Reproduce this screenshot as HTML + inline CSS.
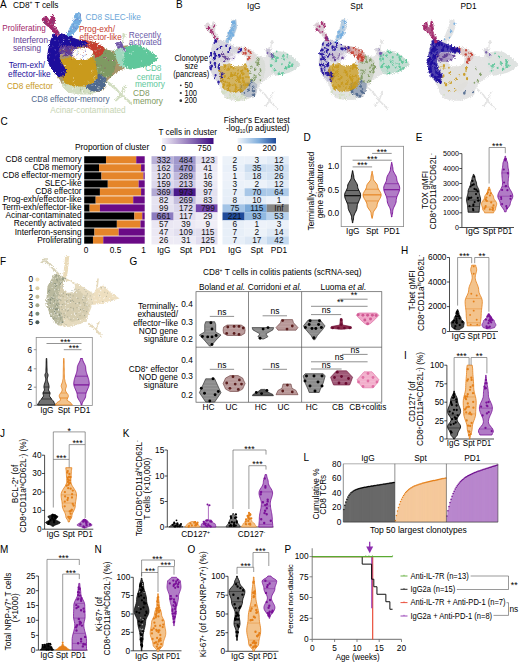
<!DOCTYPE html>
<html><head><meta charset="utf-8"><style>
html,body{margin:0;padding:0;background:#fff;width:520px;height:662px;overflow:hidden}
svg{display:block}
text{font-family:"Liberation Sans", sans-serif}
</style></head><body>
<svg width="520" height="662" viewBox="0 0 520 662">
<text x="0.60" y="124.80" font-size="10" transform="matrix(1,0,0,1.1,0,-12.48)" >C</text>
<text x="81.60" y="162.35" font-size="8.3" text-anchor="end" transform="matrix(1,0,0,1.1,0,-16.24)" >CD8 central memory</text>
<rect x="84.20" y="156.25" width="21.78" height="7.20" fill="#000" />
<rect x="105.98" y="156.25" width="30.25" height="7.20" fill="#e5852a" />
<rect x="136.23" y="156.25" width="8.47" height="7.20" fill="#6a0a86" />
<text x="81.60" y="170.37" font-size="8.3" text-anchor="end" transform="matrix(1,0,0,1.1,0,-17.04)" >CD8 memory</text>
<rect x="84.20" y="164.27" width="14.82" height="7.20" fill="#000" />
<rect x="99.02" y="164.27" width="42.05" height="7.20" fill="#e5852a" />
<rect x="141.07" y="164.27" width="3.63" height="7.20" fill="#6a0a86" />
<text x="81.60" y="178.39" font-size="8.3" text-anchor="end" transform="matrix(1,0,0,1.1,0,-17.84)" >CD8 effector-memory</text>
<rect x="84.20" y="172.29" width="17.30" height="7.20" fill="#000" />
<rect x="101.50" y="172.29" width="41.99" height="7.20" fill="#e5852a" />
<rect x="143.49" y="172.29" width="1.21" height="7.20" fill="#6a0a86" />
<text x="81.60" y="186.41" font-size="8.3" text-anchor="end" transform="matrix(1,0,0,1.1,0,-18.64)" >SLEC-like</text>
<rect x="84.20" y="180.31" width="23.60" height="7.20" fill="#000" />
<rect x="107.80" y="180.31" width="30.86" height="7.20" fill="#e5852a" />
<rect x="138.65" y="180.31" width="6.05" height="7.20" fill="#6a0a86" />
<text x="81.60" y="194.43" font-size="8.3" text-anchor="end" transform="matrix(1,0,0,1.1,0,-19.44)" >CD8 effector</text>
<rect x="84.20" y="188.33" width="15.73" height="7.20" fill="#000" />
<rect x="99.93" y="188.33" width="41.14" height="7.20" fill="#e5852a" />
<rect x="141.07" y="188.33" width="3.63" height="7.20" fill="#6a0a86" />
<text x="81.60" y="202.45" font-size="8.3" text-anchor="end" transform="matrix(1,0,0,1.1,0,-20.25)" >Prog-exh/effector-like</text>
<rect x="84.20" y="196.35" width="11.50" height="7.20" fill="#000" />
<rect x="95.70" y="196.35" width="37.51" height="7.20" fill="#e5852a" />
<rect x="133.21" y="196.35" width="11.49" height="7.20" fill="#6a0a86" />
<text x="81.60" y="210.47" font-size="8.3" text-anchor="end" transform="matrix(1,0,0,1.1,0,-21.05)" >Term-exh/effector-like</text>
<rect x="84.20" y="204.37" width="5.44" height="7.20" fill="#000" />
<rect x="89.64" y="204.37" width="10.29" height="7.20" fill="#e5852a" />
<rect x="99.93" y="204.37" width="44.77" height="7.20" fill="#6a0a86" />
<text x="81.60" y="218.49" font-size="8.3" text-anchor="end" transform="matrix(1,0,0,1.1,0,-21.85)" >Acinar-contaminated</text>
<rect x="84.20" y="212.39" width="50.21" height="7.20" fill="#000" />
<rect x="134.41" y="212.39" width="7.87" height="7.20" fill="#e5852a" />
<rect x="142.28" y="212.39" width="2.42" height="7.20" fill="#6a0a86" />
<text x="81.60" y="226.51" font-size="8.3" text-anchor="end" transform="matrix(1,0,0,1.1,0,-22.65)" >Recently activated</text>
<rect x="84.20" y="220.41" width="32.67" height="7.20" fill="#000" />
<rect x="116.87" y="220.41" width="23.60" height="7.20" fill="#e5852a" />
<rect x="140.47" y="220.41" width="4.23" height="7.20" fill="#6a0a86" />
<text x="81.60" y="234.53" font-size="8.3" text-anchor="end" transform="matrix(1,0,0,1.1,0,-23.45)" >Interferon-sensing</text>
<rect x="84.20" y="228.43" width="10.29" height="7.20" fill="#000" />
<rect x="94.48" y="228.43" width="24.20" height="7.20" fill="#e5852a" />
<rect x="118.69" y="228.43" width="26.02" height="7.20" fill="#6a0a86" />
<text x="81.60" y="242.55" font-size="8.3" text-anchor="end" transform="matrix(1,0,0,1.1,0,-24.26)" >Proliferating</text>
<rect x="84.20" y="236.45" width="8.77" height="7.20" fill="#000" />
<rect x="92.97" y="236.45" width="10.29" height="7.20" fill="#e5852a" />
<rect x="103.26" y="236.45" width="41.44" height="7.20" fill="#6a0a86" />
<text x="75.00" y="150.50" font-size="8.3" transform="matrix(1,0,0,1.1,0,-15.05)" >Proportion of cluster</text>
<text x="86.00" y="252.60" font-size="8.3" text-anchor="middle" transform="matrix(1,0,0,1.1,0,-25.26)" >0</text>
<text x="115.50" y="252.60" font-size="8.3" text-anchor="middle" transform="matrix(1,0,0,1.1,0,-25.26)" >0.5</text>
<text x="143.50" y="252.60" font-size="8.3" text-anchor="middle" transform="matrix(1,0,0,1.1,0,-25.26)" >1</text>
<rect x="151.50" y="156.20" width="22.10" height="8.07" fill="#b8b0d8" />
<text x="163.75" y="163.21" font-size="8.3" text-anchor="middle" fill="#111" transform="matrix(1,0,0,1.1,0,-16.32)" >332</text>
<rect x="222.50" y="156.20" width="22.10" height="8.07" fill="#ecf2f9" />
<text x="234.75" y="163.21" font-size="8.3" text-anchor="middle" fill="#111" transform="matrix(1,0,0,1.1,0,-16.32)" >2</text>
<rect x="173.60" y="156.20" width="22.20" height="8.07" fill="#a098cc" />
<text x="185.90" y="163.21" font-size="8.3" text-anchor="middle" fill="#111" transform="matrix(1,0,0,1.1,0,-16.32)" >484</text>
<rect x="244.60" y="156.20" width="22.10" height="8.07" fill="#ebf1f9" />
<text x="256.85" y="163.21" font-size="8.3" text-anchor="middle" fill="#111" transform="matrix(1,0,0,1.1,0,-16.32)" >3</text>
<rect x="195.80" y="156.20" width="21.70" height="8.07" fill="#e1deef" />
<text x="207.85" y="163.21" font-size="8.3" text-anchor="middle" fill="#111" transform="matrix(1,0,0,1.1,0,-16.32)" >123</text>
<rect x="266.70" y="156.20" width="22.10" height="8.07" fill="#e2ecf7" />
<text x="278.95" y="163.21" font-size="8.3" text-anchor="middle" fill="#111" transform="matrix(1,0,0,1.1,0,-16.32)" >12</text>
<rect x="151.50" y="164.22" width="22.10" height="8.07" fill="#dcd8ec" />
<text x="163.75" y="171.23" font-size="8.3" text-anchor="middle" fill="#111" transform="matrix(1,0,0,1.1,0,-17.12)" >162</text>
<rect x="222.50" y="164.22" width="22.10" height="8.07" fill="#e9f0f9" />
<text x="234.75" y="171.23" font-size="8.3" text-anchor="middle" fill="#111" transform="matrix(1,0,0,1.1,0,-17.12)" >5</text>
<rect x="173.60" y="164.22" width="22.20" height="8.07" fill="#a29acd" />
<text x="185.90" y="171.23" font-size="8.3" text-anchor="middle" fill="#111" transform="matrix(1,0,0,1.1,0,-17.12)" >470</text>
<rect x="244.60" y="164.22" width="22.10" height="8.07" fill="#cbddf0" />
<text x="256.85" y="171.23" font-size="8.3" text-anchor="middle" fill="#111" transform="matrix(1,0,0,1.1,0,-17.12)" >35</text>
<rect x="195.80" y="164.22" width="21.70" height="8.07" fill="#ece9f4" />
<text x="207.85" y="171.23" font-size="8.3" text-anchor="middle" fill="#111" transform="matrix(1,0,0,1.1,0,-17.12)" >41</text>
<rect x="266.70" y="164.22" width="22.10" height="8.07" fill="#d0e0f2" />
<text x="278.95" y="171.23" font-size="8.3" text-anchor="middle" fill="#111" transform="matrix(1,0,0,1.1,0,-17.12)" >30</text>
<rect x="151.50" y="172.24" width="22.10" height="8.07" fill="#e1deef" />
<text x="163.75" y="179.25" font-size="8.3" text-anchor="middle" fill="#111" transform="matrix(1,0,0,1.1,0,-17.93)" >120</text>
<rect x="222.50" y="172.24" width="22.10" height="8.07" fill="#edf2fa" />
<text x="234.75" y="179.25" font-size="8.3" text-anchor="middle" fill="#111" transform="matrix(1,0,0,1.1,0,-17.93)" >1</text>
<rect x="173.60" y="172.24" width="22.20" height="8.07" fill="#c1badd" />
<text x="185.90" y="179.25" font-size="8.3" text-anchor="middle" fill="#111" transform="matrix(1,0,0,1.1,0,-17.93)" >289</text>
<rect x="244.60" y="172.24" width="22.10" height="8.07" fill="#dce8f5" />
<text x="256.85" y="179.25" font-size="8.3" text-anchor="middle" fill="#111" transform="matrix(1,0,0,1.1,0,-17.93)" >18</text>
<rect x="195.80" y="172.24" width="21.70" height="8.07" fill="#efedf6" />
<text x="207.85" y="179.25" font-size="8.3" text-anchor="middle" fill="#111" transform="matrix(1,0,0,1.1,0,-17.93)" >16</text>
<rect x="266.70" y="172.24" width="22.10" height="8.07" fill="#d4e3f3" />
<text x="278.95" y="179.25" font-size="8.3" text-anchor="middle" fill="#111" transform="matrix(1,0,0,1.1,0,-17.93)" >26</text>
<rect x="151.50" y="180.26" width="22.10" height="8.07" fill="#dcd8ec" />
<text x="163.75" y="187.27" font-size="8.3" text-anchor="middle" fill="#111" transform="matrix(1,0,0,1.1,0,-18.73)" >159</text>
<rect x="222.50" y="180.26" width="22.10" height="8.07" fill="#ebf1f9" />
<text x="234.75" y="187.27" font-size="8.3" text-anchor="middle" fill="#111" transform="matrix(1,0,0,1.1,0,-18.73)" >3</text>
<rect x="173.60" y="180.26" width="22.20" height="8.07" fill="#d1cce6" />
<text x="185.90" y="187.27" font-size="8.3" text-anchor="middle" fill="#111" transform="matrix(1,0,0,1.1,0,-18.73)" >213</text>
<rect x="244.60" y="180.26" width="22.10" height="8.07" fill="#ecf2f9" />
<text x="256.85" y="187.27" font-size="8.3" text-anchor="middle" fill="#111" transform="matrix(1,0,0,1.1,0,-18.73)" >2</text>
<rect x="195.80" y="180.26" width="21.70" height="8.07" fill="#eceaf5" />
<text x="207.85" y="187.27" font-size="8.3" text-anchor="middle" fill="#111" transform="matrix(1,0,0,1.1,0,-18.73)" >36</text>
<rect x="266.70" y="180.26" width="22.10" height="8.07" fill="#e2ecf7" />
<text x="278.95" y="187.27" font-size="8.3" text-anchor="middle" fill="#111" transform="matrix(1,0,0,1.1,0,-18.73)" >12</text>
<rect x="151.50" y="188.28" width="22.10" height="8.07" fill="#b2aad5" />
<text x="163.75" y="195.29" font-size="8.3" text-anchor="middle" fill="#111" transform="matrix(1,0,0,1.1,0,-19.53)" >369</text>
<rect x="222.50" y="188.28" width="22.10" height="8.07" fill="#e7eff8" />
<text x="234.75" y="195.29" font-size="8.3" text-anchor="middle" fill="#111" transform="matrix(1,0,0,1.1,0,-19.53)" >7</text>
<rect x="173.60" y="188.28" width="22.20" height="8.07" fill="#4a1a8c" />
<text x="185.90" y="195.29" font-size="8.3" text-anchor="middle" fill="#111" transform="matrix(1,0,0,1.1,0,-19.53)" >973</text>
<rect x="244.60" y="188.28" width="22.10" height="8.07" fill="#a8c7e7" />
<text x="256.85" y="195.29" font-size="8.3" text-anchor="middle" fill="#111" transform="matrix(1,0,0,1.1,0,-19.53)" >70</text>
<rect x="195.80" y="188.28" width="21.70" height="8.07" fill="#e4e1f0" />
<text x="207.85" y="195.29" font-size="8.3" text-anchor="middle" fill="#111" transform="matrix(1,0,0,1.1,0,-19.53)" >97</text>
<rect x="266.70" y="188.28" width="22.10" height="8.07" fill="#aecbe9" />
<text x="278.95" y="195.29" font-size="8.3" text-anchor="middle" fill="#111" transform="matrix(1,0,0,1.1,0,-19.53)" >64</text>
<rect x="151.50" y="196.30" width="22.10" height="8.07" fill="#e6e3f1" />
<text x="163.75" y="203.31" font-size="8.3" text-anchor="middle" fill="#111" transform="matrix(1,0,0,1.1,0,-20.33)" >82</text>
<rect x="222.50" y="196.30" width="22.10" height="8.07" fill="#e6eef8" />
<text x="234.75" y="203.31" font-size="8.3" text-anchor="middle" fill="#111" transform="matrix(1,0,0,1.1,0,-20.33)" >8</text>
<rect x="173.60" y="196.30" width="22.20" height="8.07" fill="#c5bfdf" />
<text x="185.90" y="203.31" font-size="8.3" text-anchor="middle" fill="#111" transform="matrix(1,0,0,1.1,0,-20.33)" >269</text>
<rect x="244.60" y="196.30" width="22.10" height="8.07" fill="#e4edf7" />
<text x="256.85" y="203.31" font-size="8.3" text-anchor="middle" fill="#111" transform="matrix(1,0,0,1.1,0,-20.33)" >10</text>
<rect x="195.80" y="196.30" width="21.70" height="8.07" fill="#e6e3f1" />
<text x="207.85" y="203.31" font-size="8.3" text-anchor="middle" fill="#111" transform="matrix(1,0,0,1.1,0,-20.33)" >83</text>
<rect x="266.70" y="196.30" width="22.10" height="8.07" fill="#edf2fa" />
<text x="278.95" y="203.31" font-size="8.3" text-anchor="middle" fill="#111" transform="matrix(1,0,0,1.1,0,-20.33)" >1</text>
<rect x="151.50" y="204.32" width="22.10" height="8.07" fill="#e4e1f0" />
<text x="163.75" y="211.33" font-size="8.3" text-anchor="middle" fill="#111" transform="matrix(1,0,0,1.1,0,-21.13)" >99</text>
<rect x="222.50" y="204.32" width="22.10" height="8.07" fill="#a3c4e6" />
<text x="234.75" y="211.33" font-size="8.3" text-anchor="middle" fill="#111" transform="matrix(1,0,0,1.1,0,-21.13)" >75</text>
<rect x="173.60" y="204.32" width="22.20" height="8.07" fill="#dad6eb" />
<text x="185.90" y="211.33" font-size="8.3" text-anchor="middle" fill="#111" transform="matrix(1,0,0,1.1,0,-21.13)" >172</text>
<rect x="244.60" y="204.32" width="22.10" height="8.07" fill="#7caad9" />
<text x="256.85" y="211.33" font-size="8.3" text-anchor="middle" fill="#111" transform="matrix(1,0,0,1.1,0,-21.13)" >115</text>
<rect x="195.80" y="204.32" width="21.70" height="8.07" fill="#7447ae" />
<text x="207.85" y="211.33" font-size="8.3" text-anchor="middle" fill="#111" transform="matrix(1,0,0,1.1,0,-21.13)" >799</text>
<rect x="266.70" y="204.32" width="22.10" height="8.07" fill="#858585" />
<text x="278.95" y="211.33" font-size="8.3" text-anchor="middle" fill="#111" transform="matrix(1,0,0,1.1,0,-21.13)" >Inf</text>
<rect x="151.50" y="212.34" width="22.10" height="8.07" fill="#8c7cc0" />
<text x="163.75" y="219.35" font-size="8.3" text-anchor="middle" fill="#111" transform="matrix(1,0,0,1.1,0,-21.94)" >661</text>
<rect x="222.50" y="212.34" width="22.10" height="8.07" fill="#1f4b9a" />
<text x="234.75" y="219.35" font-size="8.3" text-anchor="middle" fill="#111" transform="matrix(1,0,0,1.1,0,-21.94)" >221</text>
<rect x="173.60" y="212.34" width="22.20" height="8.07" fill="#e2deef" />
<text x="185.90" y="219.35" font-size="8.3" text-anchor="middle" fill="#111" transform="matrix(1,0,0,1.1,0,-21.94)" >117</text>
<rect x="244.60" y="212.34" width="22.10" height="8.07" fill="#91b9e1" />
<text x="256.85" y="219.35" font-size="8.3" text-anchor="middle" fill="#111" transform="matrix(1,0,0,1.1,0,-21.94)" >93</text>
<rect x="195.80" y="212.34" width="21.70" height="8.07" fill="#edebf5" />
<text x="207.85" y="219.35" font-size="8.3" text-anchor="middle" fill="#111" transform="matrix(1,0,0,1.1,0,-21.94)" >29</text>
<rect x="266.70" y="212.34" width="22.10" height="8.07" fill="#b9d2ec" />
<text x="278.95" y="219.35" font-size="8.3" text-anchor="middle" fill="#111" transform="matrix(1,0,0,1.1,0,-21.94)" >53</text>
<rect x="151.50" y="220.36" width="22.10" height="8.07" fill="#eae7f3" />
<text x="163.75" y="227.37" font-size="8.3" text-anchor="middle" fill="#111" transform="matrix(1,0,0,1.1,0,-22.74)" >57</text>
<rect x="222.50" y="220.36" width="22.10" height="8.07" fill="#e8eff8" />
<text x="234.75" y="227.37" font-size="8.3" text-anchor="middle" fill="#111" transform="matrix(1,0,0,1.1,0,-22.74)" >6</text>
<rect x="173.60" y="220.36" width="22.20" height="8.07" fill="#ece9f4" />
<text x="185.90" y="227.37" font-size="8.3" text-anchor="middle" fill="#111" transform="matrix(1,0,0,1.1,0,-22.74)" >39</text>
<rect x="244.60" y="220.36" width="22.10" height="8.07" fill="#edf2fa" />
<text x="256.85" y="227.37" font-size="8.3" text-anchor="middle" fill="#111" transform="matrix(1,0,0,1.1,0,-22.74)" >1</text>
<rect x="195.80" y="220.36" width="21.70" height="8.07" fill="#f0eef6" />
<text x="207.85" y="227.37" font-size="8.3" text-anchor="middle" fill="#111" transform="matrix(1,0,0,1.1,0,-22.74)" >9</text>
<rect x="266.70" y="220.36" width="22.10" height="8.07" fill="#ebf1f9" />
<text x="278.95" y="227.37" font-size="8.3" text-anchor="middle" fill="#111" transform="matrix(1,0,0,1.1,0,-22.74)" >3</text>
<rect x="151.50" y="228.38" width="22.10" height="8.07" fill="#ebe8f4" />
<text x="163.75" y="235.39" font-size="8.3" text-anchor="middle" fill="#111" transform="matrix(1,0,0,1.1,0,-23.54)" >47</text>
<rect x="222.50" y="228.38" width="22.10" height="8.07" fill="#e7eff8" />
<text x="234.75" y="235.39" font-size="8.3" text-anchor="middle" fill="#111" transform="matrix(1,0,0,1.1,0,-23.54)" >7</text>
<rect x="173.60" y="228.38" width="22.20" height="8.07" fill="#e3e0f0" />
<text x="185.90" y="235.39" font-size="8.3" text-anchor="middle" fill="#111" transform="matrix(1,0,0,1.1,0,-23.54)" >109</text>
<rect x="244.60" y="228.38" width="22.10" height="8.07" fill="#ecf2f9" />
<text x="256.85" y="235.39" font-size="8.3" text-anchor="middle" fill="#111" transform="matrix(1,0,0,1.1,0,-23.54)" >2</text>
<rect x="195.80" y="228.38" width="21.70" height="8.07" fill="#e2dfef" />
<text x="207.85" y="235.39" font-size="8.3" text-anchor="middle" fill="#111" transform="matrix(1,0,0,1.1,0,-23.54)" >115</text>
<rect x="266.70" y="228.38" width="22.10" height="8.07" fill="#e0eaf6" />
<text x="278.95" y="235.39" font-size="8.3" text-anchor="middle" fill="#111" transform="matrix(1,0,0,1.1,0,-23.54)" >14</text>
<rect x="151.50" y="236.40" width="22.10" height="8.07" fill="#eeebf5" />
<text x="163.75" y="243.41" font-size="8.3" text-anchor="middle" fill="#111" transform="matrix(1,0,0,1.1,0,-24.34)" >26</text>
<rect x="222.50" y="236.40" width="22.10" height="8.07" fill="#e7eff8" />
<text x="234.75" y="243.41" font-size="8.3" text-anchor="middle" fill="#111" transform="matrix(1,0,0,1.1,0,-24.34)" >7</text>
<rect x="173.60" y="236.40" width="22.20" height="8.07" fill="#edebf5" />
<text x="185.90" y="243.41" font-size="8.3" text-anchor="middle" fill="#111" transform="matrix(1,0,0,1.1,0,-24.34)" >31</text>
<rect x="244.60" y="236.40" width="22.10" height="8.07" fill="#dde8f5" />
<text x="256.85" y="243.41" font-size="8.3" text-anchor="middle" fill="#111" transform="matrix(1,0,0,1.1,0,-24.34)" >17</text>
<rect x="195.80" y="236.40" width="21.70" height="8.07" fill="#e1ddef" />
<text x="207.85" y="243.41" font-size="8.3" text-anchor="middle" fill="#111" transform="matrix(1,0,0,1.1,0,-24.34)" >125</text>
<rect x="266.70" y="236.40" width="22.10" height="8.07" fill="#c4d9ef" />
<text x="278.95" y="243.41" font-size="8.3" text-anchor="middle" fill="#111" transform="matrix(1,0,0,1.1,0,-24.34)" >42</text>
<text x="163.75" y="252.60" font-size="8.3" text-anchor="middle" transform="matrix(1,0,0,1.1,0,-25.26)" >IgG</text>
<text x="234.75" y="252.60" font-size="8.3" text-anchor="middle" transform="matrix(1,0,0,1.1,0,-25.26)" >IgG</text>
<text x="185.90" y="252.60" font-size="8.3" text-anchor="middle" transform="matrix(1,0,0,1.1,0,-25.26)" >Spt</text>
<text x="256.85" y="252.60" font-size="8.3" text-anchor="middle" transform="matrix(1,0,0,1.1,0,-25.26)" >Spt</text>
<text x="207.85" y="252.60" font-size="8.3" text-anchor="middle" transform="matrix(1,0,0,1.1,0,-25.26)" >PD1</text>
<text x="278.95" y="252.60" font-size="8.3" text-anchor="middle" transform="matrix(1,0,0,1.1,0,-25.26)" >PD1</text>
<text x="158.50" y="135.50" font-size="8.3" textLength="58.50" lengthAdjust="spacingAndGlyphs" transform="matrix(1,0,0,1.1,0,-13.55)" >T cells in cluster</text>
<defs><linearGradient id="gp" x1="0" x2="1"><stop offset="0" stop-color="#f4f2f9"/><stop offset="1" stop-color="#3c0a82"/></linearGradient><linearGradient id="gb" x1="0" x2="1"><stop offset="0" stop-color="#f2f6fb"/><stop offset="0.55" stop-color="#80aedc"/><stop offset="1" stop-color="#1f4b9a"/></linearGradient></defs>
<rect x="162.00" y="138.00" width="51.50" height="6.00" fill="url(#gp)" />
<text x="163.50" y="151.50" font-size="8.3" text-anchor="middle" transform="matrix(1,0,0,1.1,0,-15.15)" >0</text>
<text x="204.50" y="151.50" font-size="8.3" text-anchor="middle" transform="matrix(1,0,0,1.1,0,-15.15)" >750</text>
<text x="223.80" y="123.50" font-size="8.3" textLength="66.00" lengthAdjust="spacingAndGlyphs" transform="matrix(1,0,0,1.1,0,-12.35)" >Fisher's Exact test</text>
<text x="226.00" y="131.50" font-size="8.3" transform="matrix(1,0,0,1.1,0,-13.15)" >-log<tspan font-size="5" dy="1.5">10</tspan><tspan dy="-1.5">(p adjusted)</tspan></text>
<rect x="237.50" y="138.00" width="38.50" height="5.50" fill="url(#gb)" />
<text x="239.50" y="151.20" font-size="8.3" text-anchor="middle" transform="matrix(1,0,0,1.1,0,-15.12)" >0</text>
<text x="269.50" y="151.20" font-size="8.3" text-anchor="middle" transform="matrix(1,0,0,1.1,0,-15.12)" >200</text>
<text x="303.50" y="141.50" font-size="10" transform="matrix(1,0,0,1.1,0,-14.15)" >D</text>
<rect x="341.2" y="146.3" width="62.4" height="80.3" fill="none" stroke="#8a8a8a" stroke-width="0.8"/>
<text x="339.20" y="169.40" font-size="8.3" text-anchor="end" transform="matrix(1,0,0,1.1,0,-16.94)" >1.0</text>
<text x="339.20" y="193.00" font-size="8.3" text-anchor="end" transform="matrix(1,0,0,1.1,0,-19.30)" >0.5</text>
<text x="339.20" y="216.40" font-size="8.3" text-anchor="end" transform="matrix(1,0,0,1.1,0,-21.64)" >0.0</text>
<text x="314.30" y="191.00" font-size="8.3" text-anchor="middle" textLength="79.00" lengthAdjust="spacingAndGlyphs" transform="rotate(-90 314.30 191.00)" >Terminally-exhausted</text>
<text x="322.80" y="191.20" font-size="8.3" text-anchor="middle" textLength="54.00" lengthAdjust="spacingAndGlyphs" transform="rotate(-90 322.80 191.20)" >gene signature</text>
<text x="352.80" y="234.00" font-size="8.3" text-anchor="middle" transform="matrix(1,0,0,1.1,0,-23.40)" >IgG</text>
<text x="372.20" y="234.00" font-size="8.3" text-anchor="middle" transform="matrix(1,0,0,1.1,0,-23.40)" >Spt</text>
<text x="391.80" y="234.00" font-size="8.3" text-anchor="middle" transform="matrix(1,0,0,1.1,0,-23.40)" >PD1</text>
<polygon points="352.40,170.70 352.30,172.00 352.03,173.30 351.71,174.61 351.47,175.91 351.39,177.21 351.15,178.51 350.59,179.82 349.83,181.12 349.01,182.42 348.28,183.72 347.78,185.03 347.60,186.33 347.44,187.63 347.00,188.94 346.38,190.24 345.69,191.54 345.09,192.84 344.70,194.15 344.60,195.45 344.74,196.75 345.07,198.05 345.54,199.36 346.11,200.66 346.71,201.96 347.26,203.26 347.71,204.56 348.00,205.87 348.10,207.17 348.23,208.47 348.61,209.78 349.18,211.08 349.85,212.38 350.52,213.68 351.09,214.99 351.47,216.29 351.60,217.59 351.72,218.89 352.00,220.19 352.28,221.50 352.40,222.80 352.80,222.80 352.92,221.50 353.20,220.19 353.48,218.89 353.60,217.59 353.73,216.29 354.11,214.99 354.68,213.68 355.35,212.38 356.02,211.08 356.59,209.78 356.97,208.47 357.10,207.17 357.20,205.87 357.49,204.56 357.94,203.26 358.49,201.96 359.09,200.66 359.66,199.36 360.13,198.05 360.46,196.75 360.60,195.45 360.50,194.15 360.11,192.84 359.51,191.54 358.82,190.24 358.20,188.94 357.76,187.63 357.60,186.33 357.42,185.03 356.92,183.72 356.19,182.42 355.37,181.12 354.61,179.82 354.05,178.51 353.81,177.21 353.73,175.91 353.49,174.61 353.17,173.30 352.90,172.00 352.80,170.70" fill="#6e6e6e" stroke="#000" stroke-width="0.9" stroke-linejoin="round"/>
<line x1="346.24" y1="190.50" x2="358.96" y2="190.50" stroke="#000" stroke-width="0.6" />
<line x1="344.63" y1="195.71" x2="360.57" y2="195.71" stroke="#000" stroke-width="1.1" />
<line x1="347.15" y1="203.00" x2="358.05" y2="203.00" stroke="#000" stroke-width="0.6" />
<polygon points="371.90,171.40 371.83,172.57 371.65,173.75 371.40,174.92 371.15,176.09 370.97,177.26 370.90,178.44 370.67,179.61 370.05,180.78 369.15,181.95 368.16,183.12 367.30,184.30 366.75,185.47 366.59,186.64 366.37,187.81 365.85,188.99 365.15,190.16 364.40,191.33 363.73,192.50 363.26,193.68 363.10,194.85 363.23,196.02 363.59,197.20 364.14,198.37 364.82,199.54 365.53,200.71 366.18,201.89 366.70,203.06 367.02,204.23 367.11,205.40 367.37,206.58 367.95,207.75 368.75,208.92 369.62,210.09 370.39,211.27 370.91,212.44 371.10,213.61 371.22,214.78 371.50,215.96 371.78,217.13 371.90,218.30 372.30,218.30 372.42,217.13 372.70,215.96 372.98,214.78 373.10,213.61 373.29,212.44 373.81,211.27 374.58,210.09 375.45,208.92 376.25,207.75 376.83,206.58 377.09,205.40 377.18,204.23 377.50,203.06 378.02,201.89 378.67,200.71 379.38,199.54 380.06,198.37 380.61,197.20 380.97,196.02 381.10,194.85 380.94,193.68 380.47,192.50 379.80,191.33 379.05,190.16 378.35,188.99 377.83,187.81 377.61,186.64 377.45,185.47 376.90,184.30 376.04,183.12 375.05,181.95 374.15,180.78 373.53,179.61 373.30,178.44 373.23,177.26 373.05,176.09 372.80,174.92 372.55,173.75 372.37,172.57 372.30,171.40" fill="#f3c38c" stroke="#e5801a" stroke-width="0.9" stroke-linejoin="round"/>
<line x1="365.71" y1="189.22" x2="378.49" y2="189.22" stroke="#e5801a" stroke-width="0.6" />
<line x1="363.10" y1="194.85" x2="381.10" y2="194.85" stroke="#e5801a" stroke-width="1.1" />
<line x1="365.66" y1="200.95" x2="378.54" y2="200.95" stroke="#e5801a" stroke-width="0.6" />
<polygon points="391.50,162.40 391.40,163.77 391.13,165.13 390.81,166.50 390.57,167.86 390.49,169.22 390.25,170.59 389.69,171.96 388.93,173.32 388.11,174.69 387.38,176.05 386.88,177.41 386.70,178.78 386.54,180.15 386.10,181.51 385.48,182.88 384.79,184.24 384.19,185.61 383.80,186.97 383.70,188.34 383.84,189.70 384.17,191.06 384.64,192.43 385.21,193.80 385.81,195.16 386.36,196.53 386.81,197.89 387.10,199.25 387.20,200.62 387.33,201.99 387.71,203.35 388.28,204.72 388.95,206.08 389.62,207.44 390.19,208.81 390.57,210.18 390.70,211.54 390.82,212.91 391.10,214.27 391.38,215.63 391.50,217.00 391.90,217.00 392.02,215.63 392.30,214.27 392.58,212.91 392.70,211.54 392.83,210.18 393.21,208.81 393.78,207.44 394.45,206.08 395.12,204.72 395.69,203.35 396.07,201.99 396.20,200.62 396.30,199.25 396.59,197.89 397.04,196.53 397.59,195.16 398.19,193.80 398.76,192.43 399.23,191.06 399.56,189.70 399.70,188.34 399.60,186.97 399.21,185.61 398.61,184.24 397.92,182.88 397.30,181.51 396.86,180.15 396.70,178.78 396.52,177.41 396.02,176.05 395.29,174.69 394.47,173.32 393.71,171.96 393.15,170.59 392.91,169.22 392.83,167.86 392.59,166.50 392.27,165.13 392.00,163.77 391.90,162.40" fill="#b17cc6" stroke="#7a1198" stroke-width="0.9" stroke-linejoin="round"/>
<line x1="385.06" y1="183.69" x2="398.34" y2="183.69" stroke="#7a1198" stroke-width="0.6" />
<line x1="383.84" y1="189.70" x2="399.56" y2="189.70" stroke="#7a1198" stroke-width="1.1" />
<line x1="386.45" y1="196.80" x2="396.95" y2="196.80" stroke="#7a1198" stroke-width="0.6" />
<line x1="352.60" y1="166.90" x2="372.10" y2="166.90" stroke="#777" stroke-width="0.8" />
<text x="362.30" y="168.40" font-size="8.8" text-anchor="middle" >***</text>
<line x1="352.60" y1="160.20" x2="391.70" y2="160.20" stroke="#777" stroke-width="0.8" />
<text x="372.20" y="161.70" font-size="8.8" text-anchor="middle" >***</text>
<line x1="372.10" y1="153.40" x2="391.70" y2="153.40" stroke="#777" stroke-width="0.8" />
<text x="381.90" y="154.90" font-size="8.8" text-anchor="middle" >***</text>
<text x="415.70" y="141.50" font-size="10" transform="matrix(1,0,0,1.1,0,-14.15)" >E</text>
<line x1="461.90" y1="153.60" x2="461.90" y2="227.50" stroke="#000" stroke-width="0.7" />
<line x1="459.30" y1="153.60" x2="461.90" y2="153.60" stroke="#000" stroke-width="0.7" />
<text x="458.90" y="156.20" font-size="7.1" text-anchor="end" transform="matrix(1,0,0,1.1,0,-15.62)" >5000</text>
<line x1="459.30" y1="168.50" x2="461.90" y2="168.50" stroke="#000" stroke-width="0.7" />
<text x="458.90" y="171.10" font-size="7.1" text-anchor="end" transform="matrix(1,0,0,1.1,0,-17.11)" >4000</text>
<line x1="459.30" y1="183.50" x2="461.90" y2="183.50" stroke="#000" stroke-width="0.7" />
<text x="458.90" y="186.10" font-size="7.1" text-anchor="end" transform="matrix(1,0,0,1.1,0,-18.61)" >3000</text>
<line x1="459.30" y1="198.00" x2="461.90" y2="198.00" stroke="#000" stroke-width="0.7" />
<text x="458.90" y="200.60" font-size="7.1" text-anchor="end" transform="matrix(1,0,0,1.1,0,-20.06)" >2000</text>
<line x1="459.30" y1="212.80" x2="461.90" y2="212.80" stroke="#000" stroke-width="0.7" />
<text x="458.90" y="215.40" font-size="7.1" text-anchor="end" transform="matrix(1,0,0,1.1,0,-21.54)" >1000</text>
<line x1="459.30" y1="227.50" x2="461.90" y2="227.50" stroke="#000" stroke-width="0.7" />
<text x="458.90" y="230.10" font-size="7.1" text-anchor="end" transform="matrix(1,0,0,1.1,0,-23.01)" >0</text>
<line x1="461.90" y1="227.50" x2="514.00" y2="227.50" stroke="#000" stroke-width="0.7" />
<text x="472.55" y="234.30" font-size="8.3" text-anchor="middle" textLength="14.10" lengthAdjust="spacingAndGlyphs" transform="matrix(1,0,0,1.1,0,-23.43)" >IgG</text>
<text x="489.25" y="234.30" font-size="8.3" text-anchor="middle" textLength="12.80" lengthAdjust="spacingAndGlyphs" transform="matrix(1,0,0,1.1,0,-23.43)" >Spt</text>
<text x="504.90" y="234.30" font-size="8.3" text-anchor="middle" textLength="14.20" lengthAdjust="spacingAndGlyphs" transform="matrix(1,0,0,1.1,0,-23.43)" >PD1</text>
<text x="427.60" y="190.00" font-size="8.3" text-anchor="middle" transform="rotate(-90 427.60 190.00)" >TOX gMFI</text>
<text x="435.80" y="191.50" font-size="8.3" text-anchor="middle" transform="rotate(-90 435.80 191.50)" >CD8<tspan font-size="5" dy="-2.5">+</tspan><tspan dy="2.5">CD11a</tspan><tspan font-size="5" dy="-2.5">hi</tspan><tspan dy="2.5">CD62L</tspan><tspan font-size="5" dy="-2.5">-</tspan></text>
<polygon points="473.30,174.40 473.12,175.34 472.70,176.29 472.28,177.24 472.10,178.18 472.00,179.12 471.73,180.07 471.35,181.02 470.98,181.96 470.70,182.91 470.60,183.85 470.50,184.80 470.23,185.74 469.83,186.69 469.35,187.63 468.87,188.57 468.47,189.52 468.20,190.47 468.10,191.41 468.06,192.35 467.93,193.30 467.74,194.25 467.50,195.19 467.25,196.13 467.00,197.08 466.80,198.03 466.66,198.97 466.60,199.91 466.63,200.86 466.76,201.81 466.96,202.75 467.19,203.69 467.40,204.64 467.55,205.58 467.60,206.53 467.63,207.47 467.73,208.42 467.85,209.37 467.98,210.31 468.07,211.25 468.10,212.20 479.10,212.20 479.13,211.25 479.23,210.31 479.35,209.37 479.48,208.42 479.57,207.47 479.60,206.53 479.65,205.58 479.80,204.64 480.01,203.69 480.24,202.75 480.44,201.81 480.57,200.86 480.60,199.91 480.54,198.97 480.40,198.03 480.20,197.08 479.95,196.13 479.70,195.19 479.46,194.25 479.27,193.30 479.14,192.35 479.10,191.41 479.00,190.47 478.73,189.52 478.33,188.57 477.85,187.63 477.37,186.69 476.97,185.74 476.70,184.80 476.60,183.85 476.50,182.91 476.23,181.96 475.85,181.02 475.48,180.07 475.20,179.12 475.10,178.18 474.92,177.24 474.50,176.29 474.08,175.34 473.90,174.40" fill="#6a6a6a" stroke="#000" stroke-width="0.8" stroke-linejoin="round"/>
<line x1="468.10" y1="191.41" x2="479.10" y2="191.41" stroke="#000" stroke-width="0.4" />
<line x1="466.61" y1="200.10" x2="480.59" y2="200.10" stroke="#000" stroke-width="0.4" />
<line x1="467.60" y1="206.53" x2="479.60" y2="206.53" stroke="#000" stroke-width="0.4" />
<path d="M473.8 184.4h0M474.5 188.9h0M468.7 197.6h0M474.2 176.7h0M472.2 185.1h0M473.3 210.2h0M473.4 204.7h0M469.6 198.0h0M477.8 197.9h0M476.0 194.1h0M468.5 199.1h0M474.6 202.1h0M470.6 186.5h0M473.3 205.7h0M478.1 200.7h0M478.6 200.6h0M476.3 189.7h0M477.7 191.4h0M469.5 206.2h0M472.5 180.9h0M473.0 209.1h0M471.3 197.6h0" stroke="#000" stroke-width="2.16" stroke-linecap="round"/>
<polygon points="488.80,187.00 488.72,187.65 488.50,188.29 488.20,188.94 487.90,189.58 487.68,190.22 487.60,190.87 487.53,191.52 487.31,192.16 486.98,192.81 486.56,193.45 486.10,194.09 485.64,194.74 485.22,195.38 484.89,196.03 484.67,196.68 484.60,197.32 484.52,197.97 484.30,198.61 483.96,199.25 483.53,199.90 483.05,200.55 482.57,201.19 482.14,201.84 481.80,202.48 481.58,203.12 481.50,203.77 481.54,204.42 481.66,205.06 481.84,205.71 482.05,206.35 482.26,207.00 482.44,207.64 482.56,208.28 482.60,208.93 482.73,209.58 483.10,210.22 483.60,210.87 484.10,211.51 484.47,212.16 484.60,212.80 493.60,212.80 493.73,212.16 494.10,211.51 494.60,210.87 495.10,210.22 495.47,209.58 495.60,208.93 495.64,208.28 495.76,207.64 495.94,207.00 496.15,206.35 496.36,205.71 496.54,205.06 496.66,204.42 496.70,203.77 496.62,203.12 496.40,202.48 496.06,201.84 495.63,201.19 495.15,200.55 494.67,199.90 494.24,199.25 493.90,198.61 493.68,197.97 493.60,197.32 493.53,196.68 493.31,196.03 492.98,195.38 492.56,194.74 492.10,194.09 491.64,193.45 491.22,192.81 490.89,192.16 490.67,191.52 490.60,190.87 490.52,190.22 490.30,189.58 490.00,188.94 489.70,188.29 489.48,187.65 489.40,187.00" fill="#f3c38c" stroke="#e5801a" stroke-width="0.8" stroke-linejoin="round"/>
<line x1="482.57" y1="201.19" x2="495.63" y2="201.19" stroke="#e5801a" stroke-width="0.4" />
<line x1="482.30" y1="207.12" x2="495.90" y2="207.12" stroke="#e5801a" stroke-width="0.4" />
<path d="M487.2 193.8h0M486.4 197.5h0M488.9 189.8h0M492.3 209.6h0M485.7 206.1h0M486.7 200.8h0M487.9 192.3h0M490.9 193.3h0M492.6 207.5h0M485.5 206.9h0M489.9 195.5h0M493.5 205.3h0M484.5 208.7h0M491.2 202.4h0M486.0 200.0h0M485.5 199.3h0M492.9 210.0h0M486.9 201.0h0M489.9 209.4h0M493.0 208.8h0" stroke="#e5801a" stroke-width="2.16" stroke-linecap="round"/>
<polygon points="505.00,156.20 504.85,157.59 504.45,158.98 503.90,160.37 503.35,161.76 502.95,163.15 502.80,164.54 502.73,165.93 502.55,167.32 502.30,168.71 502.05,170.10 501.87,171.49 501.80,172.88 501.83,174.27 501.90,175.66 502.02,177.05 502.15,178.44 502.28,179.83 502.40,181.22 502.47,182.61 502.50,184.00 502.35,185.39 501.93,186.78 501.28,188.17 500.48,189.56 499.65,190.95 498.88,192.34 498.27,193.73 497.90,195.12 497.81,196.51 498.11,197.90 498.75,199.29 499.49,200.68 500.08,202.07 500.30,203.46 500.58,204.85 501.35,206.24 502.40,207.63 503.45,209.02 504.22,210.41 504.50,211.80 506.10,211.80 506.38,210.41 507.15,209.02 508.20,207.63 509.25,206.24 510.02,204.85 510.30,203.46 510.52,202.07 511.11,200.68 511.85,199.29 512.49,197.90 512.79,196.51 512.70,195.12 512.33,193.73 511.72,192.34 510.95,190.95 510.12,189.56 509.32,188.17 508.67,186.78 508.25,185.39 508.10,184.00 508.13,182.61 508.20,181.22 508.32,179.83 508.45,178.44 508.58,177.05 508.70,175.66 508.77,174.27 508.80,172.88 508.73,171.49 508.55,170.10 508.30,168.71 508.05,167.32 507.87,165.93 507.80,164.54 507.65,163.15 507.25,161.76 506.70,160.37 506.15,158.98 505.75,157.59 505.60,156.20" fill="#b17cc6" stroke="#7a1198" stroke-width="0.8" stroke-linejoin="round"/>
<line x1="501.80" y1="172.88" x2="508.80" y2="172.88" stroke="#7a1198" stroke-width="0.4" />
<line x1="497.83" y1="196.23" x2="512.77" y2="196.23" stroke="#7a1198" stroke-width="0.4" />
<line x1="501.93" y1="186.78" x2="508.67" y2="186.78" stroke="#7a1198" stroke-width="0.4" />
<path d="M507.4 190.2h0M510.4 198.8h0M510.7 196.0h0M505.2 160.4h0M506.3 206.2h0M502.1 204.1h0M504.1 182.5h0M505.7 186.2h0M504.8 159.6h0M507.8 173.0h0M501.1 197.3h0M501.2 198.9h0M502.1 189.9h0M505.9 159.1h0M503.8 169.5h0M506.9 208.1h0M508.0 173.5h0M506.2 186.0h0" stroke="#7a1198" stroke-width="2.16" stroke-linecap="round"/>
<polyline points="489.10,183.50 489.10,147.50 505.30,147.50 505.30,153.20" fill="none" stroke="#555" stroke-width="0.6" />
<text x="497.20" y="149.00" font-size="8.8" text-anchor="middle" >***</text>
<text x="129.40" y="264.80" font-size="10" transform="matrix(1,0,0,1.1,0,-26.48)" >G</text>
<text x="203.00" y="275.50" font-size="8.3" transform="matrix(1,0,0,1.1,0,-27.55)" >CD8<tspan font-size="5" dy="-3">+</tspan><tspan dy="3"> T cells in colitis patients (scRNA-seq)</tspan></text>
<text x="199.00" y="290.00" font-size="8.3" transform="matrix(1,0,0,1.1,0,-29.00)" >Boland <tspan font-style="italic">et al.</tspan></text>
<text x="247.70" y="290.00" font-size="8.3" transform="matrix(1,0,0,1.1,0,-29.00)" >Corridoni <tspan font-style="italic">et al.</tspan></text>
<text x="320.60" y="290.00" font-size="8.3" transform="matrix(1,0,0,1.1,0,-29.00)" >Luoma <tspan font-style="italic">et al.</tspan></text>
<rect x="196" y="291.7" width="185.8" height="110.5" fill="none" stroke="#555" stroke-width="0.7"/>
<line x1="248.50" y1="291.70" x2="248.50" y2="402.20" stroke="#555" stroke-width="0.7" />
<line x1="301.60" y1="291.70" x2="301.60" y2="402.20" stroke="#555" stroke-width="0.7" />
<line x1="196.00" y1="347.20" x2="381.80" y2="347.20" stroke="#555" stroke-width="0.7" />
<text x="192.80" y="307.20" font-size="8.3" text-anchor="end" transform="matrix(1,0,0,1.1,0,-30.72)" >0.4</text>
<text x="192.80" y="325.30" font-size="8.3" text-anchor="end" transform="matrix(1,0,0,1.1,0,-32.53)" >0.3</text>
<text x="192.80" y="341.80" font-size="8.3" text-anchor="end" transform="matrix(1,0,0,1.1,0,-34.18)" >0.2</text>
<text x="192.80" y="363.00" font-size="8.3" text-anchor="end" transform="matrix(1,0,0,1.1,0,-36.30)" >0.4</text>
<text x="192.80" y="379.20" font-size="8.3" text-anchor="end" transform="matrix(1,0,0,1.1,0,-37.92)" >0.3</text>
<text x="192.80" y="398.00" font-size="8.3" text-anchor="end" transform="matrix(1,0,0,1.1,0,-39.80)" >0.2</text>
<text x="178.00" y="309.20" font-size="8.3" text-anchor="end" transform="matrix(1,0,0,1.1,0,-30.92)" >Terminally-</text>
<text x="178.00" y="317.45" font-size="8.3" text-anchor="end" transform="matrix(1,0,0,1.1,0,-31.75)" >exhausted/</text>
<text x="178.00" y="325.70" font-size="8.3" text-anchor="end" transform="matrix(1,0,0,1.1,0,-32.57)" >effector−like</text>
<text x="178.00" y="333.95" font-size="8.3" text-anchor="end" transform="matrix(1,0,0,1.1,0,-33.40)" >NOD gene</text>
<text x="178.00" y="342.20" font-size="8.3" text-anchor="end" transform="matrix(1,0,0,1.1,0,-34.22)" >signature</text>
<text x="178.00" y="372.00" font-size="8.3" text-anchor="end" transform="matrix(1,0,0,1.1,0,-37.20)" >CD8<tspan font-size="5" dy="-3">+</tspan><tspan dy="3"> effector</tspan></text>
<text x="178.00" y="380.20" font-size="8.3" text-anchor="end" transform="matrix(1,0,0,1.1,0,-38.02)" >NOD gene</text>
<text x="178.00" y="388.40" font-size="8.3" text-anchor="end" transform="matrix(1,0,0,1.1,0,-38.84)" >signature</text>
<text x="208.60" y="410.50" font-size="8.3" text-anchor="middle" transform="matrix(1,0,0,1.1,0,-41.05)" >HC</text>
<text x="231.50" y="410.50" font-size="8.3" text-anchor="middle" transform="matrix(1,0,0,1.1,0,-41.05)" >UC</text>
<text x="260.80" y="410.50" font-size="8.3" text-anchor="middle" transform="matrix(1,0,0,1.1,0,-41.05)" >HC</text>
<text x="283.60" y="410.50" font-size="8.3" text-anchor="middle" transform="matrix(1,0,0,1.1,0,-41.05)" >UC</text>
<text x="311.80" y="410.50" font-size="8.3" text-anchor="middle" transform="matrix(1,0,0,1.1,0,-41.05)" >HC</text>
<text x="337.80" y="410.50" font-size="8.3" text-anchor="middle" transform="matrix(1,0,0,1.1,0,-41.05)" >CB</text>
<text x="367.80" y="410.50" font-size="8.3" text-anchor="middle" transform="matrix(1,0,0,1.1,0,-41.05)" >CB+colitis</text>
<polygon points="205.70,321.70 204.70,324.62 204.70,331.91 199.40,335.06 204.20,339.93 209.40,346.00 211.00,346.00 216.20,339.93 221.00,335.06 215.70,331.91 215.70,324.62 214.70,321.70" fill="#8c8c8c" stroke="#222" stroke-width="0.6" stroke-linejoin="round"/>
<line x1="205.20" y1="324.94" x2="215.20" y2="324.94" stroke="#ffffff" stroke-width="0.25" opacity="0.45"/>
<line x1="205.20" y1="328.18" x2="215.20" y2="328.18" stroke="#ffffff" stroke-width="0.25" opacity="0.45"/>
<line x1="205.20" y1="331.42" x2="215.20" y2="331.42" stroke="#ffffff" stroke-width="0.25" opacity="0.45"/>
<line x1="200.58" y1="334.66" x2="219.82" y2="334.66" stroke="#ffffff" stroke-width="0.25" opacity="0.45"/>
<line x1="202.70" y1="337.90" x2="217.70" y2="337.90" stroke="#ffffff" stroke-width="0.25" opacity="0.45"/>
<line x1="205.74" y1="341.14" x2="214.66" y2="341.14" stroke="#ffffff" stroke-width="0.25" opacity="0.45"/>
<line x1="208.51" y1="344.38" x2="211.89" y2="344.38" stroke="#ffffff" stroke-width="0.25" opacity="0.45"/>
<circle cx="210.90" cy="322.80" r="1.44" fill="#000" />
<circle cx="212.00" cy="329.00" r="1.44" fill="#000" />
<circle cx="202.40" cy="336.50" r="1.44" fill="#000" />
<circle cx="207.70" cy="336.90" r="1.44" fill="#000" />
<circle cx="212.00" cy="336.90" r="1.44" fill="#000" />
<circle cx="216.10" cy="335.50" r="1.44" fill="#000" />
<circle cx="212.00" cy="344.50" r="1.44" fill="#000" />
<polygon points="227.10,325.00 223.60,327.10 223.10,330.25 223.60,333.40 227.10,335.50 241.10,335.50 244.60,333.40 245.10,330.25 244.60,327.10 241.10,325.00" fill="#b89898" stroke="#6a3a3a" stroke-width="0.6" stroke-linejoin="round"/>
<line x1="223.88" y1="328.50" x2="244.32" y2="328.50" stroke="#ffffff" stroke-width="0.25" opacity="0.45"/>
<line x1="223.88" y1="332.00" x2="244.32" y2="332.00" stroke="#ffffff" stroke-width="0.25" opacity="0.45"/>
<circle cx="227.80" cy="327.00" r="1.38" fill="#5a1c1c" />
<circle cx="234.10" cy="326.40" r="1.38" fill="#5a1c1c" />
<circle cx="239.00" cy="326.40" r="1.38" fill="#5a1c1c" />
<circle cx="243.20" cy="328.10" r="1.38" fill="#5a1c1c" />
<circle cx="226.70" cy="333.40" r="1.38" fill="#5a1c1c" />
<circle cx="234.10" cy="333.40" r="1.38" fill="#5a1c1c" />
<circle cx="239.00" cy="334.40" r="1.38" fill="#5a1c1c" />
<line x1="209.80" y1="316.40" x2="234.10" y2="316.40" stroke="#444" stroke-width="0.6" />
<text x="222.00" y="315.00" font-size="8.5" text-anchor="middle" transform="matrix(1,0,0,1.1,0,-31.50)" >ns</text>
<polygon points="252.10,327.60 252.90,329.88 259.90,333.87 257.90,336.72 262.10,339.00 263.70,339.00 267.90,336.72 265.90,333.87 272.90,329.88 273.70,327.60" fill="#8c8c8c" stroke="#222" stroke-width="0.6" stroke-linejoin="round"/>
<line x1="255.11" y1="330.86" x2="270.69" y2="330.86" stroke="#ffffff" stroke-width="0.25" opacity="0.45"/>
<line x1="260.23" y1="334.11" x2="265.57" y2="334.11" stroke="#ffffff" stroke-width="0.25" opacity="0.45"/>
<line x1="259.60" y1="337.37" x2="266.20" y2="337.37" stroke="#ffffff" stroke-width="0.25" opacity="0.45"/>
<circle cx="263.10" cy="329.10" r="1.44" fill="#000" />
<circle cx="268.00" cy="327.60" r="1.44" fill="#000" />
<circle cx="260.10" cy="338.20" r="1.44" fill="#000" />
<polygon points="281.50,319.60 280.50,322.78 276.00,327.55 278.00,330.20 296.00,330.20 298.00,327.55 293.50,322.78 292.50,319.60" fill="#b89898" stroke="#6a3a3a" stroke-width="0.6" stroke-linejoin="round"/>
<line x1="280.67" y1="323.13" x2="293.33" y2="323.13" stroke="#ffffff" stroke-width="0.25" opacity="0.45"/>
<line x1="277.33" y1="326.67" x2="296.67" y2="326.67" stroke="#ffffff" stroke-width="0.25" opacity="0.45"/>
<circle cx="282.70" cy="320.60" r="1.38" fill="#5a1c1c" />
<circle cx="287.00" cy="329.10" r="1.38" fill="#5a1c1c" />
<circle cx="292.30" cy="326.00" r="1.38" fill="#5a1c1c" />
<line x1="262.60" y1="315.80" x2="287.00" y2="315.80" stroke="#444" stroke-width="0.6" />
<text x="275.00" y="314.40" font-size="8.5" text-anchor="middle" transform="matrix(1,0,0,1.1,0,-31.44)" >ns</text>
<polygon points="205.70,378.80 199.40,392.72 205.70,402.00 214.70,402.00 221.00,392.72 214.70,378.80" fill="#8c8c8c" stroke="#222" stroke-width="0.6" stroke-linejoin="round"/>
<line x1="204.70" y1="382.11" x2="215.70" y2="382.11" stroke="#ffffff" stroke-width="0.25" opacity="0.45"/>
<line x1="203.20" y1="385.43" x2="217.20" y2="385.43" stroke="#ffffff" stroke-width="0.25" opacity="0.45"/>
<line x1="201.70" y1="388.74" x2="218.70" y2="388.74" stroke="#ffffff" stroke-width="0.25" opacity="0.45"/>
<line x1="200.20" y1="392.06" x2="220.20" y2="392.06" stroke="#ffffff" stroke-width="0.25" opacity="0.45"/>
<line x1="201.70" y1="395.37" x2="218.70" y2="395.37" stroke="#ffffff" stroke-width="0.25" opacity="0.45"/>
<line x1="203.95" y1="398.69" x2="216.45" y2="398.69" stroke="#ffffff" stroke-width="0.25" opacity="0.45"/>
<circle cx="213.00" cy="378.80" r="1.44" fill="#000" />
<circle cx="201.30" cy="388.30" r="1.44" fill="#000" />
<circle cx="218.30" cy="391.50" r="1.44" fill="#000" />
<circle cx="215.10" cy="394.70" r="1.44" fill="#000" />
<circle cx="204.50" cy="393.20" r="1.44" fill="#000" />
<circle cx="209.80" cy="401.00" r="1.44" fill="#000" />
<polygon points="230.10,375.60 225.60,377.99 223.10,383.55 225.60,389.12 230.10,391.50 238.10,391.50 242.60,389.12 245.10,383.55 242.60,377.99 238.10,375.60" fill="#b89898" stroke="#6a3a3a" stroke-width="0.6" stroke-linejoin="round"/>
<line x1="225.58" y1="379.13" x2="242.62" y2="379.13" stroke="#ffffff" stroke-width="0.25" opacity="0.45"/>
<line x1="224.00" y1="382.67" x2="244.20" y2="382.67" stroke="#ffffff" stroke-width="0.25" opacity="0.45"/>
<line x1="224.79" y1="386.20" x2="243.41" y2="386.20" stroke="#ffffff" stroke-width="0.25" opacity="0.45"/>
<line x1="227.27" y1="389.73" x2="240.93" y2="389.73" stroke="#ffffff" stroke-width="0.25" opacity="0.45"/>
<circle cx="233.00" cy="376.70" r="1.38" fill="#5a1c1c" />
<circle cx="226.70" cy="383.00" r="1.38" fill="#5a1c1c" />
<circle cx="239.40" cy="379.90" r="1.38" fill="#5a1c1c" />
<circle cx="235.20" cy="384.10" r="1.38" fill="#5a1c1c" />
<circle cx="241.50" cy="384.10" r="1.38" fill="#5a1c1c" />
<circle cx="229.90" cy="388.30" r="1.38" fill="#5a1c1c" />
<circle cx="238.30" cy="389.40" r="1.38" fill="#5a1c1c" />
<line x1="209.80" y1="369.30" x2="234.10" y2="369.30" stroke="#444" stroke-width="0.6" />
<text x="222.00" y="367.90" font-size="8.5" text-anchor="middle" transform="matrix(1,0,0,1.1,0,-36.79)" >ns</text>
<polygon points="260.90,389.40 256.90,392.55 252.90,394.44 252.40,395.70 273.40,395.70 272.90,394.44 268.90,392.55 264.90,389.40" fill="#555" stroke="#111" stroke-width="0.6" stroke-linejoin="round"/>
<line x1="255.18" y1="393.60" x2="270.62" y2="393.60" stroke="#ffffff" stroke-width="0.25" opacity="0.45"/>
<circle cx="256.30" cy="392.50" r="1.44" fill="#000" />
<circle cx="261.60" cy="393.60" r="1.44" fill="#000" />
<circle cx="266.90" cy="390.40" r="1.44" fill="#000" />
<polygon points="283.00,384.00 282.00,388.28 278.00,390.42 276.00,394.70 298.00,394.70 296.00,390.42 292.00,388.28 291.00,384.00" fill="#b89898" stroke="#6a3a3a" stroke-width="0.6" stroke-linejoin="round"/>
<line x1="282.67" y1="387.57" x2="291.33" y2="387.57" stroke="#ffffff" stroke-width="0.25" opacity="0.45"/>
<line x1="278.17" y1="391.13" x2="295.83" y2="391.13" stroke="#ffffff" stroke-width="0.25" opacity="0.45"/>
<circle cx="287.40" cy="385.10" r="1.38" fill="#5a1c1c" />
<circle cx="282.70" cy="391.00" r="1.38" fill="#5a1c1c" />
<circle cx="292.30" cy="391.90" r="1.38" fill="#5a1c1c" />
<line x1="262.60" y1="369.30" x2="287.00" y2="369.30" stroke="#444" stroke-width="0.6" />
<text x="275.00" y="367.90" font-size="8.5" text-anchor="middle" transform="matrix(1,0,0,1.1,0,-36.79)" >ns</text>
<polygon points="308.20,320.00 303.40,325.91 305.20,328.87 311.20,335.76 313.40,339.70 315.00,339.70 317.20,335.76 323.20,328.87 325.00,325.91 320.20,320.00" fill="#8c8c8c" stroke="#222" stroke-width="0.6" stroke-linejoin="round"/>
<line x1="306.03" y1="323.28" x2="322.37" y2="323.28" stroke="#ffffff" stroke-width="0.25" opacity="0.45"/>
<line x1="304.30" y1="326.57" x2="324.10" y2="326.57" stroke="#ffffff" stroke-width="0.25" opacity="0.45"/>
<line x1="306.56" y1="329.85" x2="321.84" y2="329.85" stroke="#ffffff" stroke-width="0.25" opacity="0.45"/>
<line x1="309.41" y1="333.13" x2="318.99" y2="333.13" stroke="#ffffff" stroke-width="0.25" opacity="0.45"/>
<line x1="312.07" y1="336.42" x2="316.33" y2="336.42" stroke="#ffffff" stroke-width="0.25" opacity="0.45"/>
<circle cx="310.10" cy="320.80" r="1.49" fill="#000" />
<circle cx="319.50" cy="320.80" r="1.49" fill="#000" />
<circle cx="305.40" cy="327.50" r="1.49" fill="#000" />
<circle cx="312.00" cy="328.40" r="1.49" fill="#000" />
<circle cx="315.80" cy="328.40" r="1.49" fill="#000" />
<circle cx="321.40" cy="327.50" r="1.49" fill="#000" />
<circle cx="313.90" cy="337.80" r="1.49" fill="#000" />
<circle cx="309.20" cy="324.60" r="1.49" fill="#000" />
<circle cx="318.60" cy="324.60" r="1.49" fill="#000" />
<polygon points="340.40,318.60 339.70,325.02 331.20,326.62 330.70,328.23 340.20,329.30 342.20,329.30 351.70,328.23 351.20,326.62 342.70,325.02 342.00,318.60" fill="#8a2a4a" stroke="#6a0a30" stroke-width="0.6" stroke-linejoin="round"/>
<circle cx="341.20" cy="319.90" r="1.32" fill="#6a0a30" />
<circle cx="341.20" cy="324.60" r="1.32" fill="#6a0a30" />
<circle cx="332.70" cy="328.00" r="1.32" fill="#6a0a30" />
<circle cx="338.40" cy="328.00" r="1.32" fill="#6a0a30" />
<circle cx="344.40" cy="328.00" r="1.32" fill="#6a0a30" />
<circle cx="349.70" cy="328.00" r="1.32" fill="#6a0a30" />
<polygon points="358.60,313.00 356.40,315.32 359.60,318.80 364.60,323.44 366.60,324.60 368.60,324.60 370.60,323.44 375.60,318.80 378.80,315.32 376.60,313.00" fill="#f0a6c8" stroke="#d8609a" stroke-width="0.6" stroke-linejoin="round"/>
<line x1="357.81" y1="316.31" x2="377.39" y2="316.31" stroke="#ffffff" stroke-width="0.25" opacity="0.45"/>
<line x1="360.99" y1="319.63" x2="374.21" y2="319.63" stroke="#ffffff" stroke-width="0.25" opacity="0.45"/>
<line x1="364.56" y1="322.94" x2="370.64" y2="322.94" stroke="#ffffff" stroke-width="0.25" opacity="0.45"/>
<circle cx="358.20" cy="314.80" r="1.49" fill="#d05a94" />
<circle cx="362.90" cy="315.20" r="1.49" fill="#d05a94" />
<circle cx="367.60" cy="315.20" r="1.49" fill="#d05a94" />
<circle cx="372.40" cy="315.20" r="1.49" fill="#d05a94" />
<circle cx="376.10" cy="315.60" r="1.49" fill="#d05a94" />
<circle cx="364.80" cy="319.90" r="1.49" fill="#d05a94" />
<circle cx="370.50" cy="319.00" r="1.49" fill="#d05a94" />
<circle cx="367.60" cy="323.70" r="1.49" fill="#d05a94" />
<line x1="311.00" y1="314.60" x2="341.20" y2="314.60" stroke="#444" stroke-width="0.6" />
<text x="326.20" y="313.20" font-size="8.5" text-anchor="middle" transform="matrix(1,0,0,1.1,0,-31.32)" >ns</text>
<line x1="311.00" y1="306.30" x2="367.60" y2="306.30" stroke="#444" stroke-width="0.6" />
<text x="340.30" y="305.50" font-size="8.5" text-anchor="middle" transform="matrix(1,0,0,1.1,0,-30.55)" >**</text>
<line x1="339.30" y1="299.20" x2="367.60" y2="299.20" stroke="#444" stroke-width="0.6" />
<text x="354.00" y="298.40" font-size="8.5" text-anchor="middle" transform="matrix(1,0,0,1.1,0,-29.84)" >**</text>
<polygon points="305.20,373.70 303.20,375.96 305.20,383.10 308.20,389.68 309.20,392.50 319.20,392.50 320.20,389.68 323.20,383.10 325.20,375.96 323.20,373.70" fill="#8c8c8c" stroke="#222" stroke-width="0.6" stroke-linejoin="round"/>
<line x1="304.03" y1="377.12" x2="324.37" y2="377.12" stroke="#ffffff" stroke-width="0.25" opacity="0.45"/>
<line x1="304.98" y1="380.54" x2="323.42" y2="380.54" stroke="#ffffff" stroke-width="0.25" opacity="0.45"/>
<line x1="306.09" y1="383.95" x2="322.31" y2="383.95" stroke="#ffffff" stroke-width="0.25" opacity="0.45"/>
<line x1="307.65" y1="387.37" x2="320.75" y2="387.37" stroke="#ffffff" stroke-width="0.25" opacity="0.45"/>
<line x1="309.09" y1="390.79" x2="319.31" y2="390.79" stroke="#ffffff" stroke-width="0.25" opacity="0.45"/>
<circle cx="306.50" cy="376.00" r="1.49" fill="#000" />
<circle cx="314.00" cy="376.00" r="1.49" fill="#000" />
<circle cx="322.00" cy="376.00" r="1.49" fill="#000" />
<circle cx="305.00" cy="381.00" r="1.49" fill="#000" />
<circle cx="318.00" cy="382.00" r="1.49" fill="#000" />
<circle cx="310.00" cy="386.00" r="1.49" fill="#000" />
<circle cx="322.00" cy="386.00" r="1.49" fill="#000" />
<circle cx="315.00" cy="391.00" r="1.49" fill="#000" />
<polygon points="336.60,370.80 330.60,377.19 332.60,382.87 333.60,385.00 349.60,385.00 350.60,382.87 352.60,377.19 346.60,370.80" fill="#a05a78" stroke="#6a0a30" stroke-width="0.6" stroke-linejoin="round"/>
<line x1="333.77" y1="374.35" x2="349.43" y2="374.35" stroke="#ffffff" stroke-width="0.25" opacity="0.45"/>
<line x1="331.35" y1="377.90" x2="351.85" y2="377.90" stroke="#ffffff" stroke-width="0.25" opacity="0.45"/>
<line x1="332.60" y1="381.45" x2="350.60" y2="381.45" stroke="#ffffff" stroke-width="0.25" opacity="0.45"/>
<circle cx="337.30" cy="372.20" r="1.38" fill="#6a0a30" />
<circle cx="334.50" cy="377.50" r="1.38" fill="#6a0a30" />
<circle cx="341.50" cy="376.50" r="1.38" fill="#6a0a30" />
<circle cx="348.50" cy="378.50" r="1.38" fill="#6a0a30" />
<circle cx="339.00" cy="383.00" r="1.38" fill="#6a0a30" />
<circle cx="346.00" cy="383.50" r="1.38" fill="#6a0a30" />
<polygon points="364.00,371.80 357.00,379.80 360.00,384.60 363.00,387.80 373.00,387.80 376.00,384.60 379.00,379.80 372.00,371.80" fill="#f2b0cc" stroke="#e070a4" stroke-width="0.6" stroke-linejoin="round"/>
<line x1="361.70" y1="375.00" x2="374.30" y2="375.00" stroke="#ffffff" stroke-width="0.25" opacity="0.45"/>
<line x1="358.90" y1="378.20" x2="377.10" y2="378.20" stroke="#ffffff" stroke-width="0.25" opacity="0.45"/>
<line x1="358.50" y1="381.40" x2="377.50" y2="381.40" stroke="#ffffff" stroke-width="0.25" opacity="0.45"/>
<line x1="360.50" y1="384.60" x2="375.50" y2="384.60" stroke="#ffffff" stroke-width="0.25" opacity="0.45"/>
<circle cx="368.00" cy="373.50" r="1.38" fill="#e070a4" />
<circle cx="363.00" cy="377.50" r="1.38" fill="#e070a4" />
<circle cx="373.00" cy="377.50" r="1.38" fill="#e070a4" />
<circle cx="358.50" cy="382.00" r="1.38" fill="#e070a4" />
<circle cx="368.00" cy="381.00" r="1.38" fill="#e070a4" />
<circle cx="377.00" cy="382.00" r="1.38" fill="#e070a4" />
<circle cx="363.00" cy="386.50" r="1.38" fill="#e070a4" />
<circle cx="373.00" cy="386.50" r="1.38" fill="#e070a4" />
<line x1="311.00" y1="369.00" x2="341.60" y2="369.00" stroke="#444" stroke-width="0.6" />
<text x="326.20" y="367.60" font-size="8.5" text-anchor="middle" transform="matrix(1,0,0,1.1,0,-36.76)" >ns</text>
<line x1="311.00" y1="361.80" x2="367.60" y2="361.80" stroke="#444" stroke-width="0.6" />
<text x="339.30" y="360.40" font-size="8.5" text-anchor="middle" transform="matrix(1,0,0,1.1,0,-36.04)" >ns</text>
<line x1="342.00" y1="354.40" x2="367.60" y2="354.40" stroke="#444" stroke-width="0.6" />
<text x="355.00" y="353.00" font-size="8.5" text-anchor="middle" transform="matrix(1,0,0,1.1,0,-35.30)" >ns</text>
<text x="401.00" y="254.10" font-size="10" transform="matrix(1,0,0,1.1,0,-25.41)" >H</text>
<line x1="449.50" y1="257.50" x2="449.50" y2="331.50" stroke="#000" stroke-width="0.7" />
<line x1="446.90" y1="257.50" x2="449.50" y2="257.50" stroke="#000" stroke-width="0.7" />
<text x="446.50" y="260.40" font-size="8.3" text-anchor="end" transform="matrix(1,0,0,1.1,0,-26.04)" >6000</text>
<line x1="446.90" y1="282.00" x2="449.50" y2="282.00" stroke="#000" stroke-width="0.7" />
<text x="446.50" y="284.90" font-size="8.3" text-anchor="end" transform="matrix(1,0,0,1.1,0,-28.49)" >4000</text>
<line x1="446.90" y1="306.60" x2="449.50" y2="306.60" stroke="#000" stroke-width="0.7" />
<text x="446.50" y="309.50" font-size="8.3" text-anchor="end" transform="matrix(1,0,0,1.1,0,-30.95)" >2000</text>
<line x1="446.90" y1="331.50" x2="449.50" y2="331.50" stroke="#000" stroke-width="0.7" />
<text x="446.50" y="334.40" font-size="8.3" text-anchor="end" transform="matrix(1,0,0,1.1,0,-33.44)" >0</text>
<line x1="449.50" y1="331.50" x2="498.00" y2="331.50" stroke="#000" stroke-width="0.7" />
<text x="458.60" y="339.20" font-size="8.3" text-anchor="middle" textLength="14.00" lengthAdjust="spacingAndGlyphs" transform="matrix(1,0,0,1.1,0,-33.92)" >IgG</text>
<text x="473.75" y="339.20" font-size="8.3" text-anchor="middle" textLength="12.30" lengthAdjust="spacingAndGlyphs" transform="matrix(1,0,0,1.1,0,-33.92)" >Spt</text>
<text x="488.90" y="339.20" font-size="8.3" text-anchor="middle" textLength="14.20" lengthAdjust="spacingAndGlyphs" transform="matrix(1,0,0,1.1,0,-33.92)" >PD1</text>
<text x="415.40" y="290.50" font-size="8.3" text-anchor="middle" transform="rotate(-90 415.40 290.50)" >T-bet gMFI</text>
<text x="423.60" y="293.00" font-size="8.3" text-anchor="middle" transform="rotate(-90 423.60 293.00)" >CD8<tspan font-size="5" dy="-2.6">+</tspan><tspan dy="2.6">CD11a</tspan><tspan font-size="5" dy="-2.6">hi</tspan><tspan dy="2.6">CD62L</tspan><tspan font-size="5" dy="-2.6">-</tspan><tspan dy="2.6"></tspan></text>
<polygon points="457.30,309.60 457.25,310.11 457.12,310.61 456.93,311.12 456.70,311.62 456.47,312.12 456.28,312.63 456.15,313.14 456.10,313.64 456.05,314.15 455.91,314.65 455.69,315.16 455.41,315.66 455.10,316.17 454.79,316.67 454.51,317.18 454.29,317.68 454.15,318.19 454.10,318.69 453.98,319.19 453.65,319.70 453.14,320.21 452.55,320.71 451.96,321.22 451.45,321.72 451.12,322.23 451.00,322.73 451.02,323.24 451.09,323.74 451.19,324.25 451.30,324.75 451.41,325.25 451.51,325.76 451.58,326.26 451.60,326.77 451.87,327.28 452.60,327.78 453.60,328.29 454.60,328.79 455.33,329.30 455.60,329.80 459.60,329.80 459.87,329.30 460.60,328.79 461.60,328.29 462.60,327.78 463.33,327.28 463.60,326.77 463.62,326.26 463.69,325.76 463.79,325.25 463.90,324.75 464.01,324.25 464.11,323.74 464.18,323.24 464.20,322.73 464.08,322.23 463.75,321.72 463.24,321.22 462.65,320.71 462.06,320.21 461.55,319.70 461.22,319.19 461.10,318.69 461.05,318.19 460.91,317.68 460.69,317.18 460.41,316.67 460.10,316.17 459.79,315.66 459.51,315.16 459.29,314.65 459.15,314.15 459.10,313.64 459.05,313.14 458.92,312.63 458.73,312.12 458.50,311.62 458.27,311.12 458.08,310.61 457.95,310.11 457.90,309.60" fill="#444" stroke="#000" stroke-width="0.7" stroke-linejoin="round"/>
<path d="M456.0 316.5h0M452.9 322.4h0M456.5 320.4h0M457.6 311.7h0M457.5 311.3h0M456.9 311.9h0M459.5 318.3h0M456.9 312.9h0M462.4 322.0h0M456.6 321.1h0M454.6 328.4h0M455.4 326.2h0M456.6 313.2h0M459.0 316.2h0M457.8 313.9h0M456.2 322.2h0M454.0 320.6h0M457.1 311.7h0M456.8 323.0h0M458.0 316.3h0M456.4 318.8h0M459.7 325.1h0" stroke="#000" stroke-width="2.28" stroke-linecap="round"/>
<polygon points="471.70,265.20 471.42,266.71 470.89,268.23 470.71,269.75 470.89,271.26 471.27,272.77 471.72,274.29 472.07,275.81 472.20,277.32 472.08,278.83 471.73,280.35 471.21,281.87 470.58,283.38 469.93,284.89 469.36,286.41 468.93,287.93 468.72,289.44 468.64,290.95 468.32,292.47 467.76,293.99 467.05,295.50 466.32,297.01 465.68,298.53 465.25,300.05 465.10,301.56 465.13,303.07 465.23,304.59 465.39,306.11 465.57,307.62 465.77,309.13 465.95,310.65 466.09,312.17 466.18,313.68 466.20,315.19 466.27,316.71 466.41,318.23 466.61,319.74 466.83,321.25 467.02,322.77 467.15,324.29 467.20,325.80 480.20,325.80 480.25,324.29 480.38,322.77 480.57,321.25 480.79,319.74 480.99,318.23 481.13,316.71 481.20,315.19 481.22,313.68 481.31,312.17 481.45,310.65 481.63,309.13 481.83,307.62 482.01,306.11 482.17,304.59 482.27,303.07 482.30,301.56 482.15,300.05 481.72,298.53 481.08,297.01 480.35,295.50 479.64,293.99 479.08,292.47 478.76,290.95 478.68,289.44 478.47,287.93 478.04,286.41 477.47,284.89 476.82,283.38 476.19,281.87 475.67,280.35 475.32,278.83 475.20,277.32 475.33,275.81 475.68,274.29 476.13,272.77 476.51,271.26 476.69,269.75 476.51,268.23 475.98,266.71 475.70,265.20" fill="#f3c38c" stroke="#e5801a" stroke-width="0.8" stroke-linejoin="round"/>
<line x1="465.68" y1="298.53" x2="481.72" y2="298.53" stroke="#e5801a" stroke-width="0.4" />
<line x1="465.73" y1="308.83" x2="481.67" y2="308.83" stroke="#e5801a" stroke-width="0.4" />
<line x1="467.02" y1="322.77" x2="480.38" y2="322.77" stroke="#e5801a" stroke-width="0.4" />
<circle cx="473.70" cy="266.41" r="0.95" fill="#e5801a" />
<circle cx="473.70" cy="273.68" r="0.95" fill="#e5801a" />
<circle cx="471.30" cy="293.68" r="0.95" fill="#e5801a" />
<circle cx="476.70" cy="295.50" r="0.95" fill="#e5801a" />
<circle cx="473.70" cy="301.56" r="0.95" fill="#e5801a" />
<circle cx="473.70" cy="310.65" r="0.95" fill="#e5801a" />
<circle cx="470.10" cy="314.89" r="0.95" fill="#e5801a" />
<circle cx="476.70" cy="319.74" r="0.95" fill="#e5801a" />
<circle cx="477.30" cy="324.59" r="0.95" fill="#e5801a" />
<circle cx="470.70" cy="324.59" r="0.95" fill="#e5801a" />
<polygon points="488.60,313.70 488.54,314.08 488.35,314.45 488.08,314.83 487.75,315.21 487.42,315.59 487.15,315.96 486.96,316.34 486.90,316.72 486.84,317.10 486.67,317.48 486.39,317.85 486.02,318.23 485.60,318.61 485.15,318.99 484.70,319.36 484.27,319.74 483.91,320.12 483.63,320.50 483.46,320.87 483.40,321.25 483.36,321.63 483.26,322.00 483.09,322.38 482.88,322.76 482.65,323.14 482.42,323.51 482.21,323.89 482.04,324.27 481.94,324.65 481.90,325.02 481.97,325.40 482.15,325.78 482.40,326.16 482.65,326.54 482.83,326.91 482.90,327.29 483.49,327.67 484.90,328.05 486.31,328.42 486.90,328.80 490.90,328.80 491.49,328.42 492.90,328.05 494.31,327.67 494.90,327.29 494.97,326.91 495.15,326.54 495.40,326.16 495.65,325.78 495.83,325.40 495.90,325.02 495.86,324.65 495.76,324.27 495.59,323.89 495.38,323.51 495.15,323.14 494.92,322.76 494.71,322.38 494.54,322.00 494.44,321.63 494.40,321.25 494.34,320.87 494.17,320.50 493.89,320.12 493.52,319.74 493.10,319.36 492.65,318.99 492.20,318.61 491.77,318.23 491.41,317.85 491.13,317.48 490.96,317.10 490.90,316.72 490.84,316.34 490.65,315.96 490.38,315.59 490.05,315.21 489.72,314.83 489.45,314.45 489.26,314.08 489.20,313.70" fill="#b17cc6" stroke="#7a1198" stroke-width="0.7" stroke-linejoin="round"/>
<path d="M490.7 317.5h0M489.5 316.2h0M488.3 315.6h0M486.9 328.0h0M488.5 323.2h0M488.9 320.6h0M490.1 317.1h0M488.2 315.7h0M488.6 314.7h0M492.2 320.0h0M486.0 319.6h0M491.1 318.0h0M489.2 315.3h0M490.1 319.6h0M490.1 319.1h0M490.3 321.2h0M489.8 326.7h0M487.5 316.4h0M488.8 327.3h0M490.5 317.1h0M491.2 322.3h0M486.6 326.4h0" stroke="#7a1198" stroke-width="2.28" stroke-linecap="round"/>
<polyline points="457.60,305.60 457.60,257.50 471.70,257.50 471.70,263.20" fill="none" stroke="#555" stroke-width="0.6" />
<text x="464.40" y="259.40" font-size="8.8" text-anchor="middle" transform="matrix(1,0,0,1.1,0,-25.94)" >***</text>
<polyline points="474.70,263.20 474.70,257.50 488.90,257.50 488.90,311.70" fill="none" stroke="#555" stroke-width="0.6" />
<text x="482.00" y="259.40" font-size="8.8" text-anchor="middle" transform="matrix(1,0,0,1.1,0,-25.94)" >**</text>
<text x="404.00" y="359.00" font-size="10" transform="matrix(1,0,0,1.1,0,-35.90)" >I</text>
<line x1="446.90" y1="365.20" x2="446.90" y2="439.00" stroke="#000" stroke-width="0.7" />
<line x1="444.30" y1="365.20" x2="446.90" y2="365.20" stroke="#000" stroke-width="0.7" />
<text x="443.90" y="368.10" font-size="8.3" text-anchor="end" transform="matrix(1,0,0,1.1,0,-36.81)" >100</text>
<line x1="444.30" y1="383.80" x2="446.90" y2="383.80" stroke="#000" stroke-width="0.7" />
<text x="443.90" y="386.70" font-size="8.3" text-anchor="end" transform="matrix(1,0,0,1.1,0,-38.67)" >75</text>
<line x1="444.30" y1="402.20" x2="446.90" y2="402.20" stroke="#000" stroke-width="0.7" />
<text x="443.90" y="405.10" font-size="8.3" text-anchor="end" transform="matrix(1,0,0,1.1,0,-40.51)" >50</text>
<line x1="444.30" y1="420.80" x2="446.90" y2="420.80" stroke="#000" stroke-width="0.7" />
<text x="443.90" y="423.70" font-size="8.3" text-anchor="end" transform="matrix(1,0,0,1.1,0,-42.37)" >25</text>
<line x1="444.30" y1="439.00" x2="446.90" y2="439.00" stroke="#000" stroke-width="0.7" />
<text x="443.90" y="441.90" font-size="8.3" text-anchor="end" transform="matrix(1,0,0,1.1,0,-44.19)" >0</text>
<line x1="446.90" y1="439.00" x2="494.00" y2="439.00" stroke="#000" stroke-width="0.7" />
<text x="453.25" y="445.80" font-size="8.3" text-anchor="middle" textLength="13.00" lengthAdjust="spacingAndGlyphs" transform="matrix(1,0,0,1.1,0,-44.58)" >IgG</text>
<text x="468.85" y="445.80" font-size="8.3" text-anchor="middle" textLength="12.00" lengthAdjust="spacingAndGlyphs" transform="matrix(1,0,0,1.1,0,-44.58)" >Spt</text>
<text x="483.90" y="445.80" font-size="8.3" text-anchor="middle" textLength="14.20" lengthAdjust="spacingAndGlyphs" transform="matrix(1,0,0,1.1,0,-44.58)" >PD1</text>
<text x="415.00" y="401.50" font-size="8.3" text-anchor="middle" transform="rotate(-90 415.00 401.50)" >CD127<tspan font-size="5" dy="-2.6">+</tspan><tspan dy="2.6"> (of</tspan></text>
<text x="423.20" y="399.00" font-size="8.3" text-anchor="middle" transform="rotate(-90 423.20 399.00)" >CD8<tspan font-size="5" dy="-2.6">+</tspan><tspan dy="2.6">CD11a</tspan><tspan font-size="5" dy="-2.6">hi</tspan><tspan dy="2.6">CD62L</tspan><tspan font-size="5" dy="-2.6">-</tspan><tspan dy="2.6">) (%)</tspan></text>
<polygon points="453.80,391.00 453.68,392.20 453.33,393.40 452.81,394.60 452.20,395.80 451.59,397.00 451.07,398.20 450.72,399.40 450.60,400.60 450.51,401.80 450.26,403.00 449.88,404.20 449.41,405.40 448.90,406.60 448.41,407.80 448.00,409.00 447.72,410.20 447.60,411.40 447.72,412.60 448.17,413.80 448.87,415.00 449.67,416.20 450.40,417.40 450.92,418.60 451.10,419.80 450.83,421.00 450.11,422.20 449.15,423.40 448.26,424.60 447.70,425.80 447.63,427.00 447.94,428.20 448.53,429.40 449.25,430.60 449.93,431.80 450.42,433.00 450.60,434.20 451.04,435.40 452.10,436.60 453.16,437.80 453.60,439.00 454.60,439.00 455.04,437.80 456.10,436.60 457.16,435.40 457.60,434.20 457.78,433.00 458.27,431.80 458.95,430.60 459.67,429.40 460.26,428.20 460.57,427.00 460.50,425.80 459.94,424.60 459.05,423.40 458.09,422.20 457.37,421.00 457.10,419.80 457.28,418.60 457.80,417.40 458.53,416.20 459.33,415.00 460.03,413.80 460.48,412.60 460.60,411.40 460.48,410.20 460.20,409.00 459.79,407.80 459.30,406.60 458.79,405.40 458.32,404.20 457.94,403.00 457.69,401.80 457.60,400.60 457.48,399.40 457.13,398.20 456.61,397.00 456.00,395.80 455.39,394.60 454.87,393.40 454.52,392.20 454.40,391.00" fill="#6a6a6a" stroke="#000" stroke-width="0.8" stroke-linejoin="round"/>
<line x1="450.60" y1="400.60" x2="457.60" y2="400.60" stroke="#000" stroke-width="0.4" />
<line x1="448.87" y1="415.00" x2="459.33" y2="415.00" stroke="#000" stroke-width="0.4" />
<line x1="447.88" y1="427.96" x2="460.32" y2="427.96" stroke="#000" stroke-width="0.4" />
<path d="M452.8 413.4h0M456.2 399.4h0M454.1 393.7h0M451.2 432.2h0M454.8 417.3h0M453.8 395.2h0M453.7 423.8h0M450.7 424.7h0M451.4 403.7h0M457.7 415.3h0M455.6 418.9h0M456.7 410.0h0M453.1 397.8h0M455.7 422.5h0M449.6 411.6h0M451.9 404.9h0M456.6 405.5h0M456.5 402.0h0M450.8 431.4h0M454.0 409.8h0M453.9 394.4h0M451.6 432.6h0M452.1 419.2h0M456.3 418.4h0M451.0 402.2h0M454.3 397.0h0" stroke="#000" stroke-width="2.28" stroke-linecap="round"/>
<polygon points="467.20,365.20 466.95,367.05 466.70,368.89 466.68,370.74 466.60,372.58 466.49,374.43 466.35,376.27 466.20,378.12 466.05,379.96 465.91,381.81 465.80,383.65 465.72,385.50 465.70,387.34 465.60,389.19 465.33,391.03 464.93,392.88 464.45,394.72 463.97,396.56 463.57,398.41 463.30,400.25 463.20,402.10 463.23,403.94 463.32,405.79 463.45,407.63 463.57,409.48 463.67,411.32 463.70,413.17 463.83,415.01 464.21,416.86 464.78,418.70 465.45,420.55 466.12,422.39 466.69,424.24 467.07,426.08 467.20,427.93 467.35,429.77 467.75,431.62 468.30,433.47 468.85,435.31 469.25,437.15 469.40,439.00 470.00,439.00 470.15,437.15 470.55,435.31 471.10,433.47 471.65,431.62 472.05,429.77 472.20,427.93 472.33,426.08 472.71,424.24 473.28,422.39 473.95,420.55 474.62,418.70 475.19,416.86 475.57,415.01 475.70,413.17 475.73,411.32 475.82,409.48 475.95,407.63 476.07,405.79 476.17,403.94 476.20,402.10 476.10,400.25 475.83,398.41 475.43,396.56 474.95,394.72 474.47,392.88 474.07,391.03 473.80,389.19 473.70,387.34 473.68,385.50 473.60,383.65 473.49,381.81 473.35,379.96 473.20,378.12 473.05,376.27 472.91,374.43 472.80,372.58 472.72,370.74 472.70,368.89 472.45,367.05 472.20,365.20" fill="#f3c38c" stroke="#e5801a" stroke-width="0.8" stroke-linejoin="round"/>
<line x1="463.89" y1="396.93" x2="475.51" y2="396.93" stroke="#e5801a" stroke-width="0.4" />
<line x1="463.75" y1="413.91" x2="475.65" y2="413.91" stroke="#e5801a" stroke-width="0.4" />
<path d="M468.9 406.8h0M466.6 407.3h0M471.6 422.9h0M466.2 412.3h0M467.8 403.5h0M472.8 385.5h0M469.0 435.1h0M470.2 426.0h0M467.8 394.2h0M469.3 413.7h0M471.3 414.4h0M471.3 377.7h0M470.7 434.1h0M465.0 409.6h0M467.8 369.2h0M469.0 431.4h0M473.0 393.2h0M470.0 389.8h0M465.3 397.9h0M473.4 407.7h0M468.0 379.3h0M465.2 396.3h0M473.2 401.9h0M470.0 412.6h0M468.1 425.7h0M468.3 406.6h0M465.6 408.8h0M466.7 420.4h0M471.6 379.9h0M469.5 431.8h0M467.2 396.4h0M470.5 387.1h0M467.3 380.7h0M466.1 399.2h0" stroke="#e5801a" stroke-width="2.28" stroke-linecap="round"/>
<polygon points="485.60,375.30 485.57,376.79 485.48,378.29 485.33,379.78 485.14,381.27 484.91,382.76 484.66,384.25 484.40,385.75 484.14,387.24 483.91,388.73 483.70,390.23 483.55,391.72 483.44,393.21 483.40,394.70 483.32,396.19 483.00,397.69 482.48,399.18 481.83,400.67 481.12,402.17 480.44,403.66 479.89,405.15 479.53,406.64 479.40,408.13 479.52,409.63 479.85,411.12 480.36,412.61 480.99,414.11 481.67,415.60 482.32,417.09 482.86,418.58 483.23,420.07 483.40,421.57 483.21,423.06 482.49,424.55 481.39,426.05 480.17,427.54 479.13,429.03 478.51,430.52 478.50,432.01 479.34,433.51 479.90,435.00 491.90,435.00 492.46,433.51 493.30,432.01 493.29,430.52 492.67,429.03 491.63,427.54 490.41,426.05 489.31,424.55 488.59,423.06 488.40,421.57 488.57,420.07 488.94,418.58 489.48,417.09 490.13,415.60 490.81,414.11 491.44,412.61 491.95,411.12 492.28,409.63 492.40,408.13 492.27,406.64 491.91,405.15 491.36,403.66 490.68,402.17 489.97,400.67 489.32,399.18 488.80,397.69 488.48,396.19 488.40,394.70 488.36,393.21 488.25,391.72 488.10,390.23 487.89,388.73 487.66,387.24 487.40,385.75 487.14,384.25 486.89,382.76 486.66,381.27 486.47,379.78 486.32,378.29 486.23,376.79 486.20,375.30" fill="#b17cc6" stroke="#7a1198" stroke-width="0.8" stroke-linejoin="round"/>
<line x1="479.40" y1="408.13" x2="492.40" y2="408.13" stroke="#7a1198" stroke-width="0.4" />
<line x1="479.13" y1="429.03" x2="492.67" y2="429.03" stroke="#7a1198" stroke-width="0.4" />
<path d="M486.4 402.6h0M485.5 427.9h0M486.8 405.6h0M485.9 388.2h0M488.7 412.1h0M485.5 383.3h0M486.5 383.2h0M482.6 415.5h0M491.7 431.1h0M486.9 413.4h0M484.5 386.7h0M481.1 406.7h0M485.0 388.5h0M485.9 379.9h0M488.6 402.0h0M487.4 406.2h0" stroke="#7a1198" stroke-width="2.28" stroke-linecap="round"/>
<polyline points="454.10,391.00 454.10,357.50 469.10,357.50 469.10,365.20" fill="none" stroke="#555" stroke-width="0.6" />
<text x="461.60" y="359.40" font-size="8.8" text-anchor="middle" transform="matrix(1,0,0,1.1,0,-35.94)" >***</text>
<polyline points="471.10,365.20 471.10,357.50 486.90,357.50 486.90,373.30" fill="none" stroke="#555" stroke-width="0.6" />
<text x="479.30" y="359.40" font-size="8.8" text-anchor="middle" transform="matrix(1,0,0,1.1,0,-35.94)" >**</text>
<text x="0.00" y="437.50" font-size="10" transform="matrix(1,0,0,1.1,0,-43.75)" >J</text>
<line x1="44.60" y1="455.20" x2="44.60" y2="529.20" stroke="#000" stroke-width="0.7" />
<line x1="42.00" y1="455.20" x2="44.60" y2="455.20" stroke="#000" stroke-width="0.7" />
<text x="41.60" y="458.10" font-size="8.3" text-anchor="end" transform="matrix(1,0,0,1.1,0,-45.81)" >40</text>
<line x1="42.00" y1="473.50" x2="44.60" y2="473.50" stroke="#000" stroke-width="0.7" />
<text x="41.60" y="476.40" font-size="8.3" text-anchor="end" transform="matrix(1,0,0,1.1,0,-47.64)" >30</text>
<line x1="42.00" y1="492.10" x2="44.60" y2="492.10" stroke="#000" stroke-width="0.7" />
<text x="41.60" y="495.00" font-size="8.3" text-anchor="end" transform="matrix(1,0,0,1.1,0,-49.50)" >20</text>
<line x1="42.00" y1="510.40" x2="44.60" y2="510.40" stroke="#000" stroke-width="0.7" />
<text x="41.60" y="513.30" font-size="8.3" text-anchor="end" transform="matrix(1,0,0,1.1,0,-51.33)" >10</text>
<line x1="42.00" y1="529.20" x2="44.60" y2="529.20" stroke="#000" stroke-width="0.7" />
<text x="41.60" y="532.10" font-size="8.3" text-anchor="end" transform="matrix(1,0,0,1.1,0,-53.21)" >0</text>
<line x1="44.60" y1="529.20" x2="93.30" y2="529.20" stroke="#000" stroke-width="0.7" />
<text x="53.10" y="537.30" font-size="8.3" text-anchor="middle" transform="matrix(1,0,0,1.1,0,-53.73)" >IgG</text>
<text x="68.70" y="537.30" font-size="8.3" text-anchor="middle" transform="matrix(1,0,0,1.1,0,-53.73)" >Spt</text>
<text x="85.20" y="537.30" font-size="8.3" text-anchor="middle" textLength="15.00" lengthAdjust="spacingAndGlyphs" transform="matrix(1,0,0,1.1,0,-53.73)" >PD1</text>
<text x="18.00" y="484.00" font-size="8.3" text-anchor="middle" transform="rotate(-90 18.00 484.00)" >BCL-2<tspan font-size="5" dy="-2.6">+</tspan><tspan dy="2.6"> (of</tspan></text>
<text x="26.20" y="485.70" font-size="8.3" text-anchor="middle" transform="rotate(-90 26.20 485.70)" >CD8<tspan font-size="5" dy="-2.6">+</tspan><tspan dy="2.6">CD11a</tspan><tspan font-size="5" dy="-2.6">hi</tspan><tspan dy="2.6">CD62L</tspan><tspan font-size="5" dy="-2.6">-</tspan><tspan dy="2.6">) (%)</tspan></text>
<polygon points="52.40,514.20 52.23,514.50 51.74,514.80 51.01,515.10 50.15,515.40 49.29,515.70 48.56,516.00 48.07,516.30 47.90,516.60 47.95,516.90 48.09,517.20 48.31,517.50 48.59,517.80 48.90,518.10 49.21,518.40 49.49,518.70 49.71,519.00 49.85,519.30 49.90,519.60 49.79,519.90 49.49,520.20 49.01,520.50 48.41,520.80 47.75,521.10 47.09,521.40 46.49,521.70 46.01,522.00 45.71,522.30 45.60,522.60 45.71,522.90 46.02,523.20 46.52,523.50 47.17,523.80 47.93,524.10 48.75,524.40 49.57,524.70 50.33,525.00 50.98,525.30 51.48,525.60 51.79,525.90 51.90,526.20 53.90,526.20 54.01,525.90 54.32,525.60 54.82,525.30 55.47,525.00 56.23,524.70 57.05,524.40 57.87,524.10 58.62,523.80 59.28,523.50 59.78,523.20 60.09,522.90 60.20,522.60 60.09,522.30 59.79,522.00 59.31,521.70 58.71,521.40 58.05,521.10 57.39,520.80 56.79,520.50 56.31,520.20 56.01,519.90 55.90,519.60 55.95,519.30 56.09,519.00 56.31,518.70 56.59,518.40 56.90,518.10 57.21,517.80 57.49,517.50 57.71,517.20 57.85,516.90 57.90,516.60 57.73,516.30 57.24,516.00 56.51,515.70 55.65,515.40 54.79,515.10 54.06,514.80 53.57,514.50 53.40,514.20" fill="#222" stroke="#000" stroke-width="0.7" stroke-linejoin="round"/>
<path d="M53.7 519.9h0M48.7 522.0h0M52.6 514.9h0M55.2 517.8h0M54.1 522.3h0M54.1 520.8h0M52.4 516.4h0M56.3 516.6h0M54.4 515.4h0M54.0 515.6h0M52.3 518.4h0M48.4 523.9h0M55.0 515.5h0M50.4 520.3h0" stroke="#000" stroke-width="2.40" stroke-linecap="round"/>
<polygon points="65.80,467.70 65.91,469.06 66.15,470.41 66.30,471.77 66.32,473.13 66.38,474.49 66.48,475.84 66.60,477.20 66.70,478.56 66.77,479.92 66.80,481.27 66.66,482.63 66.26,483.99 65.63,485.35 64.83,486.70 63.95,488.06 63.07,489.42 62.27,490.78 61.64,492.13 61.24,493.49 61.10,494.85 61.15,496.21 61.28,497.56 61.47,498.92 61.70,500.28 61.93,501.64 62.12,503.00 62.25,504.35 62.30,505.71 62.43,507.07 62.81,508.43 63.38,509.78 64.05,511.14 64.72,512.50 65.29,513.86 65.67,515.21 65.80,516.57 66.17,517.93 67.05,519.28 67.93,520.64 68.30,522.00 69.30,522.00 69.67,520.64 70.55,519.28 71.43,517.93 71.80,516.57 71.93,515.21 72.31,513.86 72.88,512.50 73.55,511.14 74.22,509.78 74.79,508.43 75.17,507.07 75.30,505.71 75.35,504.35 75.48,503.00 75.67,501.64 75.90,500.28 76.13,498.92 76.32,497.56 76.45,496.21 76.50,494.85 76.36,493.49 75.96,492.13 75.33,490.78 74.53,489.42 73.65,488.06 72.77,486.70 71.97,485.35 71.34,483.99 70.94,482.63 70.80,481.27 70.83,479.92 70.90,478.56 71.00,477.20 71.12,475.84 71.22,474.49 71.28,473.13 71.30,471.77 71.45,470.41 71.69,469.06 71.80,467.70" fill="#f3c38c" stroke="#e5801a" stroke-width="0.8" stroke-linejoin="round"/>
<line x1="61.10" y1="494.85" x2="76.50" y2="494.85" stroke="#e5801a" stroke-width="0.4" />
<line x1="62.12" y1="503.00" x2="75.48" y2="503.00" stroke="#e5801a" stroke-width="0.4" />
<line x1="64.05" y1="511.14" x2="73.55" y2="511.14" stroke="#e5801a" stroke-width="0.4" />
<path d="M69.5 483.1h0M72.7 503.8h0M67.9 479.5h0M67.8 477.6h0M64.7 506.3h0M65.1 496.4h0M68.5 484.8h0M69.7 511.4h0M67.8 471.1h0M70.2 477.6h0M71.6 510.0h0M70.8 510.8h0M70.3 516.8h0M70.1 483.0h0M72.1 494.2h0M67.9 498.0h0M68.2 488.2h0M66.6 485.7h0M71.4 510.5h0M69.5 518.6h0M72.0 497.5h0M69.5 477.0h0M64.9 492.1h0M68.9 480.3h0M68.6 482.8h0M67.5 500.0h0M68.8 476.8h0M67.9 481.9h0M68.3 479.9h0M69.4 474.0h0M68.3 517.0h0M73.6 505.5h0M67.3 472.5h0M71.9 509.8h0M64.8 501.6h0M72.8 490.6h0M70.6 513.7h0M70.0 480.3h0M70.7 488.7h0M70.6 477.1h0" stroke="#e5801a" stroke-width="2.28" stroke-linecap="round"/>
<polygon points="84.10,519.00 84.05,519.22 83.90,519.43 83.66,519.65 83.35,519.87 82.99,520.09 82.60,520.31 82.21,520.52 81.85,520.74 81.54,520.96 81.30,521.17 81.15,521.39 81.10,521.61 81.06,521.83 80.95,522.05 80.76,522.26 80.51,522.48 80.21,522.70 79.87,522.91 79.49,523.13 79.10,523.35 78.71,523.57 78.33,523.79 77.99,524.00 77.69,524.22 77.44,524.44 77.25,524.65 77.14,524.87 77.10,525.09 77.19,525.31 77.47,525.53 77.91,525.74 78.47,525.96 79.14,526.18 79.85,526.39 80.56,526.61 81.22,526.83 81.79,527.05 82.23,527.27 82.51,527.48 82.60,527.70 86.60,527.70 86.69,527.48 86.97,527.27 87.41,527.05 87.97,526.83 88.64,526.61 89.35,526.39 90.06,526.18 90.72,525.96 91.29,525.74 91.73,525.53 92.01,525.31 92.10,525.09 92.06,524.87 91.95,524.65 91.76,524.44 91.51,524.22 91.21,524.00 90.87,523.79 90.49,523.57 90.10,523.35 89.71,523.13 89.33,522.91 88.99,522.70 88.69,522.48 88.44,522.26 88.25,522.05 88.14,521.83 88.10,521.61 88.05,521.39 87.90,521.17 87.66,520.96 87.35,520.74 86.99,520.52 86.60,520.31 86.21,520.09 85.85,519.87 85.54,519.65 85.30,519.43 85.15,519.22 85.10,519.00" fill="#b17cc6" stroke="#7a1198" stroke-width="0.7" stroke-linejoin="round"/>
<path d="M85.3 520.3h0M90.0 524.5h0M83.2 521.6h0M86.6 525.2h0M85.7 521.8h0M86.6 522.5h0M83.6 520.4h0M83.5 526.5h0M86.4 521.5h0M80.4 524.4h0M86.3 523.8h0M85.3 520.7h0M84.0 520.4h0M83.8 520.1h0M84.2 527.1h0M84.3 527.2h0" stroke="#7a1198" stroke-width="2.40" stroke-linecap="round"/>
<polyline points="53.30,507.50 53.30,431.90 85.20,431.90 85.20,444.60" fill="none" stroke="#555" stroke-width="0.6" />
<text x="69.30" y="433.80" font-size="8.8" text-anchor="middle" transform="matrix(1,0,0,1.1,0,-43.38)" >*</text>
<polyline points="53.30,459.40 69.20,459.40 69.20,467.50" fill="none" stroke="#555" stroke-width="0.6" />
<text x="61.30" y="461.30" font-size="8.8" text-anchor="middle" transform="matrix(1,0,0,1.1,0,-46.13)" >***</text>
<polyline points="69.20,459.40 69.20,444.60 85.20,444.60 85.20,518.00" fill="none" stroke="#555" stroke-width="0.6" />
<text x="77.60" y="446.50" font-size="8.8" text-anchor="middle" transform="matrix(1,0,0,1.1,0,-44.65)" >***</text>
<text x="122.70" y="437.00" font-size="10" transform="matrix(1,0,0,1.1,0,-43.70)" >K</text>
<line x1="167.30" y1="450.00" x2="167.30" y2="527.00" stroke="#000" stroke-width="0.7" />
<line x1="164.70" y1="450.00" x2="167.30" y2="450.00" stroke="#000" stroke-width="0.7" />
<text x="164.30" y="452.90" font-size="8.3" text-anchor="end" transform="matrix(1,0,0,1.1,0,-45.29)" >15</text>
<line x1="164.70" y1="476.00" x2="167.30" y2="476.00" stroke="#000" stroke-width="0.7" />
<text x="164.30" y="478.90" font-size="8.3" text-anchor="end" transform="matrix(1,0,0,1.1,0,-47.89)" >10</text>
<line x1="164.70" y1="501.50" x2="167.30" y2="501.50" stroke="#000" stroke-width="0.7" />
<text x="164.30" y="504.40" font-size="8.3" text-anchor="end" transform="matrix(1,0,0,1.1,0,-50.44)" >5</text>
<line x1="164.70" y1="527.00" x2="167.30" y2="527.00" stroke="#000" stroke-width="0.7" />
<text x="164.30" y="529.90" font-size="8.3" text-anchor="end" transform="matrix(1,0,0,1.1,0,-52.99)" >0</text>
<line x1="167.30" y1="527.00" x2="273.50" y2="527.00" stroke="#000" stroke-width="0.7" />
<text x="141.60" y="488.20" font-size="8.3" text-anchor="middle" transform="rotate(-90 141.60 488.20)" >Total CD8<tspan font-size="5" dy="-2.6">+</tspan><tspan dy="2.6">CD11a</tspan><tspan font-size="5" dy="-2.6">hi</tspan><tspan dy="2.6">CD62L</tspan><tspan font-size="5" dy="-2.6">-</tspan><tspan dy="2.6"></tspan></text>
<text x="149.80" y="488.70" font-size="8.3" text-anchor="middle" transform="rotate(-90 149.80 488.70)" >T cells (×10,000)</text>
<text x="181.30" y="537.30" font-size="8.3" transform="matrix(1,0,0,1.1,0,-53.73)" >CD127<tspan font-size="5" dy="-2.6">+</tspan></text>
<text x="237.70" y="537.30" font-size="8.3" transform="matrix(1,0,0,1.1,0,-53.73)" >CD127<tspan font-size="5" dy="-2.6">-</tspan></text>
<polygon points="175.00,523.50 171.00,525.25 169.00,527.00 183.00,527.00 181.00,525.25 177.00,523.50" fill="#666" stroke="#000" stroke-width="0.5" stroke-linejoin="round"/>
<path d="M177.9 526.3h0M180.1 525.7h0M177.4 523.4h0M179.8 526.3h0M172.6 524.8h0M181.0 524.1h0M174.2 522.7h0M175.5 526.5h0M174.1 523.2h0M174.3 526.3h0M177.3 524.2h0M175.9 525.9h0" stroke="#000" stroke-width="2.16" stroke-linecap="round"/>
<circle cx="176.50" cy="520.30" r="0.90" fill="#000" />
<polygon points="191.50,521.50 187.50,523.70 185.00,527.00 200.00,527.00 197.50,523.70 193.50,521.50" fill="#f3c38c" stroke="#e5801a" stroke-width="0.6" stroke-linejoin="round"/>
<path d="M196.0 525.3h0M197.6 522.7h0M194.2 522.7h0M195.1 522.2h0M194.6 522.5h0M195.2 525.4h0M196.2 524.0h0M188.6 526.7h0M197.2 524.3h0M191.9 525.4h0M197.1 523.3h0M195.2 522.2h0M189.0 525.9h0M190.5 523.4h0" stroke="#e5801a" stroke-width="2.16" stroke-linecap="round"/>
<polygon points="205.40,520.00 205.38,520.17 205.33,520.35 205.25,520.52 205.15,520.70 205.03,520.88 204.90,521.05 204.77,521.23 204.65,521.40 204.55,521.58 204.47,521.75 204.42,521.92 204.40,522.10 204.35,522.27 204.20,522.45 203.96,522.62 203.65,522.80 203.29,522.98 202.90,523.15 202.51,523.33 202.15,523.50 201.84,523.67 201.60,523.85 201.45,524.02 201.40,524.20 201.40,524.38 201.38,524.55 201.36,524.73 201.33,524.90 201.29,525.08 201.25,525.25 201.20,525.42 201.15,525.60 201.10,525.77 201.05,525.95 201.01,526.12 200.97,526.30 200.94,526.48 200.92,526.65 200.90,526.83 200.90,527.00 215.90,527.00 215.90,526.83 215.88,526.65 215.86,526.48 215.83,526.30 215.79,526.12 215.75,525.95 215.70,525.77 215.65,525.60 215.60,525.42 215.55,525.25 215.51,525.08 215.47,524.90 215.44,524.73 215.42,524.55 215.40,524.38 215.40,524.20 215.35,524.02 215.20,523.85 214.96,523.67 214.65,523.50 214.29,523.33 213.90,523.15 213.51,522.98 213.15,522.80 212.84,522.62 212.60,522.45 212.45,522.27 212.40,522.10 212.38,521.92 212.33,521.75 212.25,521.58 212.15,521.40 212.03,521.23 211.90,521.05 211.77,520.88 211.65,520.70 211.55,520.52 211.47,520.35 211.42,520.17 211.40,520.00" fill="#b17cc6" stroke="#7a1198" stroke-width="0.7" stroke-linejoin="round"/>
<path d="M210.3 521.4h0M208.2 524.4h0M211.4 521.7h0M208.5 525.4h0M205.7 523.5h0M207.1 520.4h0M204.0 524.0h0M205.7 525.4h0M203.7 521.8h0M210.8 526.6h0M209.6 525.9h0M206.7 520.6h0M204.5 523.5h0M207.1 526.3h0" stroke="#7a1198" stroke-width="2.16" stroke-linecap="round"/>
<line x1="208.40" y1="505.00" x2="208.40" y2="521.00" stroke="#7a1198" stroke-width="0.6" />
<circle cx="207.50" cy="504.50" r="1.00" fill="#7a1198" />
<circle cx="209.50" cy="505.20" r="1.00" fill="#7a1198" />
<polygon points="232.70,513.50 232.67,513.84 232.57,514.17 232.41,514.51 232.20,514.85 231.96,515.19 231.70,515.52 231.44,515.86 231.20,516.20 230.99,516.54 230.83,516.88 230.73,517.21 230.70,517.55 230.67,517.89 230.60,518.23 230.48,518.56 230.32,518.90 230.14,519.24 229.95,519.58 229.76,519.91 229.57,520.25 229.42,520.59 229.30,520.92 229.23,521.26 229.20,521.60 229.17,521.94 229.09,522.27 228.95,522.61 228.76,522.95 228.53,523.29 228.27,523.62 227.99,523.96 227.70,524.30 227.41,524.64 227.13,524.98 226.87,525.31 226.64,525.65 226.45,525.99 226.31,526.33 226.23,526.66 226.20,527.00 240.20,527.00 240.17,526.66 240.09,526.33 239.95,525.99 239.76,525.65 239.53,525.31 239.27,524.98 238.99,524.64 238.70,524.30 238.41,523.96 238.13,523.62 237.87,523.29 237.64,522.95 237.45,522.61 237.31,522.27 237.23,521.94 237.20,521.60 237.17,521.26 237.10,520.92 236.98,520.59 236.82,520.25 236.64,519.91 236.45,519.58 236.26,519.24 236.07,518.90 235.92,518.56 235.80,518.23 235.73,517.89 235.70,517.55 235.67,517.21 235.57,516.88 235.41,516.54 235.20,516.20 234.96,515.86 234.70,515.52 234.44,515.19 234.20,514.85 233.99,514.51 233.83,514.17 233.73,513.84 233.70,513.50" fill="#777" stroke="#000" stroke-width="0.6" stroke-linejoin="round"/>
<path d="M229.7 525.8h0M235.9 514.5h0M230.8 516.4h0M231.9 522.1h0M230.7 525.0h0M231.4 525.8h0M236.7 521.5h0M236.8 522.5h0M229.3 522.8h0M234.0 524.9h0M231.1 517.9h0M234.0 524.5h0M235.8 525.6h0M233.8 525.9h0M234.2 522.7h0M236.2 517.3h0M235.1 518.0h0M234.7 525.8h0" stroke="#000" stroke-width="2.28" stroke-linecap="round"/>
<polygon points="248.60,512.80 248.59,513.15 248.56,513.51 248.50,513.87 248.43,514.22 248.35,514.57 248.25,514.93 248.15,515.28 248.05,515.64 247.95,516.00 247.87,516.35 247.80,516.70 247.74,517.06 247.71,517.41 247.70,517.77 247.66,518.12 247.53,518.48 247.33,518.83 247.08,519.19 246.80,519.54 246.52,519.90 246.27,520.25 246.07,520.61 245.94,520.97 245.90,521.32 245.79,521.67 245.46,522.03 244.97,522.38 244.40,522.74 243.83,523.10 243.34,523.45 243.01,523.80 242.90,524.16 242.84,524.51 242.68,524.87 242.44,525.23 242.15,525.58 241.86,525.93 241.62,526.29 241.46,526.64 241.40,527.00 256.40,527.00 256.34,526.64 256.18,526.29 255.94,525.93 255.65,525.58 255.36,525.23 255.12,524.87 254.96,524.51 254.90,524.16 254.79,523.80 254.46,523.45 253.97,523.10 253.40,522.74 252.83,522.38 252.34,522.03 252.01,521.67 251.90,521.32 251.86,520.97 251.73,520.61 251.53,520.25 251.28,519.90 251.00,519.54 250.72,519.19 250.47,518.83 250.27,518.48 250.14,518.12 250.10,517.77 250.09,517.41 250.06,517.06 250.00,516.70 249.93,516.35 249.85,516.00 249.75,515.64 249.65,515.28 249.55,514.93 249.45,514.57 249.37,514.22 249.30,513.87 249.24,513.51 249.21,513.15 249.20,512.80" fill="#f3c38c" stroke="#e5801a" stroke-width="0.6" stroke-linejoin="round"/>
<path d="M251.3 518.3h0M246.1 524.3h0M250.3 524.7h0M250.1 514.1h0M248.0 516.8h0M249.4 518.9h0M249.5 515.1h0M249.0 524.1h0M250.1 523.7h0M245.8 524.1h0M248.7 518.1h0M250.4 514.8h0M245.7 521.6h0M248.3 521.0h0M247.6 515.9h0M246.1 519.4h0" stroke="#e5801a" stroke-width="2.28" stroke-linecap="round"/>
<circle cx="249.00" cy="512.80" r="1.00" fill="#e5801a" />
<polygon points="265.00,474.60 264.89,475.91 264.57,477.22 264.15,478.53 263.73,479.84 263.41,481.15 263.30,482.46 263.14,483.77 262.67,485.08 261.97,486.39 261.15,487.70 260.33,489.01 259.63,490.32 259.16,491.63 259.00,492.94 259.09,494.25 259.34,495.56 259.71,496.87 260.15,498.18 260.59,499.49 260.96,500.80 261.21,502.11 261.30,503.42 261.27,504.73 261.17,506.04 261.01,507.35 260.80,508.66 260.56,509.97 260.30,511.28 260.04,512.59 259.80,513.90 259.59,515.21 259.43,516.52 259.33,517.83 259.30,519.14 259.27,520.45 259.18,521.76 259.05,523.07 258.93,524.38 258.83,525.69 258.80,527.00 272.80,527.00 272.77,525.69 272.68,524.38 272.55,523.07 272.43,521.76 272.33,520.45 272.30,519.14 272.27,517.83 272.17,516.52 272.01,515.21 271.80,513.90 271.56,512.59 271.30,511.28 271.04,509.97 270.80,508.66 270.59,507.35 270.43,506.04 270.33,504.73 270.30,503.42 270.39,502.11 270.64,500.80 271.01,499.49 271.45,498.18 271.89,496.87 272.26,495.56 272.51,494.25 272.60,492.94 272.44,491.63 271.97,490.32 271.27,489.01 270.45,487.70 269.63,486.39 268.93,485.08 268.46,483.77 268.30,482.46 268.19,481.15 267.88,479.84 267.45,478.53 267.03,477.22 266.71,475.91 266.60,474.60" fill="#b17cc6" stroke="#7a1198" stroke-width="0.8" stroke-linejoin="round"/>
<line x1="259.13" y1="491.89" x2="272.47" y2="491.89" stroke="#7a1198" stroke-width="0.4" />
<line x1="261.17" y1="506.04" x2="270.43" y2="506.04" stroke="#7a1198" stroke-width="0.4" />
<line x1="258.93" y1="524.38" x2="272.68" y2="524.38" stroke="#7a1198" stroke-width="0.4" />
<path d="M270.8 520.8h0M261.2 519.3h0M265.2 505.1h0M262.9 502.2h0M265.4 486.3h0M265.4 487.6h0M264.7 478.4h0M265.1 510.7h0M267.7 501.4h0M260.7 494.2h0M266.7 514.2h0M266.8 508.2h0M264.2 523.0h0M264.5 513.1h0M267.0 504.2h0M261.1 492.0h0M267.7 499.6h0M265.4 505.1h0" stroke="#7a1198" stroke-width="2.40" stroke-linecap="round"/>
<polyline points="233.00,509.00 233.00,450.00 266.00,450.00 266.00,454.60" fill="none" stroke="#555" stroke-width="0.6" />
<text x="249.50" y="451.80" font-size="8.8" text-anchor="middle" transform="matrix(1,0,0,1.1,0,-45.18)" >***</text>
<polyline points="248.90,509.00 248.90,465.70 266.00,465.70 266.00,469.60" fill="none" stroke="#555" stroke-width="0.6" />
<text x="257.50" y="467.50" font-size="8.8" text-anchor="middle" transform="matrix(1,0,0,1.1,0,-46.75)" >***</text>
<text x="303.50" y="460.60" font-size="10" transform="matrix(1,0,0,1.1,0,-46.06)" >L</text>
<text x="341.30" y="466.80" font-size="8.3" text-anchor="end" transform="matrix(1,0,0,1.1,0,-46.68)" >80</text>
<text x="341.30" y="481.35" font-size="8.3" text-anchor="end" transform="matrix(1,0,0,1.1,0,-48.14)" >60</text>
<text x="341.30" y="495.90" font-size="8.3" text-anchor="end" transform="matrix(1,0,0,1.1,0,-49.59)" >40</text>
<text x="341.30" y="510.45" font-size="8.3" text-anchor="end" transform="matrix(1,0,0,1.1,0,-51.05)" >20</text>
<text x="341.30" y="525.00" font-size="8.3" text-anchor="end" transform="matrix(1,0,0,1.1,0,-52.50)" >0</text>
<text x="318.60" y="494.00" font-size="8.3" text-anchor="middle" transform="rotate(-90 318.60 494.00)" >Cumulative %</text>
<text x="326.00" y="494.70" font-size="8.3" text-anchor="middle" transform="rotate(-90 326.00 494.70)" >CD8 TCRs</text>
<text x="368.00" y="460.80" font-size="8.3" text-anchor="middle" transform="matrix(1,0,0,1.1,0,-46.08)" >IgG</text>
<text x="420.50" y="460.80" font-size="8.3" text-anchor="middle" transform="matrix(1,0,0,1.1,0,-46.08)" >Spt</text>
<text x="472.30" y="460.80" font-size="8.3" text-anchor="middle" transform="matrix(1,0,0,1.1,0,-46.08)" >PD1</text>
<text x="370.00" y="532.60" font-size="8.3" textLength="96.70" lengthAdjust="spacingAndGlyphs" transform="matrix(1,0,0,1.1,0,-53.26)" >Top 50 largest clonotypes</text>
<polygon points="343.30,522.10 343.30,509.59 344.33,509.59 344.33,505.28 345.36,505.28 345.36,501.88 346.39,501.88 346.39,499.18 347.42,499.18 347.42,497.03 348.45,497.03 348.45,495.31 349.49,495.31 349.49,493.92 350.52,493.92 350.52,492.80 351.55,492.80 351.55,491.89 352.58,491.89 352.58,491.14 353.61,491.14 353.61,490.52 354.64,490.52 354.64,490.00 355.67,490.00 355.67,489.55 356.70,489.55 356.70,489.16 357.73,489.16 357.73,488.83 358.76,488.83 358.76,488.53 359.80,488.53 359.80,488.25 360.83,488.25 360.83,488.01 361.86,488.01 361.86,487.77 362.89,487.77 362.89,487.56 363.92,487.56 363.92,487.35 364.95,487.35 364.95,487.15 365.98,487.15 365.98,486.96 367.01,486.96 367.01,486.78 368.04,486.78 368.04,486.60 369.07,486.60 369.07,486.42 370.11,486.42 370.11,486.24 371.14,486.24 371.14,486.07 372.17,486.07 372.17,485.90 373.20,485.90 373.20,485.73 374.23,485.73 374.23,485.56 375.26,485.56 375.26,485.39 376.29,485.39 376.29,485.22 377.32,485.22 377.32,485.05 378.35,485.05 378.35,484.88 379.38,484.88 379.38,484.71 380.42,484.71 380.42,484.55 381.45,484.55 381.45,484.38 382.48,484.38 382.48,484.21 383.51,484.21 383.51,484.05 384.54,484.05 384.54,483.88 385.57,483.88 385.57,483.71 386.60,483.71 386.60,483.55 387.63,483.55 387.63,483.38 388.66,483.38 388.66,483.21 389.69,483.21 389.69,483.05 390.73,483.05 390.73,482.88 391.76,482.88 391.76,482.71 392.79,482.71 392.79,482.55 393.82,482.55 393.82,482.38 394.85,482.38 394.85,522.10" fill="#595959" stroke="none" stroke-width="0.6" />
<line x1="344.33" y1="506.28" x2="344.33" y2="522.10" stroke="#8a8a8a" stroke-width="0.35" />
<line x1="345.36" y1="502.88" x2="345.36" y2="522.10" stroke="#8a8a8a" stroke-width="0.35" />
<line x1="346.39" y1="500.18" x2="346.39" y2="522.10" stroke="#8a8a8a" stroke-width="0.35" />
<line x1="347.42" y1="498.03" x2="347.42" y2="522.10" stroke="#8a8a8a" stroke-width="0.35" />
<line x1="348.45" y1="496.31" x2="348.45" y2="522.10" stroke="#8a8a8a" stroke-width="0.35" />
<line x1="349.49" y1="494.92" x2="349.49" y2="522.10" stroke="#8a8a8a" stroke-width="0.35" />
<line x1="350.52" y1="493.80" x2="350.52" y2="522.10" stroke="#8a8a8a" stroke-width="0.35" />
<line x1="351.55" y1="492.89" x2="351.55" y2="522.10" stroke="#8a8a8a" stroke-width="0.35" />
<line x1="352.58" y1="492.14" x2="352.58" y2="522.10" stroke="#8a8a8a" stroke-width="0.35" />
<line x1="353.61" y1="491.52" x2="353.61" y2="522.10" stroke="#8a8a8a" stroke-width="0.35" />
<line x1="354.64" y1="491.00" x2="354.64" y2="522.10" stroke="#8a8a8a" stroke-width="0.35" />
<line x1="355.67" y1="490.55" x2="355.67" y2="522.10" stroke="#8a8a8a" stroke-width="0.35" />
<line x1="356.70" y1="490.16" x2="356.70" y2="522.10" stroke="#8a8a8a" stroke-width="0.35" />
<line x1="357.73" y1="489.83" x2="357.73" y2="522.10" stroke="#8a8a8a" stroke-width="0.35" />
<line x1="358.76" y1="489.53" x2="358.76" y2="522.10" stroke="#8a8a8a" stroke-width="0.35" />
<line x1="359.80" y1="489.25" x2="359.80" y2="522.10" stroke="#8a8a8a" stroke-width="0.35" />
<line x1="360.83" y1="489.01" x2="360.83" y2="522.10" stroke="#8a8a8a" stroke-width="0.35" />
<line x1="361.86" y1="488.77" x2="361.86" y2="522.10" stroke="#8a8a8a" stroke-width="0.35" />
<line x1="362.89" y1="488.56" x2="362.89" y2="522.10" stroke="#8a8a8a" stroke-width="0.35" />
<line x1="363.92" y1="488.35" x2="363.92" y2="522.10" stroke="#8a8a8a" stroke-width="0.35" />
<line x1="364.95" y1="488.15" x2="364.95" y2="522.10" stroke="#8a8a8a" stroke-width="0.35" />
<line x1="365.98" y1="487.96" x2="365.98" y2="522.10" stroke="#8a8a8a" stroke-width="0.35" />
<line x1="367.01" y1="487.78" x2="367.01" y2="522.10" stroke="#8a8a8a" stroke-width="0.35" />
<line x1="368.04" y1="487.60" x2="368.04" y2="522.10" stroke="#8a8a8a" stroke-width="0.35" />
<line x1="369.07" y1="487.42" x2="369.07" y2="522.10" stroke="#8a8a8a" stroke-width="0.35" />
<line x1="370.11" y1="487.24" x2="370.11" y2="522.10" stroke="#8a8a8a" stroke-width="0.35" />
<line x1="371.14" y1="487.07" x2="371.14" y2="522.10" stroke="#8a8a8a" stroke-width="0.35" />
<line x1="372.17" y1="486.90" x2="372.17" y2="522.10" stroke="#8a8a8a" stroke-width="0.35" />
<line x1="373.20" y1="486.73" x2="373.20" y2="522.10" stroke="#8a8a8a" stroke-width="0.35" />
<line x1="374.23" y1="486.56" x2="374.23" y2="522.10" stroke="#8a8a8a" stroke-width="0.35" />
<line x1="375.26" y1="486.39" x2="375.26" y2="522.10" stroke="#8a8a8a" stroke-width="0.35" />
<line x1="376.29" y1="486.22" x2="376.29" y2="522.10" stroke="#8a8a8a" stroke-width="0.35" />
<line x1="377.32" y1="486.05" x2="377.32" y2="522.10" stroke="#8a8a8a" stroke-width="0.35" />
<line x1="378.35" y1="485.88" x2="378.35" y2="522.10" stroke="#8a8a8a" stroke-width="0.35" />
<line x1="379.38" y1="485.71" x2="379.38" y2="522.10" stroke="#8a8a8a" stroke-width="0.35" />
<line x1="380.42" y1="485.55" x2="380.42" y2="522.10" stroke="#8a8a8a" stroke-width="0.35" />
<line x1="381.45" y1="485.38" x2="381.45" y2="522.10" stroke="#8a8a8a" stroke-width="0.35" />
<line x1="382.48" y1="485.21" x2="382.48" y2="522.10" stroke="#8a8a8a" stroke-width="0.35" />
<line x1="383.51" y1="485.05" x2="383.51" y2="522.10" stroke="#8a8a8a" stroke-width="0.35" />
<line x1="384.54" y1="484.88" x2="384.54" y2="522.10" stroke="#8a8a8a" stroke-width="0.35" />
<line x1="385.57" y1="484.71" x2="385.57" y2="522.10" stroke="#8a8a8a" stroke-width="0.35" />
<line x1="386.60" y1="484.55" x2="386.60" y2="522.10" stroke="#8a8a8a" stroke-width="0.35" />
<line x1="387.63" y1="484.38" x2="387.63" y2="522.10" stroke="#8a8a8a" stroke-width="0.35" />
<line x1="388.66" y1="484.21" x2="388.66" y2="522.10" stroke="#8a8a8a" stroke-width="0.35" />
<line x1="389.69" y1="484.05" x2="389.69" y2="522.10" stroke="#8a8a8a" stroke-width="0.35" />
<line x1="390.73" y1="483.88" x2="390.73" y2="522.10" stroke="#8a8a8a" stroke-width="0.35" />
<line x1="391.76" y1="483.71" x2="391.76" y2="522.10" stroke="#8a8a8a" stroke-width="0.35" />
<line x1="392.79" y1="483.55" x2="392.79" y2="522.10" stroke="#8a8a8a" stroke-width="0.35" />
<line x1="393.82" y1="483.38" x2="393.82" y2="522.10" stroke="#8a8a8a" stroke-width="0.35" />
<circle cx="343.82" cy="509.59" r="0.75" fill="#000" />
<circle cx="344.85" cy="505.28" r="0.75" fill="#000" />
<circle cx="345.88" cy="501.88" r="0.75" fill="#000" />
<circle cx="346.91" cy="499.18" r="0.75" fill="#000" />
<circle cx="347.94" cy="497.03" r="0.75" fill="#000" />
<circle cx="348.97" cy="495.31" r="0.75" fill="#000" />
<circle cx="350.00" cy="493.92" r="0.75" fill="#000" />
<circle cx="351.03" cy="492.80" r="0.75" fill="#000" />
<circle cx="352.06" cy="491.89" r="0.75" fill="#000" />
<circle cx="353.09" cy="491.14" r="0.75" fill="#000" />
<circle cx="354.13" cy="490.52" r="0.75" fill="#000" />
<circle cx="355.16" cy="490.00" r="0.75" fill="#000" />
<circle cx="356.19" cy="489.55" r="0.75" fill="#000" />
<circle cx="357.22" cy="489.16" r="0.75" fill="#000" />
<circle cx="358.25" cy="488.83" r="0.75" fill="#000" />
<circle cx="359.28" cy="488.53" r="0.75" fill="#000" />
<circle cx="360.31" cy="488.25" r="0.75" fill="#000" />
<circle cx="361.34" cy="488.01" r="0.75" fill="#000" />
<circle cx="362.37" cy="487.77" r="0.75" fill="#000" />
<circle cx="363.40" cy="487.56" r="0.75" fill="#000" />
<circle cx="364.44" cy="487.35" r="0.75" fill="#000" />
<circle cx="365.47" cy="487.15" r="0.75" fill="#000" />
<circle cx="366.50" cy="486.96" r="0.75" fill="#000" />
<circle cx="367.53" cy="486.78" r="0.75" fill="#000" />
<circle cx="368.56" cy="486.60" r="0.75" fill="#000" />
<circle cx="369.59" cy="486.42" r="0.75" fill="#000" />
<circle cx="370.62" cy="486.24" r="0.75" fill="#000" />
<circle cx="371.65" cy="486.07" r="0.75" fill="#000" />
<circle cx="372.68" cy="485.90" r="0.75" fill="#000" />
<circle cx="373.71" cy="485.73" r="0.75" fill="#000" />
<circle cx="374.75" cy="485.56" r="0.75" fill="#000" />
<circle cx="375.78" cy="485.39" r="0.75" fill="#000" />
<circle cx="376.81" cy="485.22" r="0.75" fill="#000" />
<circle cx="377.84" cy="485.05" r="0.75" fill="#000" />
<circle cx="378.87" cy="484.88" r="0.75" fill="#000" />
<circle cx="379.90" cy="484.71" r="0.75" fill="#000" />
<circle cx="380.93" cy="484.55" r="0.75" fill="#000" />
<circle cx="381.96" cy="484.38" r="0.75" fill="#000" />
<circle cx="382.99" cy="484.21" r="0.75" fill="#000" />
<circle cx="384.02" cy="484.05" r="0.75" fill="#000" />
<circle cx="385.06" cy="483.88" r="0.75" fill="#000" />
<circle cx="386.09" cy="483.71" r="0.75" fill="#000" />
<circle cx="387.12" cy="483.55" r="0.75" fill="#000" />
<circle cx="388.15" cy="483.38" r="0.75" fill="#000" />
<circle cx="389.18" cy="483.21" r="0.75" fill="#000" />
<circle cx="390.21" cy="483.05" r="0.75" fill="#000" />
<circle cx="391.24" cy="482.88" r="0.75" fill="#000" />
<circle cx="392.27" cy="482.71" r="0.75" fill="#000" />
<circle cx="393.30" cy="482.55" r="0.75" fill="#000" />
<circle cx="394.33" cy="482.38" r="0.75" fill="#000" />
<polygon points="394.85,522.10 394.85,520.43 395.88,520.43 395.88,515.41 396.91,515.41 396.91,511.11 397.94,511.11 397.94,507.43 398.97,507.43 398.97,504.27 400.00,504.27 400.00,501.56 401.04,501.56 401.04,499.22 402.07,499.22 402.07,497.20 403.10,497.20 403.10,495.45 404.13,495.45 404.13,493.93 405.16,493.93 405.16,492.61 406.19,492.61 406.19,491.46 407.22,491.46 407.22,490.44 408.25,490.44 408.25,489.55 409.28,489.55 409.28,488.76 410.31,488.76 410.31,488.05 411.35,488.05 411.35,487.42 412.38,487.42 412.38,486.85 413.41,486.85 413.41,486.34 414.44,486.34 414.44,485.87 415.47,485.87 415.47,485.43 416.50,485.43 416.50,485.03 417.53,485.03 417.53,484.66 418.56,484.66 418.56,484.31 419.59,484.31 419.59,483.98 420.62,483.98 420.62,483.67 421.66,483.67 421.66,483.37 422.69,483.37 422.69,483.09 423.72,483.09 423.72,482.81 424.75,482.81 424.75,482.55 425.78,482.55 425.78,482.29 426.81,482.29 426.81,482.03 427.84,482.03 427.84,481.79 428.87,481.79 428.87,481.54 429.90,481.54 429.90,481.31 430.94,481.31 430.94,481.07 431.97,481.07 431.97,480.84 433.00,480.84 433.00,480.61 434.03,480.61 434.03,480.38 435.06,480.38 435.06,480.15 436.09,480.15 436.09,479.93 437.12,479.93 437.12,479.70 438.15,479.70 438.15,479.48 439.18,479.48 439.18,479.26 440.21,479.26 440.21,479.04 441.25,479.04 441.25,478.82 442.28,478.82 442.28,478.60 443.31,478.60 443.31,478.38 444.34,478.38 444.34,478.16 445.37,478.16 445.37,477.94 446.40,477.94 446.40,522.10" fill="#f4c291" stroke="none" stroke-width="0.6" />
<line x1="395.88" y1="516.41" x2="395.88" y2="522.10" stroke="#fad8b4" stroke-width="0.35" />
<line x1="396.91" y1="512.11" x2="396.91" y2="522.10" stroke="#fad8b4" stroke-width="0.35" />
<line x1="397.94" y1="508.43" x2="397.94" y2="522.10" stroke="#fad8b4" stroke-width="0.35" />
<line x1="398.97" y1="505.27" x2="398.97" y2="522.10" stroke="#fad8b4" stroke-width="0.35" />
<line x1="400.00" y1="502.56" x2="400.00" y2="522.10" stroke="#fad8b4" stroke-width="0.35" />
<line x1="401.04" y1="500.22" x2="401.04" y2="522.10" stroke="#fad8b4" stroke-width="0.35" />
<line x1="402.07" y1="498.20" x2="402.07" y2="522.10" stroke="#fad8b4" stroke-width="0.35" />
<line x1="403.10" y1="496.45" x2="403.10" y2="522.10" stroke="#fad8b4" stroke-width="0.35" />
<line x1="404.13" y1="494.93" x2="404.13" y2="522.10" stroke="#fad8b4" stroke-width="0.35" />
<line x1="405.16" y1="493.61" x2="405.16" y2="522.10" stroke="#fad8b4" stroke-width="0.35" />
<line x1="406.19" y1="492.46" x2="406.19" y2="522.10" stroke="#fad8b4" stroke-width="0.35" />
<line x1="407.22" y1="491.44" x2="407.22" y2="522.10" stroke="#fad8b4" stroke-width="0.35" />
<line x1="408.25" y1="490.55" x2="408.25" y2="522.10" stroke="#fad8b4" stroke-width="0.35" />
<line x1="409.28" y1="489.76" x2="409.28" y2="522.10" stroke="#fad8b4" stroke-width="0.35" />
<line x1="410.31" y1="489.05" x2="410.31" y2="522.10" stroke="#fad8b4" stroke-width="0.35" />
<line x1="411.35" y1="488.42" x2="411.35" y2="522.10" stroke="#fad8b4" stroke-width="0.35" />
<line x1="412.38" y1="487.85" x2="412.38" y2="522.10" stroke="#fad8b4" stroke-width="0.35" />
<line x1="413.41" y1="487.34" x2="413.41" y2="522.10" stroke="#fad8b4" stroke-width="0.35" />
<line x1="414.44" y1="486.87" x2="414.44" y2="522.10" stroke="#fad8b4" stroke-width="0.35" />
<line x1="415.47" y1="486.43" x2="415.47" y2="522.10" stroke="#fad8b4" stroke-width="0.35" />
<line x1="416.50" y1="486.03" x2="416.50" y2="522.10" stroke="#fad8b4" stroke-width="0.35" />
<line x1="417.53" y1="485.66" x2="417.53" y2="522.10" stroke="#fad8b4" stroke-width="0.35" />
<line x1="418.56" y1="485.31" x2="418.56" y2="522.10" stroke="#fad8b4" stroke-width="0.35" />
<line x1="419.59" y1="484.98" x2="419.59" y2="522.10" stroke="#fad8b4" stroke-width="0.35" />
<line x1="420.62" y1="484.67" x2="420.62" y2="522.10" stroke="#fad8b4" stroke-width="0.35" />
<line x1="421.66" y1="484.37" x2="421.66" y2="522.10" stroke="#fad8b4" stroke-width="0.35" />
<line x1="422.69" y1="484.09" x2="422.69" y2="522.10" stroke="#fad8b4" stroke-width="0.35" />
<line x1="423.72" y1="483.81" x2="423.72" y2="522.10" stroke="#fad8b4" stroke-width="0.35" />
<line x1="424.75" y1="483.55" x2="424.75" y2="522.10" stroke="#fad8b4" stroke-width="0.35" />
<line x1="425.78" y1="483.29" x2="425.78" y2="522.10" stroke="#fad8b4" stroke-width="0.35" />
<line x1="426.81" y1="483.03" x2="426.81" y2="522.10" stroke="#fad8b4" stroke-width="0.35" />
<line x1="427.84" y1="482.79" x2="427.84" y2="522.10" stroke="#fad8b4" stroke-width="0.35" />
<line x1="428.87" y1="482.54" x2="428.87" y2="522.10" stroke="#fad8b4" stroke-width="0.35" />
<line x1="429.90" y1="482.31" x2="429.90" y2="522.10" stroke="#fad8b4" stroke-width="0.35" />
<line x1="430.94" y1="482.07" x2="430.94" y2="522.10" stroke="#fad8b4" stroke-width="0.35" />
<line x1="431.97" y1="481.84" x2="431.97" y2="522.10" stroke="#fad8b4" stroke-width="0.35" />
<line x1="433.00" y1="481.61" x2="433.00" y2="522.10" stroke="#fad8b4" stroke-width="0.35" />
<line x1="434.03" y1="481.38" x2="434.03" y2="522.10" stroke="#fad8b4" stroke-width="0.35" />
<line x1="435.06" y1="481.15" x2="435.06" y2="522.10" stroke="#fad8b4" stroke-width="0.35" />
<line x1="436.09" y1="480.93" x2="436.09" y2="522.10" stroke="#fad8b4" stroke-width="0.35" />
<line x1="437.12" y1="480.70" x2="437.12" y2="522.10" stroke="#fad8b4" stroke-width="0.35" />
<line x1="438.15" y1="480.48" x2="438.15" y2="522.10" stroke="#fad8b4" stroke-width="0.35" />
<line x1="439.18" y1="480.26" x2="439.18" y2="522.10" stroke="#fad8b4" stroke-width="0.35" />
<line x1="440.21" y1="480.04" x2="440.21" y2="522.10" stroke="#fad8b4" stroke-width="0.35" />
<line x1="441.25" y1="479.82" x2="441.25" y2="522.10" stroke="#fad8b4" stroke-width="0.35" />
<line x1="442.28" y1="479.60" x2="442.28" y2="522.10" stroke="#fad8b4" stroke-width="0.35" />
<line x1="443.31" y1="479.38" x2="443.31" y2="522.10" stroke="#fad8b4" stroke-width="0.35" />
<line x1="444.34" y1="479.16" x2="444.34" y2="522.10" stroke="#fad8b4" stroke-width="0.35" />
<line x1="445.37" y1="478.94" x2="445.37" y2="522.10" stroke="#fad8b4" stroke-width="0.35" />
<circle cx="395.37" cy="520.43" r="0.75" fill="#e5801a" />
<circle cx="396.40" cy="515.41" r="0.75" fill="#e5801a" />
<circle cx="397.43" cy="511.11" r="0.75" fill="#e5801a" />
<circle cx="398.46" cy="507.43" r="0.75" fill="#e5801a" />
<circle cx="399.49" cy="504.27" r="0.75" fill="#e5801a" />
<circle cx="400.52" cy="501.56" r="0.75" fill="#e5801a" />
<circle cx="401.55" cy="499.22" r="0.75" fill="#e5801a" />
<circle cx="402.58" cy="497.20" r="0.75" fill="#e5801a" />
<circle cx="403.61" cy="495.45" r="0.75" fill="#e5801a" />
<circle cx="404.64" cy="493.93" r="0.75" fill="#e5801a" />
<circle cx="405.68" cy="492.61" r="0.75" fill="#e5801a" />
<circle cx="406.71" cy="491.46" r="0.75" fill="#e5801a" />
<circle cx="407.74" cy="490.44" r="0.75" fill="#e5801a" />
<circle cx="408.77" cy="489.55" r="0.75" fill="#e5801a" />
<circle cx="409.80" cy="488.76" r="0.75" fill="#e5801a" />
<circle cx="410.83" cy="488.05" r="0.75" fill="#e5801a" />
<circle cx="411.86" cy="487.42" r="0.75" fill="#e5801a" />
<circle cx="412.89" cy="486.85" r="0.75" fill="#e5801a" />
<circle cx="413.92" cy="486.34" r="0.75" fill="#e5801a" />
<circle cx="414.95" cy="485.87" r="0.75" fill="#e5801a" />
<circle cx="415.99" cy="485.43" r="0.75" fill="#e5801a" />
<circle cx="417.02" cy="485.03" r="0.75" fill="#e5801a" />
<circle cx="418.05" cy="484.66" r="0.75" fill="#e5801a" />
<circle cx="419.08" cy="484.31" r="0.75" fill="#e5801a" />
<circle cx="420.11" cy="483.98" r="0.75" fill="#e5801a" />
<circle cx="421.14" cy="483.67" r="0.75" fill="#e5801a" />
<circle cx="422.17" cy="483.37" r="0.75" fill="#e5801a" />
<circle cx="423.20" cy="483.09" r="0.75" fill="#e5801a" />
<circle cx="424.23" cy="482.81" r="0.75" fill="#e5801a" />
<circle cx="425.26" cy="482.55" r="0.75" fill="#e5801a" />
<circle cx="426.30" cy="482.29" r="0.75" fill="#e5801a" />
<circle cx="427.33" cy="482.03" r="0.75" fill="#e5801a" />
<circle cx="428.36" cy="481.79" r="0.75" fill="#e5801a" />
<circle cx="429.39" cy="481.54" r="0.75" fill="#e5801a" />
<circle cx="430.42" cy="481.31" r="0.75" fill="#e5801a" />
<circle cx="431.45" cy="481.07" r="0.75" fill="#e5801a" />
<circle cx="432.48" cy="480.84" r="0.75" fill="#e5801a" />
<circle cx="433.51" cy="480.61" r="0.75" fill="#e5801a" />
<circle cx="434.54" cy="480.38" r="0.75" fill="#e5801a" />
<circle cx="435.57" cy="480.15" r="0.75" fill="#e5801a" />
<circle cx="436.61" cy="479.93" r="0.75" fill="#e5801a" />
<circle cx="437.64" cy="479.70" r="0.75" fill="#e5801a" />
<circle cx="438.67" cy="479.48" r="0.75" fill="#e5801a" />
<circle cx="439.70" cy="479.26" r="0.75" fill="#e5801a" />
<circle cx="440.73" cy="479.04" r="0.75" fill="#e5801a" />
<circle cx="441.76" cy="478.82" r="0.75" fill="#e5801a" />
<circle cx="442.79" cy="478.60" r="0.75" fill="#e5801a" />
<circle cx="443.82" cy="478.38" r="0.75" fill="#e5801a" />
<circle cx="444.85" cy="478.16" r="0.75" fill="#e5801a" />
<circle cx="445.88" cy="477.94" r="0.75" fill="#e5801a" />
<polygon points="446.40,522.10 446.40,515.92 447.43,515.92 447.43,510.85 448.46,510.85 448.46,506.43 449.49,506.43 449.49,502.54 450.52,502.54 450.52,499.14 451.55,499.14 451.55,496.14 452.59,496.14 452.59,493.51 453.62,493.51 453.62,491.18 454.65,491.18 454.65,489.12 455.68,489.12 455.68,487.29 456.71,487.29 456.71,485.67 457.74,485.67 457.74,484.22 458.77,484.22 458.77,482.92 459.80,482.92 459.80,481.75 460.83,481.75 460.83,480.70 461.86,480.70 461.86,479.75 462.90,479.75 462.90,478.88 463.93,478.88 463.93,478.08 464.96,478.08 464.96,477.35 465.99,477.35 465.99,476.68 467.02,476.68 467.02,476.05 468.05,476.05 468.05,475.47 469.08,475.47 469.08,474.92 470.11,474.92 470.11,474.40 471.14,474.40 471.14,473.91 472.17,473.91 472.17,473.44 473.21,473.44 473.21,473.00 474.24,473.00 474.24,472.57 475.27,472.57 475.27,472.16 476.30,472.16 476.30,471.76 477.33,471.76 477.33,471.37 478.36,471.37 478.36,471.00 479.39,471.00 479.39,470.63 480.42,470.63 480.42,470.27 481.45,470.27 481.45,469.91 482.48,469.91 482.48,469.56 483.52,469.56 483.52,469.22 484.55,469.22 484.55,468.88 485.58,468.88 485.58,468.54 486.61,468.54 486.61,468.21 487.64,468.21 487.64,467.88 488.67,467.88 488.67,467.56 489.70,467.56 489.70,467.23 490.73,467.23 490.73,466.91 491.76,466.91 491.76,466.58 492.79,466.58 492.79,466.26 493.83,466.26 493.83,465.94 494.86,465.94 494.86,465.63 495.89,465.63 495.89,465.31 496.92,465.31 496.92,464.99 497.95,464.99 497.95,522.10" fill="#b27ec8" stroke="none" stroke-width="0.6" />
<line x1="447.43" y1="511.85" x2="447.43" y2="522.10" stroke="#c99ad8" stroke-width="0.35" />
<line x1="448.46" y1="507.43" x2="448.46" y2="522.10" stroke="#c99ad8" stroke-width="0.35" />
<line x1="449.49" y1="503.54" x2="449.49" y2="522.10" stroke="#c99ad8" stroke-width="0.35" />
<line x1="450.52" y1="500.14" x2="450.52" y2="522.10" stroke="#c99ad8" stroke-width="0.35" />
<line x1="451.55" y1="497.14" x2="451.55" y2="522.10" stroke="#c99ad8" stroke-width="0.35" />
<line x1="452.59" y1="494.51" x2="452.59" y2="522.10" stroke="#c99ad8" stroke-width="0.35" />
<line x1="453.62" y1="492.18" x2="453.62" y2="522.10" stroke="#c99ad8" stroke-width="0.35" />
<line x1="454.65" y1="490.12" x2="454.65" y2="522.10" stroke="#c99ad8" stroke-width="0.35" />
<line x1="455.68" y1="488.29" x2="455.68" y2="522.10" stroke="#c99ad8" stroke-width="0.35" />
<line x1="456.71" y1="486.67" x2="456.71" y2="522.10" stroke="#c99ad8" stroke-width="0.35" />
<line x1="457.74" y1="485.22" x2="457.74" y2="522.10" stroke="#c99ad8" stroke-width="0.35" />
<line x1="458.77" y1="483.92" x2="458.77" y2="522.10" stroke="#c99ad8" stroke-width="0.35" />
<line x1="459.80" y1="482.75" x2="459.80" y2="522.10" stroke="#c99ad8" stroke-width="0.35" />
<line x1="460.83" y1="481.70" x2="460.83" y2="522.10" stroke="#c99ad8" stroke-width="0.35" />
<line x1="461.86" y1="480.75" x2="461.86" y2="522.10" stroke="#c99ad8" stroke-width="0.35" />
<line x1="462.90" y1="479.88" x2="462.90" y2="522.10" stroke="#c99ad8" stroke-width="0.35" />
<line x1="463.93" y1="479.08" x2="463.93" y2="522.10" stroke="#c99ad8" stroke-width="0.35" />
<line x1="464.96" y1="478.35" x2="464.96" y2="522.10" stroke="#c99ad8" stroke-width="0.35" />
<line x1="465.99" y1="477.68" x2="465.99" y2="522.10" stroke="#c99ad8" stroke-width="0.35" />
<line x1="467.02" y1="477.05" x2="467.02" y2="522.10" stroke="#c99ad8" stroke-width="0.35" />
<line x1="468.05" y1="476.47" x2="468.05" y2="522.10" stroke="#c99ad8" stroke-width="0.35" />
<line x1="469.08" y1="475.92" x2="469.08" y2="522.10" stroke="#c99ad8" stroke-width="0.35" />
<line x1="470.11" y1="475.40" x2="470.11" y2="522.10" stroke="#c99ad8" stroke-width="0.35" />
<line x1="471.14" y1="474.91" x2="471.14" y2="522.10" stroke="#c99ad8" stroke-width="0.35" />
<line x1="472.17" y1="474.44" x2="472.17" y2="522.10" stroke="#c99ad8" stroke-width="0.35" />
<line x1="473.21" y1="474.00" x2="473.21" y2="522.10" stroke="#c99ad8" stroke-width="0.35" />
<line x1="474.24" y1="473.57" x2="474.24" y2="522.10" stroke="#c99ad8" stroke-width="0.35" />
<line x1="475.27" y1="473.16" x2="475.27" y2="522.10" stroke="#c99ad8" stroke-width="0.35" />
<line x1="476.30" y1="472.76" x2="476.30" y2="522.10" stroke="#c99ad8" stroke-width="0.35" />
<line x1="477.33" y1="472.37" x2="477.33" y2="522.10" stroke="#c99ad8" stroke-width="0.35" />
<line x1="478.36" y1="472.00" x2="478.36" y2="522.10" stroke="#c99ad8" stroke-width="0.35" />
<line x1="479.39" y1="471.63" x2="479.39" y2="522.10" stroke="#c99ad8" stroke-width="0.35" />
<line x1="480.42" y1="471.27" x2="480.42" y2="522.10" stroke="#c99ad8" stroke-width="0.35" />
<line x1="481.45" y1="470.91" x2="481.45" y2="522.10" stroke="#c99ad8" stroke-width="0.35" />
<line x1="482.48" y1="470.56" x2="482.48" y2="522.10" stroke="#c99ad8" stroke-width="0.35" />
<line x1="483.52" y1="470.22" x2="483.52" y2="522.10" stroke="#c99ad8" stroke-width="0.35" />
<line x1="484.55" y1="469.88" x2="484.55" y2="522.10" stroke="#c99ad8" stroke-width="0.35" />
<line x1="485.58" y1="469.54" x2="485.58" y2="522.10" stroke="#c99ad8" stroke-width="0.35" />
<line x1="486.61" y1="469.21" x2="486.61" y2="522.10" stroke="#c99ad8" stroke-width="0.35" />
<line x1="487.64" y1="468.88" x2="487.64" y2="522.10" stroke="#c99ad8" stroke-width="0.35" />
<line x1="488.67" y1="468.56" x2="488.67" y2="522.10" stroke="#c99ad8" stroke-width="0.35" />
<line x1="489.70" y1="468.23" x2="489.70" y2="522.10" stroke="#c99ad8" stroke-width="0.35" />
<line x1="490.73" y1="467.91" x2="490.73" y2="522.10" stroke="#c99ad8" stroke-width="0.35" />
<line x1="491.76" y1="467.58" x2="491.76" y2="522.10" stroke="#c99ad8" stroke-width="0.35" />
<line x1="492.79" y1="467.26" x2="492.79" y2="522.10" stroke="#c99ad8" stroke-width="0.35" />
<line x1="493.83" y1="466.94" x2="493.83" y2="522.10" stroke="#c99ad8" stroke-width="0.35" />
<line x1="494.86" y1="466.63" x2="494.86" y2="522.10" stroke="#c99ad8" stroke-width="0.35" />
<line x1="495.89" y1="466.31" x2="495.89" y2="522.10" stroke="#c99ad8" stroke-width="0.35" />
<line x1="496.92" y1="465.99" x2="496.92" y2="522.10" stroke="#c99ad8" stroke-width="0.35" />
<circle cx="446.92" cy="515.92" r="0.75" fill="#6c0a8c" />
<circle cx="447.95" cy="510.85" r="0.75" fill="#6c0a8c" />
<circle cx="448.98" cy="506.43" r="0.75" fill="#6c0a8c" />
<circle cx="450.01" cy="502.54" r="0.75" fill="#6c0a8c" />
<circle cx="451.04" cy="499.14" r="0.75" fill="#6c0a8c" />
<circle cx="452.07" cy="496.14" r="0.75" fill="#6c0a8c" />
<circle cx="453.10" cy="493.51" r="0.75" fill="#6c0a8c" />
<circle cx="454.13" cy="491.18" r="0.75" fill="#6c0a8c" />
<circle cx="455.16" cy="489.12" r="0.75" fill="#6c0a8c" />
<circle cx="456.19" cy="487.29" r="0.75" fill="#6c0a8c" />
<circle cx="457.23" cy="485.67" r="0.75" fill="#6c0a8c" />
<circle cx="458.26" cy="484.22" r="0.75" fill="#6c0a8c" />
<circle cx="459.29" cy="482.92" r="0.75" fill="#6c0a8c" />
<circle cx="460.32" cy="481.75" r="0.75" fill="#6c0a8c" />
<circle cx="461.35" cy="480.70" r="0.75" fill="#6c0a8c" />
<circle cx="462.38" cy="479.75" r="0.75" fill="#6c0a8c" />
<circle cx="463.41" cy="478.88" r="0.75" fill="#6c0a8c" />
<circle cx="464.44" cy="478.08" r="0.75" fill="#6c0a8c" />
<circle cx="465.47" cy="477.35" r="0.75" fill="#6c0a8c" />
<circle cx="466.50" cy="476.68" r="0.75" fill="#6c0a8c" />
<circle cx="467.54" cy="476.05" r="0.75" fill="#6c0a8c" />
<circle cx="468.57" cy="475.47" r="0.75" fill="#6c0a8c" />
<circle cx="469.60" cy="474.92" r="0.75" fill="#6c0a8c" />
<circle cx="470.63" cy="474.40" r="0.75" fill="#6c0a8c" />
<circle cx="471.66" cy="473.91" r="0.75" fill="#6c0a8c" />
<circle cx="472.69" cy="473.44" r="0.75" fill="#6c0a8c" />
<circle cx="473.72" cy="473.00" r="0.75" fill="#6c0a8c" />
<circle cx="474.75" cy="472.57" r="0.75" fill="#6c0a8c" />
<circle cx="475.78" cy="472.16" r="0.75" fill="#6c0a8c" />
<circle cx="476.81" cy="471.76" r="0.75" fill="#6c0a8c" />
<circle cx="477.85" cy="471.37" r="0.75" fill="#6c0a8c" />
<circle cx="478.88" cy="471.00" r="0.75" fill="#6c0a8c" />
<circle cx="479.91" cy="470.63" r="0.75" fill="#6c0a8c" />
<circle cx="480.94" cy="470.27" r="0.75" fill="#6c0a8c" />
<circle cx="481.97" cy="469.91" r="0.75" fill="#6c0a8c" />
<circle cx="483.00" cy="469.56" r="0.75" fill="#6c0a8c" />
<circle cx="484.03" cy="469.22" r="0.75" fill="#6c0a8c" />
<circle cx="485.06" cy="468.88" r="0.75" fill="#6c0a8c" />
<circle cx="486.09" cy="468.54" r="0.75" fill="#6c0a8c" />
<circle cx="487.12" cy="468.21" r="0.75" fill="#6c0a8c" />
<circle cx="488.16" cy="467.88" r="0.75" fill="#6c0a8c" />
<circle cx="489.19" cy="467.56" r="0.75" fill="#6c0a8c" />
<circle cx="490.22" cy="467.23" r="0.75" fill="#6c0a8c" />
<circle cx="491.25" cy="466.91" r="0.75" fill="#6c0a8c" />
<circle cx="492.28" cy="466.58" r="0.75" fill="#6c0a8c" />
<circle cx="493.31" cy="466.26" r="0.75" fill="#6c0a8c" />
<circle cx="494.34" cy="465.94" r="0.75" fill="#6c0a8c" />
<circle cx="495.37" cy="465.63" r="0.75" fill="#6c0a8c" />
<circle cx="496.40" cy="465.31" r="0.75" fill="#6c0a8c" />
<circle cx="497.43" cy="464.99" r="0.75" fill="#6c0a8c" />
<line x1="343.30" y1="463.80" x2="497.95" y2="463.80" stroke="#9a9a9a" stroke-width="0.8" />
<line x1="394.85" y1="463.80" x2="394.85" y2="522.10" stroke="#444" stroke-width="0.6" />
<line x1="446.40" y1="463.80" x2="446.40" y2="522.10" stroke="#444" stroke-width="0.6" />
<line x1="343.30" y1="522.10" x2="497.95" y2="522.10" stroke="#333" stroke-width="0.7" />
<line x1="343.30" y1="463.80" x2="343.30" y2="522.10" stroke="#444" stroke-width="0.6" />
<line x1="497.95" y1="463.80" x2="497.95" y2="522.10" stroke="#444" stroke-width="0.6" />
<text x="0.00" y="553.00" font-size="10" transform="matrix(1,0,0,1.1,0,-55.30)" >M</text>
<line x1="38.40" y1="576.00" x2="38.40" y2="650.10" stroke="#000" stroke-width="0.7" />
<line x1="35.80" y1="576.00" x2="38.40" y2="576.00" stroke="#000" stroke-width="0.7" />
<text x="35.40" y="578.90" font-size="8.3" text-anchor="end" transform="matrix(1,0,0,1.1,0,-57.89)" >25</text>
<line x1="35.80" y1="590.70" x2="38.40" y2="590.70" stroke="#000" stroke-width="0.7" />
<text x="35.40" y="593.60" font-size="8.3" text-anchor="end" transform="matrix(1,0,0,1.1,0,-59.36)" >20</text>
<line x1="35.80" y1="605.50" x2="38.40" y2="605.50" stroke="#000" stroke-width="0.7" />
<text x="35.40" y="608.40" font-size="8.3" text-anchor="end" transform="matrix(1,0,0,1.1,0,-60.84)" >15</text>
<line x1="35.80" y1="620.30" x2="38.40" y2="620.30" stroke="#000" stroke-width="0.7" />
<text x="35.40" y="623.20" font-size="8.3" text-anchor="end" transform="matrix(1,0,0,1.1,0,-62.32)" >10</text>
<line x1="35.80" y1="635.40" x2="38.40" y2="635.40" stroke="#000" stroke-width="0.7" />
<text x="35.40" y="638.30" font-size="8.3" text-anchor="end" transform="matrix(1,0,0,1.1,0,-63.83)" >5</text>
<line x1="35.80" y1="650.10" x2="38.40" y2="650.10" stroke="#000" stroke-width="0.7" />
<text x="35.40" y="653.00" font-size="8.3" text-anchor="end" transform="matrix(1,0,0,1.1,0,-65.30)" >0</text>
<line x1="38.40" y1="650.10" x2="87.60" y2="650.10" stroke="#000" stroke-width="0.7" />
<text x="47.00" y="657.60" font-size="8.3" text-anchor="middle" transform="matrix(1,0,0,1.1,0,-65.76)" >IgG</text>
<text x="61.90" y="657.60" font-size="8.3" text-anchor="middle" transform="matrix(1,0,0,1.1,0,-65.76)" >Spt</text>
<text x="78.40" y="657.60" font-size="8.3" text-anchor="middle" textLength="14.80" lengthAdjust="spacingAndGlyphs" transform="matrix(1,0,0,1.1,0,-65.76)" >PD1</text>
<text x="10.60" y="611.50" font-size="8.3" text-anchor="middle" transform="rotate(-90 10.60 611.50)" >Total NRP-v7<tspan font-size="5" dy="-2.6">+</tspan><tspan dy="2.6"> T cells</tspan></text>
<text x="18.40" y="607.70" font-size="8.3" text-anchor="middle" transform="rotate(-90 18.40 607.70)" >(×1000)</text>
<polygon points="46.50,643.30 46.47,643.47 46.37,643.64 46.21,643.81 46.00,643.98 45.76,644.15 45.50,644.32 45.24,644.49 45.00,644.66 44.79,644.83 44.63,645.00 44.53,645.17 44.50,645.34 44.46,645.51 44.33,645.68 44.13,645.85 43.88,646.02 43.57,646.19 43.25,646.36 42.93,646.53 42.62,646.70 42.37,646.87 42.17,647.04 42.04,647.21 42.00,647.38 41.98,647.55 41.93,647.72 41.85,647.89 41.74,648.06 41.60,648.23 41.44,648.40 41.28,648.57 41.10,648.74 40.92,648.91 40.76,649.08 40.60,649.25 40.46,649.42 40.35,649.59 40.27,649.76 40.22,649.93 40.20,650.10 53.80,650.10 53.78,649.93 53.73,649.76 53.65,649.59 53.54,649.42 53.40,649.25 53.24,649.08 53.08,648.91 52.90,648.74 52.72,648.57 52.56,648.40 52.40,648.23 52.26,648.06 52.15,647.89 52.07,647.72 52.02,647.55 52.00,647.38 51.96,647.21 51.83,647.04 51.63,646.87 51.38,646.70 51.07,646.53 50.75,646.36 50.43,646.19 50.12,646.02 49.87,645.85 49.67,645.68 49.54,645.51 49.50,645.34 49.47,645.17 49.37,645.00 49.21,644.83 49.00,644.66 48.76,644.49 48.50,644.32 48.24,644.15 48.00,643.98 47.79,643.81 47.63,643.64 47.53,643.47 47.50,643.30" fill="#111" stroke="#000" stroke-width="0.6" stroke-linejoin="round"/>
<path d="M44.8 646.9h0M48.6 643.8h0M44.5 644.9h0M48.4 646.1h0M46.6 649.7h0M52.0 649.7h0M42.6 645.1h0M50.5 644.6h0M51.3 647.3h0M48.6 649.6h0M42.6 646.9h0M50.1 643.8h0" stroke="#000" stroke-width="2.16" stroke-linecap="round"/>
<polygon points="62.40,643.50 62.39,643.66 62.35,643.83 62.30,644.00 62.23,644.16 62.14,644.33 62.05,644.49 61.96,644.65 61.88,644.82 61.80,644.99 61.75,645.15 61.71,645.32 61.70,645.48 61.65,645.64 61.50,645.81 61.26,645.98 60.95,646.14 60.59,646.31 60.20,646.47 59.81,646.63 59.45,646.80 59.14,646.97 58.90,647.13 58.75,647.29 58.70,647.46 58.67,647.62 58.59,647.79 58.46,647.96 58.29,648.12 58.08,648.28 57.84,648.45 57.57,648.62 57.30,648.78 57.03,648.95 56.76,649.11 56.52,649.27 56.31,649.44 56.14,649.61 56.01,649.77 55.93,649.94 55.90,650.10 69.50,650.10 69.47,649.94 69.39,649.77 69.26,649.61 69.09,649.44 68.88,649.27 68.64,649.11 68.37,648.95 68.10,648.78 67.83,648.62 67.56,648.45 67.32,648.28 67.11,648.12 66.94,647.96 66.81,647.79 66.73,647.62 66.70,647.46 66.65,647.29 66.50,647.13 66.26,646.97 65.95,646.80 65.59,646.63 65.20,646.47 64.81,646.31 64.45,646.14 64.14,645.98 63.90,645.81 63.75,645.64 63.70,645.48 63.69,645.32 63.65,645.15 63.60,644.99 63.53,644.82 63.44,644.65 63.35,644.49 63.26,644.33 63.18,644.16 63.10,644.00 63.05,643.83 63.01,643.66 63.00,643.50" fill="#e5801a" stroke="#e5801a" stroke-width="0.6" stroke-linejoin="round"/>
<circle cx="62.70" cy="642.40" r="1.00" fill="#e5801a" />
<polygon points="78.80,583.40 78.73,585.07 78.55,586.74 78.30,588.40 78.05,590.07 77.87,591.74 77.80,593.40 77.61,595.07 77.09,596.74 76.32,598.41 75.45,600.08 74.65,601.74 74.07,603.41 73.81,605.08 73.79,606.75 73.75,608.41 73.69,610.08 73.62,611.75 73.56,613.41 73.52,615.08 73.50,616.75 73.63,618.42 73.98,620.09 74.40,621.75 74.71,623.42 74.80,625.09 74.69,626.75 74.44,628.42 74.07,630.09 73.63,631.76 73.18,633.42 72.75,635.09 72.40,636.76 72.18,638.43 72.10,640.10 72.10,641.76 72.10,643.43 72.10,645.10 72.10,646.76 72.10,648.43 72.10,650.10 86.50,650.10 86.50,648.43 86.50,646.76 86.50,645.10 86.50,643.43 86.50,641.76 86.50,640.10 86.42,638.43 86.20,636.76 85.85,635.09 85.42,633.42 84.97,631.76 84.53,630.09 84.16,628.42 83.91,626.75 83.80,625.09 83.89,623.42 84.20,621.75 84.62,620.09 84.97,618.42 85.10,616.75 85.08,615.08 85.04,613.41 84.98,611.75 84.91,610.08 84.85,608.41 84.81,606.75 84.79,605.08 84.53,603.41 83.95,601.74 83.15,600.08 82.28,598.41 81.51,596.74 80.99,595.07 80.80,593.40 80.73,591.74 80.55,590.07 80.30,588.40 80.05,586.74 79.87,585.07 79.80,583.40" fill="#b17cc6" stroke="#7a1198" stroke-width="0.8" stroke-linejoin="round"/>
<line x1="74.07" y1="603.41" x2="84.53" y2="603.41" stroke="#7a1198" stroke-width="0.4" />
<line x1="73.61" y1="618.08" x2="84.99" y2="618.08" stroke="#7a1198" stroke-width="0.4" />
<line x1="73.18" y1="633.42" x2="85.42" y2="633.42" stroke="#7a1198" stroke-width="0.4" />
<line x1="72.10" y1="643.43" x2="86.50" y2="643.43" stroke="#7a1198" stroke-width="0.4" />
<path d="M78.7 587.5h0M81.1 610.3h0M78.2 595.1h0M81.1 600.7h0M80.1 595.6h0M76.5 626.5h0M78.8 618.9h0M84.1 611.5h0M78.1 592.3h0M78.1 643.2h0M78.4 598.7h0M83.6 608.6h0M77.6 599.4h0M79.7 621.8h0M83.4 644.0h0M76.5 608.1h0M85.1 636.9h0M79.7 588.6h0M81.1 638.9h0M81.2 599.8h0M76.5 630.5h0M77.1 625.2h0M79.0 589.2h0M78.3 606.8h0M81.9 625.6h0M85.1 644.4h0M82.8 646.4h0M76.3 605.1h0M79.7 624.2h0M76.1 627.2h0M81.4 598.3h0M80.9 622.8h0M79.0 592.5h0M81.1 641.4h0" stroke="#7a1198" stroke-width="2.40" stroke-linecap="round"/>
<polyline points="47.00,642.40 47.00,559.40 79.30,559.40 79.30,565.00" fill="none" stroke="#555" stroke-width="0.6" />
<text x="63.60" y="561.30" font-size="8.8" text-anchor="middle" transform="matrix(1,0,0,1.1,0,-56.13)" >***</text>
<polyline points="62.70,641.50 62.70,574.10 79.30,574.10 79.30,579.10" fill="none" stroke="#555" stroke-width="0.6" />
<text x="70.80" y="576.00" font-size="8.8" text-anchor="middle" transform="matrix(1,0,0,1.1,0,-57.60)" >***</text>
<text x="94.50" y="552.60" font-size="10" transform="matrix(1,0,0,1.1,0,-55.26)" >N</text>
<line x1="133.25" y1="577.30" x2="133.25" y2="650.80" stroke="#000" stroke-width="0.7" />
<line x1="130.65" y1="577.30" x2="133.25" y2="577.30" stroke="#000" stroke-width="0.7" />
<text x="130.25" y="580.20" font-size="8.3" text-anchor="end" transform="matrix(1,0,0,1.1,0,-58.02)" >100</text>
<line x1="130.65" y1="595.50" x2="133.25" y2="595.50" stroke="#000" stroke-width="0.7" />
<text x="130.25" y="598.40" font-size="8.3" text-anchor="end" transform="matrix(1,0,0,1.1,0,-59.84)" >75</text>
<line x1="130.65" y1="614.00" x2="133.25" y2="614.00" stroke="#000" stroke-width="0.7" />
<text x="130.25" y="616.90" font-size="8.3" text-anchor="end" transform="matrix(1,0,0,1.1,0,-61.69)" >50</text>
<line x1="130.65" y1="632.30" x2="133.25" y2="632.30" stroke="#000" stroke-width="0.7" />
<text x="130.25" y="635.20" font-size="8.3" text-anchor="end" transform="matrix(1,0,0,1.1,0,-63.52)" >25</text>
<line x1="130.65" y1="650.80" x2="133.25" y2="650.80" stroke="#000" stroke-width="0.7" />
<text x="130.25" y="653.70" font-size="8.3" text-anchor="end" transform="matrix(1,0,0,1.1,0,-65.37)" >0</text>
<line x1="133.25" y1="650.80" x2="181.50" y2="650.80" stroke="#000" stroke-width="0.7" />
<text x="141.60" y="658.60" font-size="8.3" text-anchor="middle" transform="matrix(1,0,0,1.1,0,-65.86)" >IgG</text>
<text x="157.70" y="658.60" font-size="8.3" text-anchor="middle" transform="matrix(1,0,0,1.1,0,-65.86)" >Spt</text>
<text x="173.00" y="658.60" font-size="8.3" text-anchor="middle" textLength="14.20" lengthAdjust="spacingAndGlyphs" transform="matrix(1,0,0,1.1,0,-65.86)" >PD1</text>
<text x="102.40" y="614.00" font-size="8.3" text-anchor="middle" transform="rotate(-90 102.40 614.00)" >Ki-67<tspan font-size="5" dy="-2.6">+</tspan><tspan dy="2.6"> (of</tspan></text>
<text x="110.40" y="608.50" font-size="8.3" text-anchor="middle" transform="rotate(-90 110.40 608.50)" >CD8<tspan font-size="5" dy="-2.6">+</tspan><tspan dy="2.6">CD11a</tspan><tspan font-size="5" dy="-2.6">hi</tspan><tspan dy="2.6">CD62L</tspan><tspan font-size="5" dy="-2.6">-</tspan><tspan dy="2.6">) (%)</tspan></text>
<polygon points="141.30,578.00 141.05,579.82 140.45,581.64 139.85,583.46 139.60,585.28 139.49,587.10 139.16,588.92 138.67,590.74 138.10,592.56 137.53,594.38 137.04,596.20 136.71,598.02 136.60,599.84 136.46,601.66 136.07,603.48 135.52,605.30 134.94,607.12 134.47,608.94 134.22,610.76 134.30,612.58 134.84,614.40 135.71,616.22 136.64,618.04 137.34,619.86 137.60,621.68 137.70,623.50 137.97,625.32 138.37,627.14 138.85,628.96 139.33,630.78 139.73,632.60 140.00,634.42 140.10,636.24 140.15,638.06 140.28,639.88 140.47,641.70 140.70,643.52 140.93,645.34 141.12,647.16 141.25,648.98 141.30,650.80 141.90,650.80 141.95,648.98 142.08,647.16 142.27,645.34 142.50,643.52 142.73,641.70 142.92,639.88 143.05,638.06 143.10,636.24 143.20,634.42 143.47,632.60 143.87,630.78 144.35,628.96 144.83,627.14 145.23,625.32 145.50,623.50 145.60,621.68 145.86,619.86 146.56,618.04 147.49,616.22 148.36,614.40 148.90,612.58 148.98,610.76 148.73,608.94 148.26,607.12 147.68,605.30 147.13,603.48 146.74,601.66 146.60,599.84 146.49,598.02 146.16,596.20 145.67,594.38 145.10,592.56 144.53,590.74 144.04,588.92 143.71,587.10 143.60,585.28 143.35,583.46 142.75,581.64 142.15,579.82 141.90,578.00" fill="#333" stroke="#000" stroke-width="0.7" stroke-linejoin="round"/>
<path d="M146.3 611.7h0M140.9 583.7h0M141.8 644.7h0M140.9 590.1h0M141.5 639.3h0M142.8 583.5h0M142.3 590.1h0M141.3 622.2h0M141.2 644.7h0M138.9 621.3h0M141.2 644.9h0M145.2 615.3h0M140.7 639.5h0M142.4 639.1h0M143.9 602.3h0M138.9 596.5h0M140.5 592.3h0M141.5 635.8h0M142.0 646.4h0M141.1 595.4h0M141.9 585.9h0M142.2 621.6h0M142.0 587.4h0M143.0 589.0h0M136.6 611.9h0M142.1 645.8h0M145.6 603.4h0M141.9 600.3h0M143.8 619.2h0M140.0 586.2h0M141.0 591.4h0M142.2 633.8h0M142.6 588.7h0M138.4 594.1h0M146.6 613.0h0M141.5 641.0h0M140.7 633.9h0M144.2 592.1h0M139.6 625.6h0M144.2 603.7h0M140.5 585.4h0M140.9 634.3h0M140.8 609.1h0M139.3 612.8h0M144.1 597.9h0M143.2 631.4h0M140.5 584.4h0M141.1 637.5h0M141.0 633.6h0M143.5 607.4h0" stroke="#000" stroke-width="2.28" stroke-linecap="round"/>
<path d="M138.6 606.6h0M144.1 592.5h0M143.0 619.5h0M140.6 617.9h0M141.9 629.6h0M142.1 632.8h0M141.4 636.6h0M139.7 591.8h0M140.1 629.0h0M142.4 624.5h0M142.6 585.5h0M142.7 583.8h0M140.9 636.7h0M142.7 629.2h0" stroke="#aaa" stroke-width="1.44" stroke-linecap="round"/>
<polygon points="157.70,593.70 157.67,595.15 157.57,596.60 157.42,598.05 157.25,599.50 157.08,600.95 156.93,602.40 156.83,603.85 156.80,605.30 156.65,606.75 156.22,608.20 155.65,609.65 155.07,611.10 154.65,612.55 154.50,614.00 154.30,615.45 153.75,616.90 153.00,618.35 152.25,619.80 151.70,621.25 151.50,622.70 151.44,624.15 151.27,625.60 151.02,627.05 150.74,628.50 150.48,629.95 150.29,631.40 150.20,632.85 150.27,634.30 150.54,635.75 150.96,637.20 151.49,638.65 152.03,640.10 152.51,641.55 152.85,643.00 153.00,644.45 153.30,645.90 154.39,647.35 155.83,648.80 157.04,650.25 157.50,651.70 158.50,651.70 158.96,650.25 160.17,648.80 161.61,647.35 162.70,645.90 163.00,644.45 163.15,643.00 163.49,641.55 163.97,640.10 164.51,638.65 165.04,637.20 165.46,635.75 165.73,634.30 165.80,632.85 165.71,631.40 165.52,629.95 165.26,628.50 164.98,627.05 164.73,625.60 164.56,624.15 164.50,622.70 164.30,621.25 163.75,619.80 163.00,618.35 162.25,616.90 161.70,615.45 161.50,614.00 161.35,612.55 160.93,611.10 160.35,609.65 159.78,608.20 159.35,606.75 159.20,605.30 159.17,603.85 159.07,602.40 158.92,600.95 158.75,599.50 158.58,598.05 158.43,596.60 158.33,595.15 158.30,593.70" fill="#f3c38c" stroke="#e5801a" stroke-width="0.7" stroke-linejoin="round"/>
<path d="M151.9 630.0h0M156.7 611.0h0M160.3 635.0h0M154.4 643.2h0M153.9 618.6h0M158.0 608.0h0M157.7 598.0h0M158.6 630.5h0M158.3 608.1h0M152.6 638.9h0M160.2 638.7h0M155.9 614.4h0M156.8 646.6h0M157.3 601.4h0M159.0 640.8h0M160.5 638.7h0M163.3 624.6h0M158.4 616.4h0M159.2 639.9h0M158.7 641.6h0M152.0 633.4h0M157.3 608.5h0M157.6 600.8h0M157.6 601.9h0M156.3 629.8h0M156.1 615.9h0M160.0 610.5h0M159.4 630.4h0M158.5 605.5h0M157.8 605.1h0M158.6 648.3h0M160.1 625.7h0M160.7 640.6h0M156.5 608.6h0M156.7 613.1h0M159.2 607.6h0M156.3 642.3h0M156.6 630.8h0M157.6 644.3h0M156.9 610.4h0M155.3 625.9h0M162.7 627.1h0M155.8 617.4h0M158.0 648.7h0M157.3 601.3h0M158.2 602.3h0M157.1 637.9h0M157.8 599.9h0M158.1 648.6h0M160.2 647.3h0M158.2 597.2h0M158.5 632.2h0M158.6 610.5h0M157.9 602.4h0M162.6 620.3h0M155.9 642.3h0M154.4 622.7h0M161.2 644.2h0M158.8 612.2h0M153.7 628.4h0" stroke="#e5801a" stroke-width="2.28" stroke-linecap="round"/>
<polygon points="171.50,577.30 170.61,578.51 168.73,579.72 167.54,580.93 167.47,582.14 167.35,583.35 167.19,584.56 167.05,585.77 167.00,586.98 167.10,588.19 167.37,589.40 167.77,590.61 168.25,591.82 168.73,593.03 169.13,594.24 169.40,595.45 169.50,596.66 169.54,597.87 169.67,599.08 169.87,600.29 170.12,601.50 170.43,602.71 170.75,603.92 171.07,605.13 171.38,606.34 171.63,607.55 171.83,608.76 171.96,609.97 172.00,611.18 172.03,612.39 172.11,613.60 172.25,614.81 172.43,616.02 172.63,617.23 172.85,618.44 173.07,619.65 173.28,620.86 173.45,622.07 173.59,623.28 173.67,624.49 173.70,625.70 174.30,625.70 174.33,624.49 174.41,623.28 174.55,622.07 174.72,620.86 174.93,619.65 175.15,618.44 175.37,617.23 175.57,616.02 175.75,614.81 175.89,613.60 175.97,612.39 176.00,611.18 176.04,609.97 176.17,608.76 176.37,607.55 176.62,606.34 176.93,605.13 177.25,603.92 177.57,602.71 177.88,601.50 178.13,600.29 178.33,599.08 178.46,597.87 178.50,596.66 178.60,595.45 178.87,594.24 179.27,593.03 179.75,591.82 180.23,590.61 180.63,589.40 180.90,588.19 181.00,586.98 180.95,585.77 180.81,584.56 180.65,583.35 180.53,582.14 180.46,580.93 179.27,579.72 177.39,578.51 176.50,577.30" fill="#b17cc6" stroke="#7a1198" stroke-width="0.7" stroke-linejoin="round"/>
<path d="M176.2 581.4h0M173.6 586.0h0M175.1 609.0h0M174.0 599.5h0M173.3 580.6h0M176.7 595.9h0M175.5 603.5h0M171.6 598.6h0M174.8 616.8h0M170.9 596.1h0M174.0 602.0h0M174.3 613.4h0M174.5 601.8h0M170.5 596.1h0M178.9 582.4h0M173.5 616.3h0M174.0 618.4h0M178.1 584.2h0M176.1 605.2h0M172.5 609.3h0M175.2 606.8h0M173.7 618.9h0M175.2 602.8h0M178.1 587.0h0M172.6 613.7h0M173.4 605.5h0M175.2 587.8h0M174.1 621.9h0M173.9 584.7h0M175.5 613.7h0M172.4 610.9h0M174.1 621.8h0M169.8 583.4h0M175.9 583.5h0M177.6 586.4h0M174.4 584.5h0M170.6 599.0h0M177.7 579.8h0M173.7 622.3h0M175.7 611.7h0" stroke="#7a1198" stroke-width="2.28" stroke-linecap="round"/>
<polyline points="141.60,576.50 141.60,560.00 174.50,560.00 174.50,566.60" fill="none" stroke="#555" stroke-width="0.6" />
<text x="157.30" y="561.80" font-size="8.8" text-anchor="middle" transform="matrix(1,0,0,1.1,0,-56.18)" >***</text>
<polyline points="141.60,576.50 141.60,572.50 158.00,572.50 158.00,592.00" fill="none" stroke="#555" stroke-width="0.6" />
<text x="150.10" y="574.30" font-size="8.8" text-anchor="middle" transform="matrix(1,0,0,1.1,0,-57.43)" >***</text>
<polyline points="158.00,572.50 158.00,566.60 174.00,566.60 174.00,574.70" fill="none" stroke="#555" stroke-width="0.6" />
<text x="165.70" y="568.50" font-size="8.8" text-anchor="middle" transform="matrix(1,0,0,1.1,0,-56.85)" >***</text>
<text x="187.50" y="553.00" font-size="10" transform="matrix(1,0,0,1.1,0,-55.30)" >O</text>
<line x1="228.00" y1="576.30" x2="228.00" y2="651.30" stroke="#000" stroke-width="0.7" />
<line x1="225.40" y1="576.30" x2="228.00" y2="576.30" stroke="#000" stroke-width="0.7" />
<text x="225.00" y="579.20" font-size="8.3" text-anchor="end" transform="matrix(1,0,0,1.1,0,-57.92)" >100</text>
<line x1="225.40" y1="595.20" x2="228.00" y2="595.20" stroke="#000" stroke-width="0.7" />
<text x="225.00" y="598.10" font-size="8.3" text-anchor="end" transform="matrix(1,0,0,1.1,0,-59.81)" >75</text>
<line x1="225.40" y1="614.00" x2="228.00" y2="614.00" stroke="#000" stroke-width="0.7" />
<text x="225.00" y="616.90" font-size="8.3" text-anchor="end" transform="matrix(1,0,0,1.1,0,-61.69)" >50</text>
<line x1="225.40" y1="632.70" x2="228.00" y2="632.70" stroke="#000" stroke-width="0.7" />
<text x="225.00" y="635.60" font-size="8.3" text-anchor="end" transform="matrix(1,0,0,1.1,0,-63.56)" >25</text>
<line x1="225.40" y1="651.30" x2="228.00" y2="651.30" stroke="#000" stroke-width="0.7" />
<text x="225.00" y="654.20" font-size="8.3" text-anchor="end" transform="matrix(1,0,0,1.1,0,-65.42)" >0</text>
<line x1="228.00" y1="651.30" x2="278.50" y2="651.30" stroke="#000" stroke-width="0.7" />
<text x="237.70" y="658.80" font-size="8.3" text-anchor="middle" transform="matrix(1,0,0,1.1,0,-65.88)" >IgG</text>
<text x="254.00" y="658.80" font-size="8.3" text-anchor="middle" transform="matrix(1,0,0,1.1,0,-65.88)" >Spt</text>
<text x="269.85" y="658.80" font-size="8.3" text-anchor="middle" textLength="14.30" lengthAdjust="spacingAndGlyphs" transform="matrix(1,0,0,1.1,0,-65.88)" >PD1</text>
<text x="206.40" y="604.30" font-size="8.3" text-anchor="middle" transform="rotate(-90 206.40 604.30)" >Ki-67<tspan font-size="5" dy="-2.6">+</tspan><tspan dy="2.6"> (of CD8</tspan><tspan font-size="5" dy="-2.6">+</tspan><tspan dy="2.6">NRP-v7</tspan><tspan font-size="5" dy="-2.6">+</tspan><tspan dy="2.6">) (%)</tspan></text>
<polygon points="236.70,576.00 236.38,577.61 235.60,579.22 234.82,580.83 234.50,582.44 234.09,584.05 232.97,585.66 231.50,587.27 230.12,588.88 229.25,590.49 229.12,592.10 229.37,593.71 229.84,595.32 230.42,596.93 230.97,598.54 231.36,600.15 231.50,601.76 231.67,603.37 232.16,604.98 232.87,606.59 233.67,608.20 234.41,609.81 234.95,611.42 235.19,613.03 235.15,614.64 234.98,616.25 234.72,617.86 234.43,619.47 234.18,621.08 234.03,622.69 234.03,624.30 234.39,625.91 235.00,627.52 235.61,629.13 235.97,630.74 236.02,632.35 236.13,633.96 236.31,635.57 236.50,637.18 236.65,638.79 236.70,640.40 237.30,640.40 237.35,638.79 237.50,637.18 237.69,635.57 237.87,633.96 237.98,632.35 238.03,630.74 238.39,629.13 239.00,627.52 239.61,625.91 239.97,624.30 239.97,622.69 239.82,621.08 239.57,619.47 239.28,617.86 239.02,616.25 238.85,614.64 238.81,613.03 239.05,611.42 239.59,609.81 240.33,608.20 241.13,606.59 241.84,604.98 242.33,603.37 242.50,601.76 242.64,600.15 243.03,598.54 243.58,596.93 244.16,595.32 244.63,593.71 244.88,592.10 244.75,590.49 243.88,588.88 242.50,587.27 241.03,585.66 239.91,584.05 239.50,582.44 239.18,580.83 238.40,579.22 237.62,577.61 237.30,576.00" fill="#6a6a6a" stroke="#000" stroke-width="0.8" stroke-linejoin="round"/>
<line x1="234.50" y1="582.44" x2="239.50" y2="582.44" stroke="#000" stroke-width="0.4" />
<line x1="229.17" y1="591.46" x2="244.83" y2="591.46" stroke="#000" stroke-width="0.4" />
<line x1="231.50" y1="601.76" x2="242.50" y2="601.76" stroke="#000" stroke-width="0.4" />
<line x1="234.03" y1="623.66" x2="239.97" y2="623.66" stroke="#000" stroke-width="0.4" />
<path d="M235.6 608.1h0M236.1 616.2h0M240.3 606.6h0M236.1 584.2h0M235.3 618.4h0M240.4 588.1h0M236.8 636.0h0M243.1 590.2h0M238.1 598.3h0M237.4 614.4h0M237.8 632.3h0M238.4 619.4h0M237.7 625.2h0M234.6 604.2h0M242.4 594.6h0M235.2 619.8h0M236.6 632.0h0M236.8 619.4h0M233.4 594.8h0M236.7 612.8h0M237.6 615.4h0M238.4 626.7h0M238.5 615.5h0M239.3 608.0h0M238.3 626.5h0M237.6 586.5h0" stroke="#000" stroke-width="2.40" stroke-linecap="round"/>
<polygon points="253.40,577.00 253.36,578.86 253.24,580.72 253.05,582.57 252.81,584.43 252.55,586.29 252.29,588.14 252.05,590.00 251.86,591.86 251.74,593.72 251.70,595.58 251.64,597.43 251.47,599.29 251.19,601.15 250.82,603.00 250.40,604.86 249.95,606.72 249.50,608.58 249.07,610.43 248.71,612.29 248.43,614.15 248.26,616.01 248.20,617.87 248.12,619.72 247.90,621.58 247.59,623.44 247.24,625.29 246.94,627.15 246.75,629.01 246.70,630.87 246.83,632.72 247.13,634.58 247.53,636.44 247.96,638.30 248.34,640.15 248.61,642.01 248.70,643.87 249.36,645.73 250.95,647.58 252.54,649.44 253.20,651.30 254.20,651.30 254.86,649.44 256.45,647.58 258.04,645.73 258.70,643.87 258.79,642.01 259.06,640.15 259.44,638.30 259.87,636.44 260.27,634.58 260.57,632.72 260.70,630.87 260.65,629.01 260.46,627.15 260.16,625.29 259.81,623.44 259.50,621.58 259.28,619.72 259.20,617.87 259.14,616.01 258.97,614.15 258.69,612.29 258.32,610.43 257.90,608.58 257.45,606.72 257.00,604.86 256.57,603.00 256.21,601.15 255.93,599.29 255.76,597.43 255.70,595.58 255.66,593.72 255.54,591.86 255.35,590.00 255.11,588.14 254.85,586.29 254.59,584.43 254.35,582.57 254.16,580.72 254.04,578.86 254.00,577.00" fill="#f3c38c" stroke="#e5801a" stroke-width="0.8" stroke-linejoin="round"/>
<line x1="249.95" y1="606.72" x2="257.45" y2="606.72" stroke="#e5801a" stroke-width="0.4" />
<line x1="247.65" y1="623.07" x2="259.75" y2="623.07" stroke="#e5801a" stroke-width="0.4" />
<line x1="248.34" y1="640.15" x2="259.06" y2="640.15" stroke="#e5801a" stroke-width="0.4" />
<path d="M253.7 597.0h0M254.7 591.5h0M253.9 596.2h0M252.8 642.7h0M255.4 645.4h0M254.9 617.4h0M252.4 619.9h0M253.2 647.4h0M255.9 646.5h0M253.4 582.6h0M256.4 612.7h0M254.1 592.6h0M255.3 605.3h0M256.0 642.7h0M254.6 593.6h0M256.3 610.0h0M257.1 612.2h0M255.7 646.7h0M257.1 636.0h0M250.6 620.3h0M253.5 646.7h0M253.6 581.8h0M251.6 608.5h0M250.7 644.9h0M254.1 641.2h0M253.2 592.7h0M250.6 610.8h0M255.5 631.7h0M255.8 646.4h0M259.4 633.3h0M254.9 643.0h0M253.9 616.8h0M258.4 635.1h0M257.3 636.3h0" stroke="#e5801a" stroke-width="2.40" stroke-linecap="round"/>
<polygon points="267.90,576.00 267.30,577.06 265.75,578.12 263.89,579.17 262.49,580.23 262.10,581.29 262.22,582.35 262.48,583.40 262.84,584.46 263.23,585.52 263.58,586.58 263.82,587.63 263.90,588.69 264.01,589.75 264.33,590.80 264.81,591.86 265.40,592.92 266.02,593.98 266.60,595.03 267.05,596.09 267.33,597.15 267.40,598.21 267.26,599.26 266.93,600.32 266.46,601.38 265.89,602.44 265.29,603.50 264.74,604.55 264.29,605.61 264.00,606.67 263.90,607.72 264.03,608.78 264.40,609.84 264.97,610.90 265.70,611.95 266.50,613.01 267.30,614.07 268.03,615.13 268.60,616.18 268.97,617.24 269.10,618.30 269.70,618.30 269.83,617.24 270.20,616.18 270.77,615.13 271.50,614.07 272.30,613.01 273.10,611.95 273.83,610.90 274.40,609.84 274.77,608.78 274.90,607.72 274.80,606.67 274.51,605.61 274.06,604.55 273.51,603.50 272.91,602.44 272.34,601.38 271.87,600.32 271.54,599.26 271.40,598.21 271.47,597.15 271.75,596.09 272.20,595.03 272.78,593.98 273.40,592.92 273.99,591.86 274.47,590.80 274.79,589.75 274.90,588.69 274.98,587.63 275.22,586.58 275.57,585.52 275.96,584.46 276.32,583.40 276.58,582.35 276.70,581.29 276.31,580.23 274.91,579.17 273.05,578.12 271.50,577.06 270.90,576.00" fill="#b17cc6" stroke="#7a1198" stroke-width="0.8" stroke-linejoin="round"/>
<line x1="262.18" y1="581.08" x2="276.62" y2="581.08" stroke="#7a1198" stroke-width="0.4" />
<line x1="263.90" y1="588.69" x2="274.90" y2="588.69" stroke="#7a1198" stroke-width="0.4" />
<path d="M268.5 615.4h0M269.3 605.7h0M269.1 614.0h0M267.8 613.1h0M269.3 616.0h0M267.7 585.1h0M266.7 602.1h0M266.0 592.9h0M265.4 580.8h0M267.2 586.9h0M268.6 607.7h0M272.5 610.8h0M272.1 612.2h0M270.1 600.0h0M269.7 611.7h0M269.6 583.5h0" stroke="#7a1198" stroke-width="2.40" stroke-linecap="round"/>
<polyline points="237.00,574.00 237.00,567.30 253.70,567.30 253.70,572.00" fill="none" stroke="#555" stroke-width="0.6" />
<text x="245.60" y="569.20" font-size="8.8" text-anchor="middle" transform="matrix(1,0,0,1.1,0,-56.92)" >***</text>
<polyline points="253.00,567.30 253.00,552.50 268.80,552.50 268.80,566.00" fill="none" stroke="#555" stroke-width="0.6" />
<text x="260.50" y="554.40" font-size="8.8" text-anchor="middle" transform="matrix(1,0,0,1.1,0,-55.44)" >***</text>
<text x="284.60" y="552.90" font-size="10" transform="matrix(1,0,0,1.1,0,-55.29)" >P</text>
<line x1="312.20" y1="548.30" x2="312.20" y2="639.40" stroke="#8a8a8a" stroke-width="1.1" />
<line x1="309.50" y1="556.60" x2="312.20" y2="556.60" stroke="#555" stroke-width="0.7" />
<text x="308.60" y="559.50" font-size="8.3" text-anchor="end" transform="matrix(1,0,0,1.1,0,-55.95)" >100</text>
<line x1="309.50" y1="576.80" x2="312.20" y2="576.80" stroke="#555" stroke-width="0.7" />
<text x="308.60" y="579.70" font-size="8.3" text-anchor="end" transform="matrix(1,0,0,1.1,0,-57.97)" >75</text>
<line x1="309.50" y1="597.50" x2="312.20" y2="597.50" stroke="#555" stroke-width="0.7" />
<text x="308.60" y="600.40" font-size="8.3" text-anchor="end" transform="matrix(1,0,0,1.1,0,-60.04)" >50</text>
<line x1="309.50" y1="618.30" x2="312.20" y2="618.30" stroke="#555" stroke-width="0.7" />
<text x="308.60" y="621.20" font-size="8.3" text-anchor="end" transform="matrix(1,0,0,1.1,0,-62.12)" >25</text>
<line x1="309.50" y1="639.40" x2="312.20" y2="639.40" stroke="#555" stroke-width="0.7" />
<text x="308.60" y="642.30" font-size="8.3" text-anchor="end" transform="matrix(1,0,0,1.1,0,-64.23)" >0</text>
<line x1="312.20" y1="639.40" x2="401.50" y2="639.40" stroke="#8a8a8a" stroke-width="1.1" />
<line x1="312.20" y1="639.40" x2="312.20" y2="642.00" stroke="#555" stroke-width="0.7" />
<text x="312.20" y="651.40" font-size="8.3" text-anchor="middle" transform="matrix(1,0,0,1.1,0,-65.14)" >0</text>
<line x1="334.60" y1="639.40" x2="334.60" y2="642.00" stroke="#555" stroke-width="0.7" />
<text x="334.60" y="651.40" font-size="8.3" text-anchor="middle" transform="matrix(1,0,0,1.1,0,-65.14)" >5</text>
<line x1="357.00" y1="639.40" x2="357.00" y2="642.00" stroke="#555" stroke-width="0.7" />
<text x="357.00" y="651.40" font-size="8.3" text-anchor="middle" transform="matrix(1,0,0,1.1,0,-65.14)" >10</text>
<line x1="379.20" y1="639.40" x2="379.20" y2="642.00" stroke="#555" stroke-width="0.7" />
<text x="379.20" y="651.40" font-size="8.3" text-anchor="middle" transform="matrix(1,0,0,1.1,0,-65.14)" >15</text>
<line x1="401.50" y1="639.40" x2="401.50" y2="642.00" stroke="#555" stroke-width="0.7" />
<text x="401.50" y="651.40" font-size="8.3" text-anchor="middle" transform="matrix(1,0,0,1.1,0,-65.14)" >20</text>
<text x="357.60" y="660.00" font-size="7.9" text-anchor="middle" transform="matrix(1,0,0,1.1,0,-66.00)" >Age (weeks)</text>
<text x="293.40" y="599.00" font-size="7.6" text-anchor="middle" transform="rotate(-90 293.40 599.00)" >Percent non-diabetic</text>
<polyline points="312.20,556.60 372.70,556.60 372.70,639.40" fill="none" stroke="#e8402a" stroke-width="1.1" />
<polyline points="371.81,556.60 371.81,608.35" fill="none" stroke="#8e2fb0" stroke-width="1.1" />
<polyline points="312.20,556.60 362.21,556.60 362.21,564.13 371.58,564.13 371.58,579.20 373.82,579.20 373.82,586.74 376.94,586.74 376.94,594.27 385.87,594.27 385.87,601.73 389.89,601.73 389.89,609.26 392.57,609.26" fill="none" stroke="#111" stroke-width="1.0" />
<line x1="312.20" y1="556.60" x2="392.57" y2="556.60" stroke="#5aaa32" stroke-width="1.1" />
<line x1="365.78" y1="555.30" x2="365.78" y2="556.60" stroke="#5aaa32" stroke-width="0.7" />
<line x1="368.91" y1="555.30" x2="368.91" y2="556.60" stroke="#5aaa32" stroke-width="0.7" />
<line x1="372.48" y1="555.30" x2="372.48" y2="556.60" stroke="#5aaa32" stroke-width="0.7" />
<line x1="392.57" y1="555.30" x2="392.57" y2="556.60" stroke="#5aaa32" stroke-width="0.7" />
<polygon points="366.20,546.50 373.20,546.50 369.70,553.20" fill="#8e2fb0" stroke="none" stroke-width="0.6" />
<line x1="369.70" y1="541.80" x2="369.70" y2="548.00" stroke="#8e2fb0" stroke-width="1.3" />
<line x1="400.50" y1="576.00" x2="407.50" y2="576.00" stroke="#5aaa32" stroke-width="0.9" />
<line x1="404.00" y1="574.80" x2="404.00" y2="576.00" stroke="#5aaa32" stroke-width="0.7" />
<text x="410.40" y="578.60" font-size="7.6" transform="matrix(1,0,0,1.1,0,-57.86)" >Anti-IL-7R (n=13)</text>
<line x1="400.50" y1="589.30" x2="407.50" y2="589.30" stroke="#111" stroke-width="0.9" />
<line x1="404.00" y1="588.10" x2="404.00" y2="589.30" stroke="#111" stroke-width="0.7" />
<text x="410.40" y="591.90" font-size="7.6" transform="matrix(1,0,0,1.1,0,-59.19)" >IgG2a (n=15)</text>
<line x1="400.50" y1="602.60" x2="407.50" y2="602.60" stroke="#e8402a" stroke-width="0.9" />
<line x1="404.00" y1="601.40" x2="404.00" y2="602.60" stroke="#e8402a" stroke-width="0.7" />
<text x="410.40" y="605.20" font-size="7.6" transform="matrix(1,0,0,1.1,0,-60.52)" >Anti-IL-7R + Anti-PD-1 (n=7)</text>
<line x1="400.50" y1="616.00" x2="407.50" y2="616.00" stroke="#8e2fb0" stroke-width="0.9" />
<line x1="404.00" y1="614.80" x2="404.00" y2="616.00" stroke="#8e2fb0" stroke-width="0.7" />
<text x="410.40" y="618.60" font-size="7.6" transform="matrix(1,0,0,1.1,0,-61.86)" >IgG2a + Anti-PD-1 (n=8)</text>
<polyline points="470.60,576.00 508.50,576.00 508.50,589.50 456.80,589.50" fill="none" stroke="#555" stroke-width="0.6" />
<text x="514.20" y="587.80" font-size="8.8" text-anchor="middle" transform="matrix(1,0,0,1.1,0,-58.78)" >**</text>
<polyline points="506.50,602.70 508.50,602.70 508.50,615.40 493.50,615.40" fill="none" stroke="#555" stroke-width="0.6" />
<text x="513.80" y="612.20" font-size="8.3" text-anchor="middle" transform="matrix(1,0,0,1.1,0,-61.22)" >ns</text>
<text x="0.00" y="7.60" font-size="10" transform="matrix(1,0,0,1.1,0,-0.76)" >A</text>
<text x="13.00" y="7.70" font-size="8.3" transform="matrix(1,0,0,1.1,0,-0.77)" >CD8<tspan font-size="5" dy="-3">+</tspan><tspan dy="3"> T cells</tspan></text>
<defs><filter id="rough" x="-20%" y="-20%" width="140%" height="140%"><feTurbulence type="fractalNoise" baseFrequency="0.9" numOctaves="2" seed="4"/><feDisplacementMap in="SourceGraphic" scale="3.5" xChannelSelector="R" yChannelSelector="G"/></filter></defs>
<g filter="url(#rough)">
<path d="M104,80 L110,84 L116,89 L121,95" fill="none" stroke="#d3dec2" stroke-width="2.6" stroke-linecap="round" stroke-linejoin="round"/>
<path d="M121,95 L125,86" fill="none" stroke="#d3dec2" stroke-width="2.6" stroke-linecap="round" stroke-linejoin="round"/>
<path d="M121,95 L116,100" fill="none" stroke="#d3dec2" stroke-width="2.6" stroke-linecap="round" stroke-linejoin="round"/>
<path d="M121,95 L131,103" fill="none" stroke="#d3dec2" stroke-width="2.6" stroke-linecap="round" stroke-linejoin="round"/>
<path d="M55.0,32.0 L62.0,34.0 L70.0,37.0 L78.0,40.0 L88.0,41.0 L96.0,43.0 L102.0,46.0 L108.0,50.0 L114.0,51.0 L122.0,46.0 L130.0,45.0 L140.0,46.0 L148.0,50.0 L155.0,55.0 L158.0,59.0 L152.0,63.0 L145.0,66.0 L136.0,68.0 L130.0,69.0 L125.0,68.0 L118.0,72.0 L112.0,76.0 L106.0,82.0 L105.0,88.0 L100.0,92.0 L95.0,92.0 L88.0,94.0 L78.0,94.0 L68.0,92.0 L63.0,87.0 L60.0,80.0 L53.0,71.0 L50.0,66.0 L47.5,58.0 L48.5,50.0 L51.0,40.0Z" fill="#a89468"/>
<ellipse cx="124" cy="36" rx="1.8" ry="2.4" fill="#d3dec2"/>
<path d="M123,38 L122,46" stroke="#d3dec2" stroke-width="1.4"/>
<path d="M63.0,80.0 L70.0,84.0 L80.0,86.0 L90.0,88.0 L96.0,92.0 L90.0,94.0 L78.0,94.0 L68.0,92.0 L63.0,87.0Z" fill="#d3dec2" stroke="#d3dec2" stroke-width="1.0" stroke-linejoin="round"/>
<path d="M121.0,50.0 L130.0,45.0 L140.0,46.0 L148.0,50.0 L155.0,55.0 L158.0,59.0 L152.0,63.0 L145.0,66.0 L136.0,68.0 L130.0,69.0 L125.0,67.0 L121.0,60.0Z" fill="#5ec79b" stroke="#5ec79b" stroke-width="1.0" stroke-linejoin="round"/>
<path d="M101.0,55.0 L104.0,50.0 L110.0,51.0 L115.0,55.0 L116.0,62.0 L114.0,70.0 L111.0,76.0 L104.0,78.0 L97.0,76.0 L97.0,68.0 L95.0,62.0 L96.0,57.0Z" fill="#7f9a62" stroke="#7f9a62" stroke-width="1.0" stroke-linejoin="round"/>
<path d="M84.0,79.0 L92.0,76.0 L100.0,75.0 L106.0,78.0 L105.0,86.0 L100.0,91.0 L92.0,91.0 L86.0,87.0Z" fill="#50698e" stroke="#50698e" stroke-width="1.0" stroke-linejoin="round"/>
<path d="M60.0,60.0 L66.0,59.0 L72.0,57.0 L77.0,60.0 L86.0,60.0 L92.0,57.0 L95.0,62.0 L97.0,72.0 L97.0,78.0 L92.0,83.0 L84.0,86.0 L74.0,86.0 L65.0,83.0 L61.0,74.0 L59.0,66.0Z" fill="#c99a1c" stroke="#c99a1c" stroke-width="1.0" stroke-linejoin="round"/>
<path d="M78.0,40.0 L88.0,41.0 L96.0,43.0 L102.0,46.0 L104.0,50.0 L101.0,55.0 L96.0,57.0 L93.0,51.0 L88.0,48.0 L82.0,46.0Z" fill="#c63d2f" stroke="#c63d2f" stroke-width="1.0" stroke-linejoin="round"/>
<path d="M55.0,32.0 L62.0,34.0 L70.0,37.0 L78.0,40.0 L86.0,42.0 L88.0,46.0 L80.0,46.0 L72.0,46.0 L64.0,46.0 L60.0,50.0 L59.0,58.0 L62.0,64.0 L66.0,70.0 L64.0,76.0 L58.0,76.0 L53.0,71.0 L50.0,66.0 L47.5,58.0 L48.5,50.0 L51.0,40.0Z" fill="#1d0d9c" stroke="#1d0d9c" stroke-width="1.0" stroke-linejoin="round"/>
<path d="M60.0,47.0 L68.0,46.0 L76.0,47.0 L81.0,50.0 L78.0,54.0 L70.0,55.5 L62.0,56.0 L59.0,52.0Z" fill="#5f3b94" stroke="#5f3b94" stroke-width="1.0" stroke-linejoin="round"/>
<path d="M42.0,19.0 L46.0,16.0 L50.0,21.0 L52.0,15.0 L55.0,17.0 L54.0,25.0 L58.0,31.0 L60.0,35.0 L57.0,36.0 L50.0,28.0 L44.0,23.0Z" fill="#a3276b" stroke="#a3276b" stroke-width="1.0" stroke-linejoin="round"/>
<path d="M75.0,14.0 L80.0,13.0 L81.0,21.0 L78.0,28.0 L74.0,33.0 L69.0,37.0 L67.0,35.0 L70.0,28.0 L74.0,20.0Z" fill="#72ade0" stroke="#72ade0" stroke-width="1.0" stroke-linejoin="round"/>
<path d="M116.0,43.0 L121.0,42.0 L124.0,48.0 L126.0,51.0 L122.0,52.0 L118.0,48.0Z" fill="#7056a8" stroke="#7056a8" stroke-width="1.0" stroke-linejoin="round"/>
<path d="M114.0,51.0 L122.0,47.0 L125.0,52.0 L123.0,62.0 L126.0,68.0 L119.0,66.0 L116.0,58.0Z" fill="#9fd8bd"/>
<path d="M73.0,50.0 L80.0,48.0 L88.0,48.0 L93.0,51.0 L92.0,57.0 L86.0,60.0 L77.0,60.0 L72.0,56.0Z" fill="#fff"/>
<path d="M83.6 90.4h0M64.0 86.5h0M72.2 92.8h0M72.9 88.4h0M75.1 88.1h0M74.4 85.0h0M89.3 92.0h0M74.2 92.9h0M82.6 91.6h0M87.1 93.3h0" stroke="#ffffff" stroke-width="1.00" stroke-linecap="round" opacity="0.8"/>
<path d="M89.2 93.2h0M80.9 88.0h0M80.8 89.5h0M73.4 86.7h0M63.3 80.7h0M80.3 90.9h0M66.0 84.8h0M65.6 82.1h0M78.0 85.9h0M83.8 91.0h0" stroke="#7f9a62" stroke-width="1.00" stroke-linecap="round" opacity="0.8"/>
<path d="M123.2 55.1h0M146.5 52.6h0M127.6 67.5h0M123.3 64.1h0M141.7 61.0h0M133.1 51.6h0M131.1 53.3h0M128.4 53.7h0M155.6 57.4h0M144.1 49.3h0" stroke="#ffffff" stroke-width="1.00" stroke-linecap="round" opacity="0.8"/>
<path d="M126.2 67.1h0M131.1 56.3h0M139.2 57.4h0M134.2 59.1h0M127.6 65.4h0M131.7 57.0h0M153.1 55.8h0M123.9 61.1h0M141.5 65.8h0M141.3 55.0h0" stroke="#5ec79b" stroke-width="1.00" stroke-linecap="round" opacity="0.8"/>
<path d="M107.4 56.7h0M112.5 60.5h0M103.8 72.8h0M106.8 76.8h0M98.0 67.6h0M103.0 76.9h0M105.3 58.0h0M101.2 71.9h0M101.2 67.0h0M97.5 71.3h0" stroke="#ffffff" stroke-width="1.00" stroke-linecap="round" opacity="0.8"/>
<path d="M103.5 57.8h0M97.0 65.3h0M108.5 60.3h0M102.4 75.0h0M113.7 60.5h0M114.2 66.7h0M105.0 53.4h0M106.2 57.7h0M105.0 68.1h0M101.3 64.9h0" stroke="#a3276b" stroke-width="1.00" stroke-linecap="round" opacity="0.8"/>
<path d="M84.6 80.6h0M86.4 86.0h0M99.2 90.3h0M99.0 86.5h0M96.8 85.4h0M95.8 81.8h0M104.7 80.3h0M97.5 88.2h0M96.2 85.6h0M92.8 85.0h0" stroke="#ffffff" stroke-width="1.00" stroke-linecap="round" opacity="0.8"/>
<path d="M99.0 88.0h0M88.2 81.9h0M98.3 88.7h0M103.8 82.4h0M94.4 80.0h0M95.9 75.8h0M93.4 76.1h0M93.6 77.9h0M100.4 79.5h0M99.1 82.8h0" stroke="#d3dec2" stroke-width="1.00" stroke-linecap="round" opacity="0.8"/>
<path d="M64.3 65.5h0M79.9 63.4h0M91.8 70.1h0M91.8 71.7h0M63.1 72.4h0M87.5 59.4h0M73.3 81.2h0M73.4 78.0h0M72.8 58.1h0M94.6 76.2h0" stroke="#ffffff" stroke-width="1.00" stroke-linecap="round" opacity="0.8"/>
<path d="M80.6 76.7h0M61.4 63.8h0M73.8 60.8h0M76.2 68.3h0M79.6 68.2h0M93.6 71.3h0M70.0 84.0h0M72.6 65.6h0M60.4 62.4h0M72.2 69.4h0" stroke="#c99a1c" stroke-width="1.00" stroke-linecap="round" opacity="0.8"/>
<path d="M100.6 48.0h0M97.6 45.4h0M82.8 46.1h0M90.0 47.7h0M95.8 51.0h0M87.3 47.2h0M92.4 42.4h0M90.8 44.2h0M89.1 41.8h0M89.3 44.4h0" stroke="#ffffff" stroke-width="1.00" stroke-linecap="round" opacity="0.8"/>
<path d="M99.3 52.8h0M79.5 40.4h0M82.6 43.5h0M99.8 49.6h0M94.7 43.2h0M98.0 48.9h0M84.9 46.8h0M96.3 53.5h0M98.9 49.6h0M91.7 42.1h0" stroke="#7f9a62" stroke-width="1.00" stroke-linecap="round" opacity="0.8"/>
<path d="M69.0 39.5h0M63.4 41.5h0M61.7 42.9h0M55.0 49.1h0M59.0 35.4h0M85.1 44.1h0M63.3 39.8h0M59.9 43.8h0M50.0 56.9h0M54.9 40.4h0" stroke="#ffffff" stroke-width="1.00" stroke-linecap="round" opacity="0.8"/>
<path d="M52.3 46.0h0M58.7 40.9h0M63.7 38.3h0M60.1 48.8h0M51.0 47.7h0M56.0 54.7h0M63.2 36.8h0M54.3 59.8h0M84.1 45.3h0M50.0 53.3h0" stroke="#7056a8" stroke-width="1.00" stroke-linecap="round" opacity="0.8"/>
<path d="M67.5 55.0h0M67.1 53.6h0M63.0 54.9h0M63.3 49.2h0M67.4 49.4h0M62.1 55.1h0M68.0 55.4h0M65.0 53.2h0M63.0 54.4h0M60.8 54.2h0" stroke="#ffffff" stroke-width="1.00" stroke-linecap="round" opacity="0.8"/>
<path d="M78.7 52.2h0M71.6 50.4h0M71.1 51.8h0M62.8 54.9h0M75.3 50.9h0M73.1 53.7h0M60.4 50.3h0M62.2 55.7h0M77.8 48.5h0M62.1 54.1h0" stroke="#c99a1c" stroke-width="1.00" stroke-linecap="round" opacity="0.8"/>
<path d="M53.1 27.3h0M48.1 21.4h0M47.7 24.6h0M58.1 33.7h0M57.7 35.3h0M52.0 24.2h0M53.6 16.2h0M48.7 22.2h0M56.2 29.7h0M54.5 27.8h0" stroke="#ffffff" stroke-width="1.00" stroke-linecap="round" opacity="0.8"/>
<path d="M45.9 23.9h0M44.5 22.6h0M53.8 22.0h0M52.0 21.0h0M45.8 19.9h0M52.7 23.2h0M49.4 24.6h0M44.6 17.6h0M58.5 32.6h0M54.1 28.6h0" stroke="#50698e" stroke-width="1.00" stroke-linecap="round" opacity="0.8"/>
<path d="M75.6 18.3h0M78.8 15.9h0M79.6 24.2h0M76.6 23.7h0M79.5 19.4h0M72.4 28.3h0M79.2 14.5h0M72.3 28.2h0M75.0 25.0h0M69.3 29.8h0" stroke="#ffffff" stroke-width="1.00" stroke-linecap="round" opacity="0.8"/>
<path d="M80.3 15.7h0M77.6 19.2h0M73.0 27.9h0M73.9 25.9h0M75.8 28.4h0M77.1 19.3h0M74.9 20.0h0M79.9 20.8h0M71.0 30.9h0M68.7 31.3h0" stroke="#7056a8" stroke-width="1.00" stroke-linecap="round" opacity="0.8"/>
<path d="M124.4 50.7h0M118.9 45.7h0M122.9 49.9h0M119.7 44.3h0M118.4 42.7h0M123.8 49.3h0M124.9 51.0h0M120.7 48.2h0M121.3 50.9h0M117.1 45.8h0" stroke="#ffffff" stroke-width="1.00" stroke-linecap="round" opacity="0.8"/>
<path d="M121.2 48.0h0M120.2 44.8h0M122.5 47.4h0M117.7 47.1h0M121.8 44.2h0M120.6 43.9h0M120.7 44.9h0M122.0 51.1h0M117.7 46.0h0M117.9 43.3h0" stroke="#7056a8" stroke-width="1.00" stroke-linecap="round" opacity="0.8"/>
<path d="M68.9 41.8h0M68.0 48.5h0M83.1 56.5h0M85.4 51.2h0M83.5 54.7h0M81.0 44.1h0M77.1 54.3h0M84.5 40.9h0M83.4 59.4h0M66.2 52.7h0" stroke="#1d0d9c" stroke-width="1.00" stroke-linecap="round" opacity="0.7"/>
<path d="M80.4 48.7h0M83.2 52.5h0M66.7 50.9h0M80.3 59.0h0M81.3 54.0h0M74.1 56.6h0M85.4 54.5h0M85.0 49.8h0M71.6 59.8h0M80.8 47.4h0" stroke="#c63d2f" stroke-width="1.00" stroke-linecap="round" opacity="0.7"/>
<path d="M85.0 45.3h0M76.9 57.7h0M70.6 59.4h0M72.7 47.9h0M76.5 59.6h0M62.4 49.6h0M64.8 50.3h0M82.2 49.7h0M64.2 53.1h0M70.2 41.6h0" stroke="#c99a1c" stroke-width="1.00" stroke-linecap="round" opacity="0.7"/>
<path d="M70.5 43.5h0M71.1 55.4h0M63.1 52.6h0M82.3 58.5h0M85.1 55.3h0M84.6 53.6h0M64.2 49.7h0M84.9 44.3h0M69.9 48.5h0M78.0 51.4h0" stroke="#72ade0" stroke-width="1.00" stroke-linecap="round" opacity="0.7"/>
</g>
<text x="85.50" y="19.90" font-size="8.3" fill="#6aa6d8" textLength="55.40" lengthAdjust="spacingAndGlyphs" transform="matrix(1,0,0,1.1,0,-1.99)" >CD8 SLEC-like</text>
<text x="2.20" y="30.80" font-size="8.3" fill="#a3276b" textLength="43.60" lengthAdjust="spacingAndGlyphs" transform="matrix(1,0,0,1.1,0,-3.08)" >Proliferating</text>
<text x="79.00" y="32.20" font-size="8.3" fill="#c63d2f" transform="matrix(1,0,0,1.1,0,-3.22)" >Prog-exh/</text>
<text x="79.50" y="40.00" font-size="8.3" fill="#c63d2f" textLength="42.30" lengthAdjust="spacingAndGlyphs" transform="matrix(1,0,0,1.1,0,-4.00)" >effector-like</text>
<text x="128.80" y="38.00" font-size="8.3" fill="#6a5aa8" textLength="32.00" lengthAdjust="spacingAndGlyphs" transform="matrix(1,0,0,1.1,0,-3.80)" >Recently</text>
<text x="128.80" y="45.50" font-size="8.3" fill="#6a5aa8" textLength="32.80" lengthAdjust="spacingAndGlyphs" transform="matrix(1,0,0,1.1,0,-4.55)" >activated</text>
<text x="12.90" y="43.30" font-size="8.3" fill="#5f3b94" textLength="37.80" lengthAdjust="spacingAndGlyphs" transform="matrix(1,0,0,1.1,0,-4.33)" >Interferon-</text>
<text x="12.90" y="50.90" font-size="8.3" fill="#5f3b94" textLength="28.10" lengthAdjust="spacingAndGlyphs" transform="matrix(1,0,0,1.1,0,-5.09)" >sensing</text>
<text x="8.70" y="68.20" font-size="8.3" fill="#1d0d9c" textLength="36.30" lengthAdjust="spacingAndGlyphs" transform="matrix(1,0,0,1.1,0,-6.82)" >Term-exh/</text>
<text x="8.10" y="76.80" font-size="8.3" fill="#1d0d9c" textLength="42.60" lengthAdjust="spacingAndGlyphs" transform="matrix(1,0,0,1.1,0,-7.68)" >effector-like</text>
<text x="6.90" y="89.40" font-size="8.3" fill="#c99a1c" textLength="46.10" lengthAdjust="spacingAndGlyphs" transform="matrix(1,0,0,1.1,0,-8.94)" >CD8 effector</text>
<text x="31.30" y="102.20" font-size="8.3" fill="#50698e" textLength="78.20" lengthAdjust="spacingAndGlyphs" transform="matrix(1,0,0,1.1,0,-10.22)" >CD8 effector-memory</text>
<text x="50.20" y="113.50" font-size="8.3" fill="#c6d4b2" textLength="75.50" lengthAdjust="spacingAndGlyphs" transform="matrix(1,0,0,1.1,0,-11.35)" >Acinar-contaminated</text>
<text x="153.20" y="71.30" font-size="8.3" text-anchor="middle" fill="#5ec79b" transform="matrix(1,0,0,1.1,0,-7.13)" >CD8</text>
<text x="149.20" y="79.60" font-size="8.3" text-anchor="middle" fill="#5ec79b" transform="matrix(1,0,0,1.1,0,-7.96)" >central</text>
<text x="149.90" y="87.30" font-size="8.3" text-anchor="middle" fill="#5ec79b" transform="matrix(1,0,0,1.1,0,-8.73)" >memory</text>
<text x="133.00" y="96.00" font-size="8.3" fill="#7f9a62" transform="matrix(1,0,0,1.1,0,-9.60)" >CD8</text>
<text x="133.00" y="104.20" font-size="8.3" fill="#7f9a62" transform="matrix(1,0,0,1.1,0,-10.42)" >memory</text>
<text x="176.00" y="7.70" font-size="10" transform="matrix(1,0,0,1.1,0,-0.77)" >B</text>
<text x="253.80" y="9.00" font-size="8.3" text-anchor="middle" transform="matrix(1,0,0,1.1,0,-0.90)" >IgG</text>
<text x="356.60" y="9.30" font-size="8.3" text-anchor="middle" transform="matrix(1,0,0,1.1,0,-0.93)" >Spt</text>
<text x="468.50" y="9.30" font-size="8.3" text-anchor="middle" transform="matrix(1,0,0,1.1,0,-0.93)" >PD1</text>
<text x="191.30" y="61.30" font-size="7.5" text-anchor="middle" transform="matrix(1,0,0,1.1,0,-6.13)" >Clonotype</text>
<text x="191.30" y="69.20" font-size="7.5" text-anchor="middle" transform="matrix(1,0,0,1.1,0,-6.92)" >size</text>
<text x="191.30" y="77.10" font-size="7.5" text-anchor="middle" transform="matrix(1,0,0,1.1,0,-7.71)" >(pancreas)</text>
<circle cx="180.80" cy="85.30" r="0.90" fill="#333" />
<text x="184.50" y="87.90" font-size="7.5" transform="matrix(1,0,0,1.1,0,-8.79)" >50</text>
<circle cx="180.80" cy="93.00" r="1.10" fill="#333" />
<text x="184.50" y="95.60" font-size="7.5" transform="matrix(1,0,0,1.1,0,-9.56)" >100</text>
<circle cx="180.80" cy="100.70" r="1.35" fill="#333" />
<text x="184.50" y="103.30" font-size="7.5" transform="matrix(1,0,0,1.1,0,-10.33)" >200</text>
<g transform="matrix(0.82,0,0,0.995,170.4,6.6)" filter="url(#rough)">
<path d="M104,80 L110,84 L116,89 L121,95" fill="none" stroke="#e4e4e4" stroke-width="1.8" stroke-linecap="round" stroke-linejoin="round"/>
<path d="M121,95 L125,86" fill="none" stroke="#e4e4e4" stroke-width="1.8" stroke-linecap="round" stroke-linejoin="round"/>
<path d="M121,95 L116,100" fill="none" stroke="#e4e4e4" stroke-width="1.8" stroke-linecap="round" stroke-linejoin="round"/>
<path d="M121,95 L131,103" fill="none" stroke="#e4e4e4" stroke-width="1.8" stroke-linecap="round" stroke-linejoin="round"/>
<path d="M55.0,32.0 L62.0,34.0 L70.0,37.0 L78.0,40.0 L88.0,41.0 L96.0,43.0 L102.0,46.0 L108.0,50.0 L114.0,51.0 L122.0,46.0 L130.0,45.0 L140.0,46.0 L148.0,50.0 L155.0,55.0 L158.0,59.0 L152.0,63.0 L145.0,66.0 L136.0,68.0 L130.0,69.0 L125.0,68.0 L118.0,72.0 L112.0,76.0 L106.0,82.0 L105.0,88.0 L100.0,92.0 L95.0,92.0 L88.0,94.0 L78.0,94.0 L68.0,92.0 L63.0,87.0 L60.0,80.0 L53.0,71.0 L50.0,66.0 L47.5,58.0 L48.5,50.0 L51.0,40.0Z" fill="#e4e4e4"/>
<ellipse cx="124" cy="36" rx="1.8" ry="2.4" fill="#e4e4e4"/>
<path d="M123,38 L122,46" stroke="#e4e4e4" stroke-width="1.4"/>
<path d="M63.0,80.0 L70.0,84.0 L80.0,86.0 L90.0,88.0 L96.0,92.0 L90.0,94.0 L78.0,94.0 L68.0,92.0 L63.0,87.0Z" fill="#e4e4e4" stroke="#e4e4e4" stroke-width="1.0" stroke-linejoin="round"/>
<path d="M121.0,50.0 L130.0,45.0 L140.0,46.0 L148.0,50.0 L155.0,55.0 L158.0,59.0 L152.0,63.0 L145.0,66.0 L136.0,68.0 L130.0,69.0 L125.0,67.0 L121.0,60.0Z" fill="#e4e4e4" stroke="#e4e4e4" stroke-width="1.0" stroke-linejoin="round"/>
<path d="M101.0,55.0 L104.0,50.0 L110.0,51.0 L115.0,55.0 L116.0,62.0 L114.0,70.0 L111.0,76.0 L104.0,78.0 L97.0,76.0 L97.0,68.0 L95.0,62.0 L96.0,57.0Z" fill="#e4e4e4" stroke="#e4e4e4" stroke-width="1.0" stroke-linejoin="round"/>
<path d="M84.0,79.0 L92.0,76.0 L100.0,75.0 L106.0,78.0 L105.0,86.0 L100.0,91.0 L92.0,91.0 L86.0,87.0Z" fill="#e4e4e4" stroke="#e4e4e4" stroke-width="1.0" stroke-linejoin="round"/>
<path d="M60.0,60.0 L66.0,59.0 L72.0,57.0 L77.0,60.0 L86.0,60.0 L92.0,57.0 L95.0,62.0 L97.0,72.0 L97.0,78.0 L92.0,83.0 L84.0,86.0 L74.0,86.0 L65.0,83.0 L61.0,74.0 L59.0,66.0Z" fill="#e4e4e4" stroke="#e4e4e4" stroke-width="1.0" stroke-linejoin="round"/>
<path d="M78.0,40.0 L88.0,41.0 L96.0,43.0 L102.0,46.0 L104.0,50.0 L101.0,55.0 L96.0,57.0 L93.0,51.0 L88.0,48.0 L82.0,46.0Z" fill="#e4e4e4" stroke="#e4e4e4" stroke-width="1.0" stroke-linejoin="round"/>
<path d="M55.0,32.0 L62.0,34.0 L70.0,37.0 L78.0,40.0 L86.0,42.0 L88.0,46.0 L80.0,46.0 L72.0,46.0 L64.0,46.0 L60.0,50.0 L59.0,58.0 L62.0,64.0 L66.0,70.0 L64.0,76.0 L58.0,76.0 L53.0,71.0 L50.0,66.0 L47.5,58.0 L48.5,50.0 L51.0,40.0Z" fill="#e4e4e4" stroke="#e4e4e4" stroke-width="1.0" stroke-linejoin="round"/>
<path d="M60.0,47.0 L68.0,46.0 L76.0,47.0 L81.0,50.0 L78.0,54.0 L70.0,55.5 L62.0,56.0 L59.0,52.0Z" fill="#e4e4e4" stroke="#e4e4e4" stroke-width="1.0" stroke-linejoin="round"/>
<path d="M42.0,19.0 L46.0,16.0 L50.0,21.0 L52.0,15.0 L55.0,17.0 L54.0,25.0 L58.0,31.0 L60.0,35.0 L57.0,36.0 L50.0,28.0 L44.0,23.0Z" fill="#e4e4e4" stroke="#e4e4e4" stroke-width="1.0" stroke-linejoin="round"/>
<path d="M75.0,14.0 L80.0,13.0 L81.0,21.0 L78.0,28.0 L74.0,33.0 L69.0,37.0 L67.0,35.0 L70.0,28.0 L74.0,20.0Z" fill="#e4e4e4" stroke="#e4e4e4" stroke-width="1.0" stroke-linejoin="round"/>
<path d="M116.0,43.0 L121.0,42.0 L124.0,48.0 L126.0,51.0 L122.0,52.0 L118.0,48.0Z" fill="#e4e4e4" stroke="#e4e4e4" stroke-width="1.0" stroke-linejoin="round"/>
<path d="M114.0,51.0 L122.0,47.0 L125.0,52.0 L123.0,62.0 L126.0,68.0 L119.0,66.0 L116.0,58.0Z" fill="#e4e4e4"/>
<path d="M73.0,50.0 L80.0,48.0 L88.0,48.0 L93.0,51.0 L92.0,57.0 L86.0,60.0 L77.0,60.0 L72.0,56.0Z" fill="#fff"/>
<path d="M63.0,80.0 L70.0,84.0 L80.0,86.0 L90.0,88.0 L96.0,92.0 L90.0,94.0 L78.0,94.0 L68.0,92.0 L63.0,87.0Z" fill="#d3dec2" opacity="0.24" stroke="none"/>
<path d="M67.8 86.4h0M73.2 90.8h0M81.3 92.6h0M69.4 91.8h0M83.1 90.0h0M89.9 92.5h0M79.9 86.9h0" stroke="#d3dec2" stroke-width="2.00" stroke-linecap="round" opacity="0.9"/>
<path d="M88.4 89.9h0M69.2 84.9h0M63.2 85.5h0M77.8 88.9h0M72.6 88.3h0M91.0 92.7h0" stroke="#d3dec2" stroke-width="2.60" stroke-linecap="round" opacity="0.9"/>
<path d="M65.6 86.4h0M83.7 93.5h0M88.5 87.9h0M81.3 93.6h0M79.0 90.7h0M86.6 90.7h0" stroke="#d3dec2" stroke-width="3.20" stroke-linecap="round" opacity="0.9"/>
<path d="M121.0,50.0 L130.0,45.0 L140.0,46.0 L148.0,50.0 L155.0,55.0 L158.0,59.0 L152.0,63.0 L145.0,66.0 L136.0,68.0 L130.0,69.0 L125.0,67.0 L121.0,60.0Z" fill="#5ec79b" opacity="0.12" stroke="none"/>
<path d="M142.6 48.5h0M129.1 52.4h0M125.2 49.6h0M147.4 59.8h0M127.0 64.2h0M135.9 58.0h0M142.5 51.0h0M135.8 51.3h0M129.6 45.2h0" stroke="#5ec79b" stroke-width="2.00" stroke-linecap="round" opacity="0.9"/>
<path d="M127.1 63.1h0M144.0 60.6h0M140.4 62.3h0M145.4 56.4h0M128.3 51.0h0M138.5 53.2h0M126.4 50.0h0M131.0 51.5h0M124.0 52.2h0" stroke="#5ec79b" stroke-width="2.60" stroke-linecap="round" opacity="0.9"/>
<path d="M122.9 59.3h0M148.7 58.6h0M128.7 54.4h0M141.2 61.8h0M124.5 48.4h0M137.8 49.7h0M136.3 67.3h0M132.3 67.5h0M144.8 60.0h0" stroke="#5ec79b" stroke-width="3.20" stroke-linecap="round" opacity="0.9"/>
<path d="M101.0,55.0 L104.0,50.0 L110.0,51.0 L115.0,55.0 L116.0,62.0 L114.0,70.0 L111.0,76.0 L104.0,78.0 L97.0,76.0 L97.0,68.0 L95.0,62.0 L96.0,57.0Z" fill="#7f9a62" opacity="0.09" stroke="none"/>
<path d="M102.4 68.9h0M98.0 74.9h0M104.4 56.0h0M108.1 67.7h0M101.3 74.2h0M109.9 74.1h0" stroke="#7f9a62" stroke-width="2.00" stroke-linecap="round" opacity="0.9"/>
<path d="M104.3 70.4h0M109.8 64.2h0M98.4 73.6h0M97.9 66.4h0M107.2 56.2h0" stroke="#7f9a62" stroke-width="2.60" stroke-linecap="round" opacity="0.9"/>
<path d="M102.4 72.4h0M98.7 60.7h0M106.5 57.6h0M107.3 53.1h0M103.3 62.8h0" stroke="#7f9a62" stroke-width="3.20" stroke-linecap="round" opacity="0.9"/>
<path d="M84.0,79.0 L92.0,76.0 L100.0,75.0 L106.0,78.0 L105.0,86.0 L100.0,91.0 L92.0,91.0 L86.0,87.0Z" fill="#50698e" opacity="0.29" stroke="none"/>
<path d="M85.9 85.0h0M100.2 81.1h0M90.2 86.8h0M86.8 85.1h0M102.8 84.4h0M86.6 79.8h0" stroke="#50698e" stroke-width="2.00" stroke-linecap="round" opacity="0.9"/>
<path d="M86.1 84.1h0M102.3 88.5h0M101.2 80.6h0M85.1 82.6h0M99.1 75.6h0" stroke="#50698e" stroke-width="2.60" stroke-linecap="round" opacity="0.9"/>
<path d="M100.7 84.3h0M101.2 89.6h0M95.1 83.8h0M95.2 78.3h0M96.7 78.7h0" stroke="#50698e" stroke-width="3.20" stroke-linecap="round" opacity="0.9"/>
<path d="M60.0,60.0 L66.0,59.0 L72.0,57.0 L77.0,60.0 L86.0,60.0 L92.0,57.0 L95.0,62.0 L97.0,72.0 L97.0,78.0 L92.0,83.0 L84.0,86.0 L74.0,86.0 L65.0,83.0 L61.0,74.0 L59.0,66.0Z" fill="#c99a1c" opacity="0.65" stroke="none"/>
<path d="M70.6 82.6h0M72.0 79.2h0M69.2 76.3h0M91.1 58.2h0M66.4 62.2h0M95.1 64.5h0M72.4 61.9h0M90.9 58.1h0M94.3 64.5h0M74.1 66.4h0M82.5 64.2h0M90.5 81.2h0M85.2 82.8h0M73.2 85.4h0M95.7 70.9h0M93.6 62.3h0M79.1 66.8h0M89.0 78.7h0M86.3 65.3h0M92.2 70.7h0M83.3 83.2h0M88.0 64.0h0M73.8 68.3h0" stroke="#c99a1c" stroke-width="2.00" stroke-linecap="round" opacity="0.9"/>
<path d="M85.5 84.1h0M82.5 84.1h0M75.9 78.9h0M79.6 85.3h0M69.1 63.3h0M60.0 64.7h0M82.4 67.7h0M78.0 85.6h0M81.1 73.7h0M93.9 78.4h0M67.0 59.2h0M71.7 77.0h0M85.4 71.8h0M79.3 78.8h0M69.6 79.3h0M62.4 71.2h0M78.2 68.5h0M84.9 70.0h0M66.5 70.0h0M66.8 75.6h0M86.8 84.8h0M77.0 62.0h0M86.0 76.6h0" stroke="#c99a1c" stroke-width="2.60" stroke-linecap="round" opacity="0.9"/>
<path d="M66.3 59.6h0M71.0 62.9h0M65.2 78.5h0M75.2 68.1h0M70.2 83.2h0M91.5 62.1h0M88.4 72.0h0M89.0 67.3h0M86.4 65.4h0M71.9 79.4h0M62.1 74.8h0M81.6 70.8h0M91.7 78.6h0M89.2 75.2h0M80.0 82.3h0M83.8 75.3h0M80.4 81.3h0M75.1 70.1h0M83.2 72.3h0M74.2 60.2h0M64.4 81.2h0M70.8 72.2h0M63.4 73.5h0" stroke="#c99a1c" stroke-width="3.20" stroke-linecap="round" opacity="0.9"/>
<path d="M78.0,40.0 L88.0,41.0 L96.0,43.0 L102.0,46.0 L104.0,50.0 L101.0,55.0 L96.0,57.0 L93.0,51.0 L88.0,48.0 L82.0,46.0Z" fill="#c63d2f" opacity="0.06" stroke="none"/>
<path d="M89.1 46.5h0M97.6 46.2h0M88.7 47.5h0M83.5 42.7h0" stroke="#c63d2f" stroke-width="2.00" stroke-linecap="round" opacity="0.9"/>
<path d="M95.4 44.5h0M94.5 52.9h0M97.8 46.1h0" stroke="#c63d2f" stroke-width="2.60" stroke-linecap="round" opacity="0.9"/>
<path d="M91.5 42.8h0M96.4 51.4h0M91.6 46.8h0" stroke="#c63d2f" stroke-width="3.20" stroke-linecap="round" opacity="0.9"/>
<path d="M55.0,32.0 L62.0,34.0 L70.0,37.0 L78.0,40.0 L86.0,42.0 L88.0,46.0 L80.0,46.0 L72.0,46.0 L64.0,46.0 L60.0,50.0 L59.0,58.0 L62.0,64.0 L66.0,70.0 L64.0,76.0 L58.0,76.0 L53.0,71.0 L50.0,66.0 L47.5,58.0 L48.5,50.0 L51.0,40.0Z" fill="#1d0d9c" opacity="0.06" stroke="none"/>
<path d="M49.5 63.1h0M53.8 45.7h0M53.2 47.5h0M84.2 45.2h0M52.3 52.5h0M48.9 56.0h0M57.7 42.2h0M54.0 71.9h0M49.9 46.7h0M82.7 45.9h0M62.4 71.1h0M62.5 40.3h0M61.8 70.8h0M53.6 36.7h0M54.8 47.5h0" stroke="#1d0d9c" stroke-width="2.00" stroke-linecap="round" opacity="0.9"/>
<path d="M59.1 60.4h0M56.9 42.6h0M54.5 59.9h0M59.0 49.9h0M55.6 34.7h0M59.3 58.9h0M49.1 49.5h0M70.6 45.7h0M49.6 47.1h0M68.1 39.3h0M55.1 69.1h0M60.9 40.4h0M58.8 61.1h0M59.5 62.3h0" stroke="#1d0d9c" stroke-width="2.60" stroke-linecap="round" opacity="0.9"/>
<path d="M85.3 43.7h0M53.4 52.7h0M72.6 42.1h0M58.7 75.9h0M59.9 49.4h0M54.9 34.2h0M55.0 49.1h0M50.4 59.7h0M49.0 61.8h0M54.3 57.1h0M53.9 50.9h0M85.8 43.4h0M55.5 34.8h0M63.3 67.5h0" stroke="#1d0d9c" stroke-width="3.20" stroke-linecap="round" opacity="0.9"/>
<path d="M60.0,47.0 L68.0,46.0 L76.0,47.0 L81.0,50.0 L78.0,54.0 L70.0,55.5 L62.0,56.0 L59.0,52.0Z" fill="#5f3b94" opacity="0.12" stroke="none"/>
<path d="M77.0 51.7h0M66.1 54.9h0" stroke="#5f3b94" stroke-width="2.00" stroke-linecap="round" opacity="0.9"/>
<path d="M64.8 50.0h0M69.7 52.5h0" stroke="#5f3b94" stroke-width="2.60" stroke-linecap="round" opacity="0.9"/>
<path d="M67.0 51.1h0M62.9 47.4h0" stroke="#5f3b94" stroke-width="3.20" stroke-linecap="round" opacity="0.9"/>
<path d="M42.0,19.0 L46.0,16.0 L50.0,21.0 L52.0,15.0 L55.0,17.0 L54.0,25.0 L58.0,31.0 L60.0,35.0 L57.0,36.0 L50.0,28.0 L44.0,23.0Z" fill="#a3276b" opacity="0.09" stroke="none"/>
<path d="M48.9 26.0h0M52.8 19.0h0M49.3 23.7h0M53.9 30.6h0" stroke="#a3276b" stroke-width="2.00" stroke-linecap="round" opacity="0.9"/>
<path d="M53.3 19.3h0M47.4 21.7h0M57.6 32.5h0" stroke="#a3276b" stroke-width="2.60" stroke-linecap="round" opacity="0.9"/>
<path d="M46.3 21.9h0M50.2 24.4h0M51.8 26.4h0" stroke="#a3276b" stroke-width="3.20" stroke-linecap="round" opacity="0.9"/>
<path d="M75.0,14.0 L80.0,13.0 L81.0,21.0 L78.0,28.0 L74.0,33.0 L69.0,37.0 L67.0,35.0 L70.0,28.0 L74.0,20.0Z" fill="#72ade0" opacity="0.57" stroke="none"/>
<path d="M74.2 31.9h0M77.0 23.7h0M78.4 20.0h0M77.7 15.1h0M74.9 15.6h0M77.4 17.4h0M69.9 31.5h0" stroke="#72ade0" stroke-width="2.00" stroke-linecap="round" opacity="0.9"/>
<path d="M77.8 16.1h0M75.4 27.0h0M76.9 29.0h0M70.8 26.5h0M76.3 28.4h0M73.4 26.9h0" stroke="#72ade0" stroke-width="2.60" stroke-linecap="round" opacity="0.9"/>
<path d="M73.2 29.1h0M75.4 16.4h0M74.8 22.9h0M73.4 25.1h0M71.6 32.1h0M78.1 17.4h0" stroke="#72ade0" stroke-width="3.20" stroke-linecap="round" opacity="0.9"/>
<path d="M116.0,43.0 L121.0,42.0 L124.0,48.0 L126.0,51.0 L122.0,52.0 L118.0,48.0Z" fill="#7056a8" opacity="0.24" stroke="none"/>
<path d="M118.5 46.5h0M118.3 46.8h0" stroke="#7056a8" stroke-width="2.00" stroke-linecap="round" opacity="0.9"/>
<path d="M124.8 50.5h0" stroke="#7056a8" stroke-width="2.60" stroke-linecap="round" opacity="0.9"/>
<path d="M123.8 48.0h0" stroke="#7056a8" stroke-width="3.20" stroke-linecap="round" opacity="0.9"/>
</g>
<g transform="matrix(0.82,0,0,0.995,279.9,6.0)" filter="url(#rough)">
<path d="M104,80 L110,84 L116,89 L121,95" fill="none" stroke="#e4e4e4" stroke-width="1.8" stroke-linecap="round" stroke-linejoin="round"/>
<path d="M121,95 L125,86" fill="none" stroke="#e4e4e4" stroke-width="1.8" stroke-linecap="round" stroke-linejoin="round"/>
<path d="M121,95 L116,100" fill="none" stroke="#e4e4e4" stroke-width="1.8" stroke-linecap="round" stroke-linejoin="round"/>
<path d="M121,95 L131,103" fill="none" stroke="#e4e4e4" stroke-width="1.8" stroke-linecap="round" stroke-linejoin="round"/>
<path d="M55.0,32.0 L62.0,34.0 L70.0,37.0 L78.0,40.0 L88.0,41.0 L96.0,43.0 L102.0,46.0 L108.0,50.0 L114.0,51.0 L122.0,46.0 L130.0,45.0 L140.0,46.0 L148.0,50.0 L155.0,55.0 L158.0,59.0 L152.0,63.0 L145.0,66.0 L136.0,68.0 L130.0,69.0 L125.0,68.0 L118.0,72.0 L112.0,76.0 L106.0,82.0 L105.0,88.0 L100.0,92.0 L95.0,92.0 L88.0,94.0 L78.0,94.0 L68.0,92.0 L63.0,87.0 L60.0,80.0 L53.0,71.0 L50.0,66.0 L47.5,58.0 L48.5,50.0 L51.0,40.0Z" fill="#e4e4e4"/>
<ellipse cx="124" cy="36" rx="1.8" ry="2.4" fill="#e4e4e4"/>
<path d="M123,38 L122,46" stroke="#e4e4e4" stroke-width="1.4"/>
<path d="M63.0,80.0 L70.0,84.0 L80.0,86.0 L90.0,88.0 L96.0,92.0 L90.0,94.0 L78.0,94.0 L68.0,92.0 L63.0,87.0Z" fill="#e4e4e4" stroke="#e4e4e4" stroke-width="1.0" stroke-linejoin="round"/>
<path d="M121.0,50.0 L130.0,45.0 L140.0,46.0 L148.0,50.0 L155.0,55.0 L158.0,59.0 L152.0,63.0 L145.0,66.0 L136.0,68.0 L130.0,69.0 L125.0,67.0 L121.0,60.0Z" fill="#e4e4e4" stroke="#e4e4e4" stroke-width="1.0" stroke-linejoin="round"/>
<path d="M101.0,55.0 L104.0,50.0 L110.0,51.0 L115.0,55.0 L116.0,62.0 L114.0,70.0 L111.0,76.0 L104.0,78.0 L97.0,76.0 L97.0,68.0 L95.0,62.0 L96.0,57.0Z" fill="#e4e4e4" stroke="#e4e4e4" stroke-width="1.0" stroke-linejoin="round"/>
<path d="M84.0,79.0 L92.0,76.0 L100.0,75.0 L106.0,78.0 L105.0,86.0 L100.0,91.0 L92.0,91.0 L86.0,87.0Z" fill="#e4e4e4" stroke="#e4e4e4" stroke-width="1.0" stroke-linejoin="round"/>
<path d="M60.0,60.0 L66.0,59.0 L72.0,57.0 L77.0,60.0 L86.0,60.0 L92.0,57.0 L95.0,62.0 L97.0,72.0 L97.0,78.0 L92.0,83.0 L84.0,86.0 L74.0,86.0 L65.0,83.0 L61.0,74.0 L59.0,66.0Z" fill="#e4e4e4" stroke="#e4e4e4" stroke-width="1.0" stroke-linejoin="round"/>
<path d="M78.0,40.0 L88.0,41.0 L96.0,43.0 L102.0,46.0 L104.0,50.0 L101.0,55.0 L96.0,57.0 L93.0,51.0 L88.0,48.0 L82.0,46.0Z" fill="#e4e4e4" stroke="#e4e4e4" stroke-width="1.0" stroke-linejoin="round"/>
<path d="M55.0,32.0 L62.0,34.0 L70.0,37.0 L78.0,40.0 L86.0,42.0 L88.0,46.0 L80.0,46.0 L72.0,46.0 L64.0,46.0 L60.0,50.0 L59.0,58.0 L62.0,64.0 L66.0,70.0 L64.0,76.0 L58.0,76.0 L53.0,71.0 L50.0,66.0 L47.5,58.0 L48.5,50.0 L51.0,40.0Z" fill="#e4e4e4" stroke="#e4e4e4" stroke-width="1.0" stroke-linejoin="round"/>
<path d="M60.0,47.0 L68.0,46.0 L76.0,47.0 L81.0,50.0 L78.0,54.0 L70.0,55.5 L62.0,56.0 L59.0,52.0Z" fill="#e4e4e4" stroke="#e4e4e4" stroke-width="1.0" stroke-linejoin="round"/>
<path d="M42.0,19.0 L46.0,16.0 L50.0,21.0 L52.0,15.0 L55.0,17.0 L54.0,25.0 L58.0,31.0 L60.0,35.0 L57.0,36.0 L50.0,28.0 L44.0,23.0Z" fill="#e4e4e4" stroke="#e4e4e4" stroke-width="1.0" stroke-linejoin="round"/>
<path d="M75.0,14.0 L80.0,13.0 L81.0,21.0 L78.0,28.0 L74.0,33.0 L69.0,37.0 L67.0,35.0 L70.0,28.0 L74.0,20.0Z" fill="#e4e4e4" stroke="#e4e4e4" stroke-width="1.0" stroke-linejoin="round"/>
<path d="M116.0,43.0 L121.0,42.0 L124.0,48.0 L126.0,51.0 L122.0,52.0 L118.0,48.0Z" fill="#e4e4e4" stroke="#e4e4e4" stroke-width="1.0" stroke-linejoin="round"/>
<path d="M114.0,51.0 L122.0,47.0 L125.0,52.0 L123.0,62.0 L126.0,68.0 L119.0,66.0 L116.0,58.0Z" fill="#e4e4e4"/>
<path d="M73.0,50.0 L80.0,48.0 L88.0,48.0 L93.0,51.0 L92.0,57.0 L86.0,60.0 L77.0,60.0 L72.0,56.0Z" fill="#fff"/>
<path d="M63.0,80.0 L70.0,84.0 L80.0,86.0 L90.0,88.0 L96.0,92.0 L90.0,94.0 L78.0,94.0 L68.0,92.0 L63.0,87.0Z" fill="#d3dec2" opacity="0.09" stroke="none"/>
<path d="M78.4 89.3h0M75.1 86.6h0M75.5 85.9h0M68.0 89.6h0" stroke="#d3dec2" stroke-width="2.00" stroke-linecap="round" opacity="0.9"/>
<path d="M72.5 89.7h0M73.8 88.9h0M76.4 89.4h0M79.4 92.3h0" stroke="#d3dec2" stroke-width="2.60" stroke-linecap="round" opacity="0.9"/>
<path d="M65.3 82.7h0M85.4 89.3h0M63.2 86.5h0M73.3 92.2h0" stroke="#d3dec2" stroke-width="3.20" stroke-linecap="round" opacity="0.9"/>
<path d="M121.0,50.0 L130.0,45.0 L140.0,46.0 L148.0,50.0 L155.0,55.0 L158.0,59.0 L152.0,63.0 L145.0,66.0 L136.0,68.0 L130.0,69.0 L125.0,67.0 L121.0,60.0Z" fill="#5ec79b" opacity="0.24" stroke="none"/>
<path d="M146.6 61.4h0M126.2 49.3h0M133.5 46.6h0M131.3 64.8h0M144.4 65.6h0M141.4 57.8h0M154.1 54.6h0M134.7 55.7h0M145.5 58.2h0M148.2 50.8h0M148.4 55.5h0M123.2 54.9h0M123.3 61.6h0" stroke="#5ec79b" stroke-width="2.00" stroke-linecap="round" opacity="0.9"/>
<path d="M122.2 53.3h0M150.3 62.7h0M141.3 61.5h0M130.3 49.9h0M138.0 58.7h0M133.4 67.5h0M123.0 50.3h0M145.6 61.2h0M125.7 58.1h0M137.1 55.9h0M145.7 51.5h0M137.7 51.6h0" stroke="#5ec79b" stroke-width="2.60" stroke-linecap="round" opacity="0.9"/>
<path d="M147.1 63.6h0M154.0 55.7h0M134.0 46.4h0M124.5 60.7h0M131.1 60.8h0M131.7 61.3h0M125.5 53.2h0M146.4 53.7h0M132.8 61.2h0M132.0 46.0h0M149.6 56.2h0M143.8 48.4h0" stroke="#5ec79b" stroke-width="3.20" stroke-linecap="round" opacity="0.9"/>
<path d="M101.0,55.0 L104.0,50.0 L110.0,51.0 L115.0,55.0 L116.0,62.0 L114.0,70.0 L111.0,76.0 L104.0,78.0 L97.0,76.0 L97.0,68.0 L95.0,62.0 L96.0,57.0Z" fill="#7f9a62" opacity="0.24" stroke="none"/>
<path d="M100.6 67.9h0M110.0 61.7h0M110.3 66.4h0M99.0 64.5h0M107.4 76.2h0M105.1 53.6h0M101.1 64.9h0M98.2 73.9h0" stroke="#7f9a62" stroke-width="2.00" stroke-linecap="round" opacity="0.9"/>
<path d="M111.8 59.5h0M100.6 56.7h0M109.0 75.2h0M110.0 75.7h0M102.0 76.1h0M107.8 70.0h0M99.9 70.3h0M114.6 59.3h0" stroke="#7f9a62" stroke-width="2.60" stroke-linecap="round" opacity="0.9"/>
<path d="M110.3 54.1h0M99.6 72.3h0M104.4 51.1h0M105.7 56.3h0M114.0 66.2h0M115.9 61.3h0M103.2 65.6h0M113.9 63.1h0" stroke="#7f9a62" stroke-width="3.20" stroke-linecap="round" opacity="0.9"/>
<path d="M84.0,79.0 L92.0,76.0 L100.0,75.0 L106.0,78.0 L105.0,86.0 L100.0,91.0 L92.0,91.0 L86.0,87.0Z" fill="#50698e" opacity="0.49" stroke="none"/>
<path d="M88.4 77.4h0M88.2 87.4h0M98.6 85.3h0M98.8 76.5h0M101.5 86.6h0M100.7 83.3h0M99.7 75.2h0" stroke="#50698e" stroke-width="2.00" stroke-linecap="round" opacity="0.9"/>
<path d="M87.6 82.0h0M88.9 83.4h0M99.0 80.9h0M98.5 80.9h0M100.0 85.9h0M94.7 89.7h0" stroke="#50698e" stroke-width="2.60" stroke-linecap="round" opacity="0.9"/>
<path d="M100.7 87.1h0M86.8 84.5h0M97.6 90.7h0M88.1 86.0h0M90.3 81.4h0M93.3 88.7h0" stroke="#50698e" stroke-width="3.20" stroke-linecap="round" opacity="0.9"/>
<path d="M60.0,60.0 L66.0,59.0 L72.0,57.0 L77.0,60.0 L86.0,60.0 L92.0,57.0 L95.0,62.0 L97.0,72.0 L97.0,78.0 L92.0,83.0 L84.0,86.0 L74.0,86.0 L65.0,83.0 L61.0,74.0 L59.0,66.0Z" fill="#c99a1c" opacity="0.75" stroke="none"/>
<path d="M85.5 65.3h0M62.7 72.7h0M65.3 59.2h0M78.4 84.8h0M59.5 64.4h0M80.5 82.5h0M90.4 60.5h0M65.0 69.3h0M68.5 76.4h0M92.7 61.6h0M71.2 79.4h0M71.1 73.6h0M68.5 69.9h0M84.9 82.3h0M94.1 74.8h0M91.7 80.9h0M86.2 62.8h0M64.7 80.5h0M68.0 82.5h0M77.5 80.2h0M70.4 65.0h0M88.8 73.9h0M70.9 65.2h0M88.7 63.6h0M92.3 59.4h0" stroke="#c99a1c" stroke-width="2.00" stroke-linecap="round" opacity="0.9"/>
<path d="M82.8 75.1h0M92.6 70.2h0M88.8 82.1h0M87.1 79.1h0M86.2 72.3h0M96.2 73.0h0M64.6 71.5h0M89.1 62.0h0M59.3 66.3h0M86.4 83.4h0M81.1 67.2h0M70.2 65.3h0M94.2 63.1h0M65.7 60.7h0M82.4 76.9h0M88.7 62.0h0M92.0 81.9h0M65.6 71.4h0M71.2 69.2h0M72.9 73.6h0M67.3 81.5h0M92.6 61.2h0M80.6 78.7h0M73.1 80.9h0" stroke="#c99a1c" stroke-width="2.60" stroke-linecap="round" opacity="0.9"/>
<path d="M68.2 61.0h0M89.9 81.1h0M91.4 77.7h0M87.2 73.9h0M80.4 65.3h0M64.3 73.2h0M70.6 61.1h0M89.6 59.2h0M64.9 63.7h0M68.4 82.0h0M92.7 77.2h0M63.1 69.6h0M63.0 69.0h0M81.6 68.8h0M66.8 83.0h0M61.0 67.6h0M85.5 71.0h0M87.8 75.4h0M75.7 77.3h0M89.1 70.6h0M78.6 65.3h0M66.0 69.0h0M74.8 71.7h0M67.9 66.6h0" stroke="#c99a1c" stroke-width="3.20" stroke-linecap="round" opacity="0.9"/>
<path d="M78.0,40.0 L88.0,41.0 L96.0,43.0 L102.0,46.0 L104.0,50.0 L101.0,55.0 L96.0,57.0 L93.0,51.0 L88.0,48.0 L82.0,46.0Z" fill="#c63d2f" opacity="0.35" stroke="none"/>
<path d="M92.0 42.6h0M93.0 44.4h0M96.5 44.7h0M83.3 43.3h0M98.9 54.7h0M89.8 42.1h0M93.9 50.9h0" stroke="#c63d2f" stroke-width="2.00" stroke-linecap="round" opacity="0.9"/>
<path d="M96.3 49.0h0M100.4 45.7h0M99.7 52.3h0M89.0 46.5h0M97.9 48.7h0M102.5 52.0h0M90.9 49.5h0" stroke="#c63d2f" stroke-width="2.60" stroke-linecap="round" opacity="0.9"/>
<path d="M86.7 47.1h0M95.9 50.5h0M95.2 52.3h0M99.3 50.4h0M100.2 51.5h0M96.8 50.3h0M100.6 54.5h0" stroke="#c63d2f" stroke-width="3.20" stroke-linecap="round" opacity="0.9"/>
<path d="M55.0,32.0 L62.0,34.0 L70.0,37.0 L78.0,40.0 L86.0,42.0 L88.0,46.0 L80.0,46.0 L72.0,46.0 L64.0,46.0 L60.0,50.0 L59.0,58.0 L62.0,64.0 L66.0,70.0 L64.0,76.0 L58.0,76.0 L53.0,71.0 L50.0,66.0 L47.5,58.0 L48.5,50.0 L51.0,40.0Z" fill="#1d0d9c" opacity="0.15" stroke="none"/>
<path d="M78.6 42.7h0M59.0 34.4h0M53.7 47.1h0M66.1 44.3h0M56.9 49.9h0M59.2 37.9h0M58.2 43.7h0M61.3 73.9h0M62.5 75.7h0M57.8 69.6h0M55.5 32.3h0M53.6 52.1h0M58.8 44.0h0M49.6 59.7h0M74.2 39.0h0M62.2 37.5h0M52.0 53.2h0M51.7 49.0h0M51.8 56.2h0M51.9 59.4h0M59.3 59.6h0" stroke="#1d0d9c" stroke-width="2.00" stroke-linecap="round" opacity="0.9"/>
<path d="M59.4 34.2h0M52.0 51.2h0M53.5 59.6h0M58.7 50.5h0M80.1 43.1h0M54.9 53.8h0M50.2 53.6h0M74.8 42.8h0M52.4 38.6h0M60.5 48.5h0M57.7 57.9h0M62.4 70.7h0M67.2 43.5h0M62.4 67.1h0M52.7 48.0h0M53.3 60.1h0M54.5 62.7h0M50.7 63.0h0M54.8 42.6h0M51.1 64.9h0M57.2 45.9h0" stroke="#1d0d9c" stroke-width="2.60" stroke-linecap="round" opacity="0.9"/>
<path d="M63.5 69.8h0M58.5 67.5h0M69.5 36.9h0M64.3 41.1h0M76.3 43.0h0M57.5 32.7h0M58.7 57.5h0M51.3 44.1h0M50.0 48.5h0M59.0 39.3h0M64.5 42.3h0M59.6 68.9h0M69.0 40.5h0M56.1 67.4h0M49.3 47.5h0M83.6 41.7h0M49.2 58.9h0M52.3 67.3h0M57.5 44.7h0M57.9 60.0h0" stroke="#1d0d9c" stroke-width="3.20" stroke-linecap="round" opacity="0.9"/>
<path d="M60.0,47.0 L68.0,46.0 L76.0,47.0 L81.0,50.0 L78.0,54.0 L70.0,55.5 L62.0,56.0 L59.0,52.0Z" fill="#5f3b94" opacity="0.19" stroke="none"/>
<path d="M64.8 52.1h0M66.0 51.3h0M71.2 52.6h0" stroke="#5f3b94" stroke-width="2.00" stroke-linecap="round" opacity="0.9"/>
<path d="M66.7 54.2h0M71.9 49.5h0M64.0 49.2h0" stroke="#5f3b94" stroke-width="2.60" stroke-linecap="round" opacity="0.9"/>
<path d="M67.4 53.8h0M76.3 52.3h0" stroke="#5f3b94" stroke-width="3.20" stroke-linecap="round" opacity="0.9"/>
<path d="M42.0,19.0 L46.0,16.0 L50.0,21.0 L52.0,15.0 L55.0,17.0 L54.0,25.0 L58.0,31.0 L60.0,35.0 L57.0,36.0 L50.0,28.0 L44.0,23.0Z" fill="#a3276b" opacity="0.15" stroke="none"/>
<path d="M49.1 26.7h0M57.0 32.5h0M51.8 25.8h0M54.5 18.0h0M56.2 29.2h0" stroke="#a3276b" stroke-width="2.00" stroke-linecap="round" opacity="0.9"/>
<path d="M47.3 24.7h0M56.7 33.8h0M59.3 34.5h0M48.4 20.6h0" stroke="#a3276b" stroke-width="2.60" stroke-linecap="round" opacity="0.9"/>
<path d="M54.4 20.4h0M44.9 23.7h0M51.2 17.5h0M56.3 31.5h0" stroke="#a3276b" stroke-width="3.20" stroke-linecap="round" opacity="0.9"/>
<path d="M75.0,14.0 L80.0,13.0 L81.0,21.0 L78.0,28.0 L74.0,33.0 L69.0,37.0 L67.0,35.0 L70.0,28.0 L74.0,20.0Z" fill="#72ade0" opacity="0.41" stroke="none"/>
<path d="M78.1 26.8h0M75.1 29.5h0M73.2 25.5h0M79.5 17.4h0M74.2 32.2h0M76.5 15.4h0" stroke="#72ade0" stroke-width="2.00" stroke-linecap="round" opacity="0.9"/>
<path d="M76.3 29.6h0M79.7 15.1h0M77.0 21.1h0M75.4 30.4h0M79.6 16.5h0M77.1 22.0h0" stroke="#72ade0" stroke-width="2.60" stroke-linecap="round" opacity="0.9"/>
<path d="M68.6 35.4h0M75.9 27.5h0M73.8 29.3h0M71.5 26.3h0M70.7 30.6h0" stroke="#72ade0" stroke-width="3.20" stroke-linecap="round" opacity="0.9"/>
<path d="M116.0,43.0 L121.0,42.0 L124.0,48.0 L126.0,51.0 L122.0,52.0 L118.0,48.0Z" fill="#7056a8" opacity="0.15" stroke="none"/>
<path d="M120.7 43.7h0" stroke="#7056a8" stroke-width="2.00" stroke-linecap="round" opacity="0.9"/>
<path d="M123.6 47.5h0" stroke="#7056a8" stroke-width="2.60" stroke-linecap="round" opacity="0.9"/>
<path d="M122.4 47.7h0" stroke="#7056a8" stroke-width="3.20" stroke-linecap="round" opacity="0.9"/>
</g>
<g transform="matrix(0.82,0,0,0.995,388.4,6.6)" filter="url(#rough)">
<path d="M104,80 L110,84 L116,89 L121,95" fill="none" stroke="#e4e4e4" stroke-width="1.8" stroke-linecap="round" stroke-linejoin="round"/>
<path d="M121,95 L125,86" fill="none" stroke="#e4e4e4" stroke-width="1.8" stroke-linecap="round" stroke-linejoin="round"/>
<path d="M121,95 L116,100" fill="none" stroke="#e4e4e4" stroke-width="1.8" stroke-linecap="round" stroke-linejoin="round"/>
<path d="M121,95 L131,103" fill="none" stroke="#e4e4e4" stroke-width="1.8" stroke-linecap="round" stroke-linejoin="round"/>
<path d="M55.0,32.0 L62.0,34.0 L70.0,37.0 L78.0,40.0 L88.0,41.0 L96.0,43.0 L102.0,46.0 L108.0,50.0 L114.0,51.0 L122.0,46.0 L130.0,45.0 L140.0,46.0 L148.0,50.0 L155.0,55.0 L158.0,59.0 L152.0,63.0 L145.0,66.0 L136.0,68.0 L130.0,69.0 L125.0,68.0 L118.0,72.0 L112.0,76.0 L106.0,82.0 L105.0,88.0 L100.0,92.0 L95.0,92.0 L88.0,94.0 L78.0,94.0 L68.0,92.0 L63.0,87.0 L60.0,80.0 L53.0,71.0 L50.0,66.0 L47.5,58.0 L48.5,50.0 L51.0,40.0Z" fill="#e4e4e4"/>
<ellipse cx="124" cy="36" rx="1.8" ry="2.4" fill="#e4e4e4"/>
<path d="M123,38 L122,46" stroke="#e4e4e4" stroke-width="1.4"/>
<path d="M63.0,80.0 L70.0,84.0 L80.0,86.0 L90.0,88.0 L96.0,92.0 L90.0,94.0 L78.0,94.0 L68.0,92.0 L63.0,87.0Z" fill="#e4e4e4" stroke="#e4e4e4" stroke-width="1.0" stroke-linejoin="round"/>
<path d="M121.0,50.0 L130.0,45.0 L140.0,46.0 L148.0,50.0 L155.0,55.0 L158.0,59.0 L152.0,63.0 L145.0,66.0 L136.0,68.0 L130.0,69.0 L125.0,67.0 L121.0,60.0Z" fill="#e4e4e4" stroke="#e4e4e4" stroke-width="1.0" stroke-linejoin="round"/>
<path d="M101.0,55.0 L104.0,50.0 L110.0,51.0 L115.0,55.0 L116.0,62.0 L114.0,70.0 L111.0,76.0 L104.0,78.0 L97.0,76.0 L97.0,68.0 L95.0,62.0 L96.0,57.0Z" fill="#e4e4e4" stroke="#e4e4e4" stroke-width="1.0" stroke-linejoin="round"/>
<path d="M84.0,79.0 L92.0,76.0 L100.0,75.0 L106.0,78.0 L105.0,86.0 L100.0,91.0 L92.0,91.0 L86.0,87.0Z" fill="#e4e4e4" stroke="#e4e4e4" stroke-width="1.0" stroke-linejoin="round"/>
<path d="M60.0,60.0 L66.0,59.0 L72.0,57.0 L77.0,60.0 L86.0,60.0 L92.0,57.0 L95.0,62.0 L97.0,72.0 L97.0,78.0 L92.0,83.0 L84.0,86.0 L74.0,86.0 L65.0,83.0 L61.0,74.0 L59.0,66.0Z" fill="#e4e4e4" stroke="#e4e4e4" stroke-width="1.0" stroke-linejoin="round"/>
<path d="M78.0,40.0 L88.0,41.0 L96.0,43.0 L102.0,46.0 L104.0,50.0 L101.0,55.0 L96.0,57.0 L93.0,51.0 L88.0,48.0 L82.0,46.0Z" fill="#e4e4e4" stroke="#e4e4e4" stroke-width="1.0" stroke-linejoin="round"/>
<path d="M55.0,32.0 L62.0,34.0 L70.0,37.0 L78.0,40.0 L86.0,42.0 L88.0,46.0 L80.0,46.0 L72.0,46.0 L64.0,46.0 L60.0,50.0 L59.0,58.0 L62.0,64.0 L66.0,70.0 L64.0,76.0 L58.0,76.0 L53.0,71.0 L50.0,66.0 L47.5,58.0 L48.5,50.0 L51.0,40.0Z" fill="#e4e4e4" stroke="#e4e4e4" stroke-width="1.0" stroke-linejoin="round"/>
<path d="M60.0,47.0 L68.0,46.0 L76.0,47.0 L81.0,50.0 L78.0,54.0 L70.0,55.5 L62.0,56.0 L59.0,52.0Z" fill="#e4e4e4" stroke="#e4e4e4" stroke-width="1.0" stroke-linejoin="round"/>
<path d="M42.0,19.0 L46.0,16.0 L50.0,21.0 L52.0,15.0 L55.0,17.0 L54.0,25.0 L58.0,31.0 L60.0,35.0 L57.0,36.0 L50.0,28.0 L44.0,23.0Z" fill="#e4e4e4" stroke="#e4e4e4" stroke-width="1.0" stroke-linejoin="round"/>
<path d="M75.0,14.0 L80.0,13.0 L81.0,21.0 L78.0,28.0 L74.0,33.0 L69.0,37.0 L67.0,35.0 L70.0,28.0 L74.0,20.0Z" fill="#e4e4e4" stroke="#e4e4e4" stroke-width="1.0" stroke-linejoin="round"/>
<path d="M116.0,43.0 L121.0,42.0 L124.0,48.0 L126.0,51.0 L122.0,52.0 L118.0,48.0Z" fill="#e4e4e4" stroke="#e4e4e4" stroke-width="1.0" stroke-linejoin="round"/>
<path d="M114.0,51.0 L122.0,47.0 L125.0,52.0 L123.0,62.0 L126.0,68.0 L119.0,66.0 L116.0,58.0Z" fill="#e4e4e4"/>
<path d="M73.0,50.0 L80.0,48.0 L88.0,48.0 L93.0,51.0 L92.0,57.0 L86.0,60.0 L77.0,60.0 L72.0,56.0Z" fill="#fff"/>
<path d="M63.0,80.0 L70.0,84.0 L80.0,86.0 L90.0,88.0 L96.0,92.0 L90.0,94.0 L78.0,94.0 L68.0,92.0 L63.0,87.0Z" fill="#d3dec2" opacity="0.00" stroke="none"/>
<path d="M67.9 88.6h0" stroke="#d3dec2" stroke-width="2.00" stroke-linecap="round" opacity="0.9"/>
<path d="M121.0,50.0 L130.0,45.0 L140.0,46.0 L148.0,50.0 L155.0,55.0 L158.0,59.0 L152.0,63.0 L145.0,66.0 L136.0,68.0 L130.0,69.0 L125.0,67.0 L121.0,60.0Z" fill="#5ec79b" opacity="0.04" stroke="none"/>
<path d="M127.3 62.1h0M122.6 57.7h0M125.7 64.4h0M129.2 57.7h0M130.1 47.2h0M136.9 54.6h0" stroke="#5ec79b" stroke-width="2.00" stroke-linecap="round" opacity="0.9"/>
<path d="M143.5 54.2h0M143.9 57.5h0M146.5 59.6h0M126.4 59.9h0M133.3 61.5h0M128.7 59.1h0" stroke="#5ec79b" stroke-width="2.60" stroke-linecap="round" opacity="0.9"/>
<path d="M143.8 58.6h0M135.0 50.4h0M137.3 57.0h0M144.3 61.1h0M139.9 62.9h0M144.4 55.4h0" stroke="#5ec79b" stroke-width="3.20" stroke-linecap="round" opacity="0.9"/>
<path d="M101.0,55.0 L104.0,50.0 L110.0,51.0 L115.0,55.0 L116.0,62.0 L114.0,70.0 L111.0,76.0 L104.0,78.0 L97.0,76.0 L97.0,68.0 L95.0,62.0 L96.0,57.0Z" fill="#7f9a62" opacity="0.00" stroke="none"/>
<path d="M106.7 62.3h0M104.9 76.5h0" stroke="#7f9a62" stroke-width="2.00" stroke-linecap="round" opacity="0.9"/>
<path d="M109.0 74.9h0" stroke="#7f9a62" stroke-width="2.60" stroke-linecap="round" opacity="0.9"/>
<path d="M112.3 67.9h0" stroke="#7f9a62" stroke-width="3.20" stroke-linecap="round" opacity="0.9"/>
<path d="M84.0,79.0 L92.0,76.0 L100.0,75.0 L106.0,78.0 L105.0,86.0 L100.0,91.0 L92.0,91.0 L86.0,87.0Z" fill="#50698e" opacity="0.01" stroke="none"/>
<path d="M93.8 85.0h0" stroke="#50698e" stroke-width="2.00" stroke-linecap="round" opacity="0.9"/>
<path d="M103.1 85.9h0" stroke="#50698e" stroke-width="2.60" stroke-linecap="round" opacity="0.9"/>
<path d="M92.6 86.9h0" stroke="#50698e" stroke-width="3.20" stroke-linecap="round" opacity="0.9"/>
<path d="M60.0,60.0 L66.0,59.0 L72.0,57.0 L77.0,60.0 L86.0,60.0 L92.0,57.0 L95.0,62.0 L97.0,72.0 L97.0,78.0 L92.0,83.0 L84.0,86.0 L74.0,86.0 L65.0,83.0 L61.0,74.0 L59.0,66.0Z" fill="#c99a1c" opacity="0.03" stroke="none"/>
<path d="M81.8 83.5h0M74.1 84.2h0M68.7 76.9h0M67.4 69.0h0M73.8 61.4h0M86.7 69.0h0M66.7 70.5h0" stroke="#c99a1c" stroke-width="2.00" stroke-linecap="round" opacity="0.9"/>
<path d="M82.7 72.5h0M94.9 62.0h0M94.7 63.2h0M64.4 70.9h0M63.5 61.4h0M68.2 62.5h0" stroke="#c99a1c" stroke-width="2.60" stroke-linecap="round" opacity="0.9"/>
<path d="M96.0 72.3h0M92.5 68.1h0M76.0 76.2h0M67.7 59.3h0M74.9 66.2h0M70.3 78.6h0" stroke="#c99a1c" stroke-width="3.20" stroke-linecap="round" opacity="0.9"/>
<path d="M78.0,40.0 L88.0,41.0 L96.0,43.0 L102.0,46.0 L104.0,50.0 L101.0,55.0 L96.0,57.0 L93.0,51.0 L88.0,48.0 L82.0,46.0Z" fill="#c63d2f" opacity="0.15" stroke="none"/>
<path d="M99.0 54.1h0M98.5 46.6h0M96.3 56.3h0M93.6 48.2h0M84.5 42.4h0" stroke="#c63d2f" stroke-width="2.00" stroke-linecap="round" opacity="0.9"/>
<path d="M94.7 43.9h0M101.9 48.0h0M94.6 48.1h0M86.9 42.3h0M102.0 48.2h0" stroke="#c63d2f" stroke-width="2.60" stroke-linecap="round" opacity="0.9"/>
<path d="M80.4 42.9h0M96.2 55.7h0M98.2 52.4h0M101.8 47.7h0M97.7 52.8h0" stroke="#c63d2f" stroke-width="3.20" stroke-linecap="round" opacity="0.9"/>
<path d="M55.0,32.0 L62.0,34.0 L70.0,37.0 L78.0,40.0 L86.0,42.0 L88.0,46.0 L80.0,46.0 L72.0,46.0 L64.0,46.0 L60.0,50.0 L59.0,58.0 L62.0,64.0 L66.0,70.0 L64.0,76.0 L58.0,76.0 L53.0,71.0 L50.0,66.0 L47.5,58.0 L48.5,50.0 L51.0,40.0Z" fill="#1d0d9c" opacity="0.75" stroke="none"/>
<path d="M58.6 71.7h0M73.8 41.1h0M52.9 46.9h0M49.7 62.3h0M60.6 67.4h0M55.9 33.0h0M71.2 39.5h0M65.1 44.5h0M50.7 66.5h0M59.4 46.3h0M59.0 58.2h0M61.9 39.0h0M57.3 64.3h0M60.7 70.7h0M68.6 39.0h0M62.7 65.0h0M68.4 39.7h0M52.5 65.0h0M50.3 53.2h0M79.3 45.1h0M57.6 40.1h0M55.0 48.8h0M78.9 41.7h0M55.7 57.0h0M58.4 39.1h0M56.9 57.7h0M80.4 40.6h0M62.7 36.9h0M58.8 71.0h0M48.1 58.6h0M64.9 69.1h0M52.3 58.3h0M53.8 55.6h0M50.0 48.7h0M49.1 51.6h0M51.8 57.2h0M61.3 73.6h0M52.6 56.6h0M62.9 35.2h0M51.4 50.9h0" stroke="#1d0d9c" stroke-width="2.00" stroke-linecap="round" opacity="0.9"/>
<path d="M50.7 62.5h0M53.7 35.0h0M67.1 41.0h0M49.8 52.8h0M59.0 35.7h0M54.5 41.6h0M63.7 67.8h0M50.1 55.0h0M50.9 52.7h0M55.3 48.9h0M59.2 60.5h0M51.3 60.4h0M62.5 74.7h0M70.1 39.9h0M71.6 39.1h0M61.1 37.7h0M77.6 42.2h0M52.6 69.5h0M55.2 53.2h0M56.1 33.5h0M56.1 57.5h0M56.8 50.6h0M63.1 75.7h0M71.8 41.7h0M50.9 61.0h0M54.1 37.4h0M61.9 37.6h0M76.5 39.7h0M53.2 56.6h0M66.7 41.4h0M86.1 45.0h0M72.0 41.9h0M59.0 73.9h0M60.1 60.6h0M57.0 34.0h0M55.1 36.5h0M54.5 37.7h0M49.6 62.3h0M58.8 48.8h0" stroke="#1d0d9c" stroke-width="2.60" stroke-linecap="round" opacity="0.9"/>
<path d="M51.7 65.0h0M56.7 70.9h0M51.9 62.4h0M62.9 67.8h0M83.6 43.7h0M76.6 42.8h0M47.9 55.6h0M61.0 36.3h0M62.3 69.7h0M48.1 54.1h0M83.8 42.6h0M61.4 67.5h0M53.7 68.5h0M55.5 42.6h0M55.4 40.9h0M51.7 46.6h0M55.9 44.7h0M58.5 37.4h0M51.3 57.9h0M54.6 50.7h0M54.5 51.0h0M60.6 73.4h0M57.3 49.5h0M57.7 43.1h0M87.0 44.7h0M63.6 76.0h0M62.0 67.6h0M81.1 43.9h0M78.3 42.8h0M50.4 65.5h0M53.2 44.0h0M62.8 70.1h0M66.5 43.6h0M49.1 53.1h0M65.1 38.1h0M52.9 55.7h0M58.5 66.1h0M81.1 45.9h0M56.4 61.7h0" stroke="#1d0d9c" stroke-width="3.20" stroke-linecap="round" opacity="0.9"/>
<path d="M60.0,47.0 L68.0,46.0 L76.0,47.0 L81.0,50.0 L78.0,54.0 L70.0,55.5 L62.0,56.0 L59.0,52.0Z" fill="#5f3b94" opacity="0.49" stroke="none"/>
<path d="M72.1 54.5h0M59.3 52.1h0M66.9 50.9h0M72.5 47.8h0" stroke="#5f3b94" stroke-width="2.00" stroke-linecap="round" opacity="0.9"/>
<path d="M62.9 53.1h0M65.0 53.0h0M76.2 53.6h0M69.7 49.5h0" stroke="#5f3b94" stroke-width="2.60" stroke-linecap="round" opacity="0.9"/>
<path d="M80.2 49.7h0M71.1 49.6h0M68.7 49.8h0M60.9 49.0h0" stroke="#5f3b94" stroke-width="3.20" stroke-linecap="round" opacity="0.9"/>
<path d="M42.0,19.0 L46.0,16.0 L50.0,21.0 L52.0,15.0 L55.0,17.0 L54.0,25.0 L58.0,31.0 L60.0,35.0 L57.0,36.0 L50.0,28.0 L44.0,23.0Z" fill="#a3276b" opacity="0.75" stroke="none"/>
<path d="M55.3 29.8h0M52.5 18.6h0M57.4 35.3h0M47.4 25.8h0M53.8 21.5h0M45.7 16.5h0M52.9 24.0h0M51.1 26.9h0M51.2 26.8h0" stroke="#a3276b" stroke-width="2.00" stroke-linecap="round" opacity="0.9"/>
<path d="M52.7 15.6h0M54.1 26.0h0M51.3 19.8h0M57.1 35.7h0M52.4 19.1h0M46.2 20.6h0M46.5 16.9h0M44.4 23.0h0" stroke="#a3276b" stroke-width="2.60" stroke-linecap="round" opacity="0.9"/>
<path d="M44.8 21.0h0M53.1 16.6h0M53.7 30.2h0M43.8 21.9h0M58.3 35.2h0M54.0 22.2h0M43.8 20.0h0M57.5 31.8h0" stroke="#a3276b" stroke-width="3.20" stroke-linecap="round" opacity="0.9"/>
<path d="M75.0,14.0 L80.0,13.0 L81.0,21.0 L78.0,28.0 L74.0,33.0 L69.0,37.0 L67.0,35.0 L70.0,28.0 L74.0,20.0Z" fill="#72ade0" opacity="0.02" stroke="none"/>
<path d="M68.6 32.8h0M74.5 31.3h0" stroke="#72ade0" stroke-width="2.00" stroke-linecap="round" opacity="0.9"/>
<path d="M80.5 17.3h0" stroke="#72ade0" stroke-width="2.60" stroke-linecap="round" opacity="0.9"/>
<path d="M76.4 25.2h0" stroke="#72ade0" stroke-width="3.20" stroke-linecap="round" opacity="0.9"/>
<path d="M116.0,43.0 L121.0,42.0 L124.0,48.0 L126.0,51.0 L122.0,52.0 L118.0,48.0Z" fill="#7056a8" opacity="0.09" stroke="none"/>
<path d="M123.5 48.7h0" stroke="#7056a8" stroke-width="2.00" stroke-linecap="round" opacity="0.9"/>
<path d="M119.3 46.0h0" stroke="#7056a8" stroke-width="2.60" stroke-linecap="round" opacity="0.9"/>
</g>
<text x="0.00" y="264.60" font-size="10" transform="matrix(1,0,0,1.1,0,-26.46)" >F</text>
<text x="33.00" y="282.50" font-size="8.3" text-anchor="end" transform="matrix(1,0,0,1.1,0,-28.25)" >0</text>
<circle cx="37.40" cy="279.60" r="2.00" fill="#f1dfb6" />
<text x="33.00" y="291.04" font-size="8.3" text-anchor="end" transform="matrix(1,0,0,1.1,0,-29.10)" >1</text>
<circle cx="37.40" cy="288.14" r="2.00" fill="#dcd0a6" />
<text x="33.00" y="299.58" font-size="8.3" text-anchor="end" transform="matrix(1,0,0,1.1,0,-29.96)" >2</text>
<circle cx="37.40" cy="296.68" r="2.00" fill="#c2bc98" />
<text x="33.00" y="308.12" font-size="8.3" text-anchor="end" transform="matrix(1,0,0,1.1,0,-30.81)" >3</text>
<circle cx="37.40" cy="305.22" r="2.00" fill="#a2a78a" />
<text x="33.00" y="316.66" font-size="8.3" text-anchor="end" transform="matrix(1,0,0,1.1,0,-31.67)" >4</text>
<circle cx="37.40" cy="313.76" r="2.00" fill="#788a78" />
<text x="33.00" y="325.20" font-size="8.3" text-anchor="end" transform="matrix(1,0,0,1.1,0,-32.52)" >5</text>
<circle cx="37.40" cy="322.30" r="2.00" fill="#4a5b58" />
<g filter="url(#rough)">
<path d="M44,260 L47,262 L63,279" fill="none" stroke="#d8d2b8" stroke-width="2.2" stroke-linecap="round"/>
<path d="M44,259 L42,263 M44,259 L48,259" fill="none" stroke="#d8d2b8" stroke-width="1.6"/>
<path d="M67,258 L66,270 L65,276" fill="none" stroke="#eadbb9" stroke-width="4" stroke-linecap="round"/>
<path d="M89,324 L96,330 L101,335.5" fill="none" stroke="#e6dabd" stroke-width="2.2" stroke-linecap="round"/>
<path d="M96,330 L99,322" fill="none" stroke="#e6dabd" stroke-width="1.6" stroke-linecap="round"/>
<path d="M97,288 L98,279" fill="none" stroke="#e6dabd" stroke-width="1.6" stroke-linecap="round"/>
<path d="M54.4,274.0 L47.6,286.2 L46.2,302.5 L50.3,316.2 L58.5,325.7 L68.0,327.0 L78.9,324.3 L87.0,321.6 L87.0,318.9 L91.1,308.0 L92.5,298.5 L95.2,294.4 L81.6,286.2 L62.0,276.0Z" fill="#e6dbbf"/>
<path d="M92.5,296.0 L96.0,289.0 L103.3,285.5 L110.0,292.0 L119.7,298.5 L110.0,301.0 L100.0,304.0 L92.0,305.0Z" fill="#eedfc0"/>
<path d="M62.0,283.0 L75.0,288.0 L86.0,296.0 L90.0,306.0 L86.0,318.0 L72.0,322.0 L62.0,316.0 L58.0,300.0Z" fill="#d6cdb0"/>
<path d="M54.4,274.0 L47.6,286.2 L46.2,302.5 L50.3,316.2 L58.5,325.7 L64.0,322.0 L60.0,310.0 L58.0,296.0 L62.0,283.0 L66.0,278.0Z" fill="#b9b99e"/>
<path d="M63.0,281.5 L70.0,281.0 L75.0,284.5 L74.5,291.5 L68.0,293.0 L63.0,290.0Z" fill="#ffffff"/>
</g>
<path d="M51.0 316.5h0M57.2 305.6h0M56.1 318.0h0M49.8 290.6h0M50.2 303.0h0M60.9 317.9h0M56.9 279.5h0M57.1 280.3h0M56.7 285.3h0M56.0 276.0h0M59.9 278.9h0M62.9 321.3h0M55.7 313.3h0M53.9 298.6h0M50.8 299.9h0M62.8 279.3h0M51.7 297.5h0M59.6 314.3h0M55.9 309.9h0M55.7 312.7h0M49.1 292.6h0M57.3 309.0h0M51.6 282.3h0M65.1 278.5h0M55.2 306.1h0M63.0 278.0h0M62.4 322.4h0M56.9 308.6h0M60.4 283.2h0M55.5 283.8h0M53.9 308.1h0M60.0 284.9h0M52.3 308.6h0M50.0 299.9h0M49.3 308.6h0M55.7 309.2h0M54.5 300.9h0M59.8 315.6h0M53.8 318.8h0M59.2 304.9h0M56.0 289.2h0M61.8 282.9h0M57.9 300.4h0M58.8 275.8h0M56.5 304.2h0M47.2 302.2h0M55.7 286.7h0M53.8 295.2h0M48.6 299.7h0M52.7 298.6h0M50.7 299.2h0M48.5 291.2h0M54.3 283.7h0M63.2 279.0h0M61.3 322.4h0M56.5 274.8h0M54.4 311.4h0M55.8 309.2h0M62.3 317.1h0M57.0 309.2h0" stroke="#5e6e62" stroke-width="0.90" stroke-linecap="round" opacity="0.85"/>
<path d="M48.5 298.6h0M49.1 306.6h0M56.2 317.2h0M56.8 284.6h0M54.9 310.4h0M48.1 297.8h0M55.0 314.2h0M61.1 322.9h0M55.6 312.2h0M47.3 298.4h0M52.1 278.7h0M57.6 277.2h0M64.5 279.9h0M51.4 313.9h0M55.9 287.8h0M58.5 289.3h0M49.9 304.6h0M53.8 297.8h0M61.4 284.0h0M56.2 294.7h0M61.7 276.5h0M58.9 316.6h0M56.4 306.3h0M60.1 278.1h0M61.0 281.7h0M61.7 315.7h0M58.7 316.7h0M47.6 302.5h0M55.7 302.0h0M57.6 322.6h0M57.2 284.1h0M58.4 325.4h0M52.9 307.3h0M53.2 285.7h0M55.0 289.6h0M51.7 282.9h0M58.4 309.7h0M56.9 298.4h0M54.7 312.9h0M49.1 297.0h0M53.3 278.8h0M54.6 275.3h0M54.7 284.4h0M51.7 301.8h0M60.4 282.5h0M58.8 310.5h0M57.0 297.2h0M55.4 293.1h0M51.8 315.0h0M60.8 285.8h0M50.9 313.5h0M58.0 299.7h0M55.5 278.7h0M48.9 293.0h0M60.0 323.8h0M51.9 296.9h0M59.2 325.1h0M53.8 315.5h0M58.0 320.8h0M48.3 308.5h0" stroke="#ffffff" stroke-width="0.90" stroke-linecap="round" opacity="0.7"/>
<path d="M58.8 303.0h0M62.1 309.6h0M83.9 310.7h0M82.7 299.8h0M77.9 298.3h0M83.6 297.0h0M62.4 285.6h0M66.6 294.5h0M71.1 300.8h0M80.5 309.5h0M58.9 299.7h0M64.5 317.4h0M73.2 309.9h0M83.0 309.0h0M84.4 315.6h0M75.8 289.3h0M70.9 307.4h0M70.6 301.0h0M85.0 303.2h0M61.4 313.3h0M66.7 301.2h0M62.2 304.5h0M60.0 299.3h0M64.0 313.8h0M83.8 302.6h0M79.0 302.8h0M78.5 319.4h0M73.7 301.4h0M59.2 295.2h0M61.9 295.0h0M62.4 287.3h0M68.2 310.3h0M72.5 300.2h0M60.9 300.6h0M79.6 302.9h0M75.7 303.6h0M63.1 296.6h0M70.3 297.4h0M84.7 305.1h0M72.0 290.5h0M70.2 294.7h0M63.4 293.2h0M73.3 308.3h0M85.2 297.8h0M73.1 295.9h0" stroke="#7a8676" stroke-width="0.90" stroke-linecap="round" opacity="0.8"/>
<path d="M61.5 293.7h0M74.9 313.2h0M77.3 303.4h0M70.2 298.5h0M71.7 286.7h0M87.3 305.3h0M82.9 314.0h0M86.8 315.1h0M70.9 297.0h0M67.9 303.6h0M66.9 286.3h0M86.8 302.4h0M69.0 298.0h0M86.4 305.2h0M65.6 308.0h0M65.0 298.3h0M65.3 302.8h0M88.8 303.1h0M80.0 305.5h0M67.4 296.2h0M83.2 296.0h0M69.3 317.9h0M71.5 314.6h0M75.6 315.4h0M75.9 289.5h0M82.7 298.2h0M79.0 312.5h0M87.2 301.4h0M61.1 305.2h0M61.0 297.9h0M69.3 287.4h0M79.0 309.2h0M58.8 301.1h0M76.3 292.4h0M68.1 303.5h0M64.9 286.1h0M67.5 299.5h0M63.7 309.6h0M65.4 313.0h0M68.3 308.7h0M78.9 307.7h0M73.7 318.6h0M83.8 309.4h0M64.6 285.4h0M67.0 288.2h0" stroke="#ffffff" stroke-width="0.90" stroke-linecap="round" opacity="0.8"/>
<path d="M67.7 300.1h0M84.3 289.2h0M86.0 291.7h0M54.2 293.4h0M77.4 318.2h0M60.0 282.5h0M80.0 315.6h0M68.1 294.6h0M53.3 285.8h0M65.6 309.9h0M61.6 306.9h0M57.7 281.2h0M60.4 319.3h0M86.9 295.2h0M58.0 303.7h0M78.9 289.5h0M66.0 324.6h0M76.0 313.5h0M91.7 299.4h0M67.7 311.0h0M50.1 300.9h0M86.8 305.9h0M70.9 319.6h0M68.5 295.3h0M64.0 304.0h0M59.8 290.9h0M67.5 316.9h0M49.1 289.4h0M87.6 293.8h0M52.1 311.8h0M77.0 307.7h0M54.5 317.8h0M50.5 303.3h0M86.6 311.6h0M90.2 295.9h0M64.9 315.5h0M60.7 296.2h0" stroke="#8a9080" stroke-width="0.90" stroke-linecap="round" opacity="0.7"/>
<path d="M72.1 309.9h0M65.6 305.5h0M83.9 298.7h0M77.6 318.5h0M51.1 313.8h0M65.1 301.7h0M83.8 296.6h0M60.1 298.1h0M52.2 281.8h0M70.7 302.5h0M60.9 322.2h0M80.6 320.5h0M62.8 285.9h0M89.0 307.9h0M58.6 309.6h0M87.2 289.7h0M67.2 309.1h0M88.5 298.7h0M54.5 289.9h0M74.4 314.4h0M52.6 308.5h0M80.9 304.9h0M57.8 313.7h0M74.4 313.2h0M50.5 308.5h0M76.7 292.7h0M47.8 300.9h0M52.1 287.5h0M64.4 320.5h0M72.9 293.0h0M53.5 303.6h0M76.7 297.7h0M51.4 281.5h0M75.5 290.5h0M57.2 314.5h0M80.7 311.8h0M59.9 305.4h0" stroke="#ffffff" stroke-width="1.00" stroke-linecap="round" opacity="0.8"/>
<path d="M106.3 288.6h0M100.9 290.9h0M103.7 298.7h0M99.0 289.0h0M113.0 296.5h0M94.1 296.8h0M103.1 288.9h0M99.1 293.7h0M98.4 295.8h0M100.4 290.3h0M104.4 297.8h0M95.0 300.2h0M99.9 298.9h0M109.6 298.6h0M96.2 300.3h0M102.7 287.8h0M100.8 290.4h0M101.0 303.0h0M100.2 296.4h0M104.3 287.5h0" stroke="#ffffff" stroke-width="0.90" stroke-linecap="round" opacity="0.9"/>
<path d="M92.2 303.1h0M101.0 287.2h0M107.4 293.1h0M106.6 296.4h0M112.0 300.2h0M104.8 292.3h0M99.3 295.7h0M102.9 301.5h0M101.7 287.9h0M104.9 287.6h0" stroke="#8a9080" stroke-width="0.90" stroke-linecap="round" opacity="0.7"/>
<rect x="36.2" y="337.4" width="56.1" height="68.0" fill="none" stroke="#8a8a8a" stroke-width="0.8"/>
<line x1="33.80" y1="349.70" x2="36.20" y2="349.70" stroke="#555" stroke-width="0.6" />
<text x="32.20" y="352.60" font-size="8.3" text-anchor="end" transform="matrix(1,0,0,1.1,0,-35.26)" >6</text>
<line x1="33.80" y1="368.80" x2="36.20" y2="368.80" stroke="#555" stroke-width="0.6" />
<text x="32.20" y="371.70" font-size="8.3" text-anchor="end" transform="matrix(1,0,0,1.1,0,-37.17)" >4</text>
<line x1="33.80" y1="387.20" x2="36.20" y2="387.20" stroke="#555" stroke-width="0.6" />
<text x="32.20" y="390.10" font-size="8.3" text-anchor="end" transform="matrix(1,0,0,1.1,0,-39.01)" >2</text>
<line x1="33.80" y1="405.40" x2="36.20" y2="405.40" stroke="#555" stroke-width="0.6" />
<text x="32.20" y="408.30" font-size="8.3" text-anchor="end" transform="matrix(1,0,0,1.1,0,-40.83)" >0</text>
<text x="46.90" y="412.60" font-size="8.3" text-anchor="middle" transform="matrix(1,0,0,1.1,0,-41.26)" >IgG</text>
<text x="63.90" y="412.60" font-size="8.3" text-anchor="middle" transform="matrix(1,0,0,1.1,0,-41.26)" >Spt</text>
<text x="82.30" y="412.60" font-size="8.3" text-anchor="middle" transform="matrix(1,0,0,1.1,0,-41.26)" >PD1</text>
<polygon points="46.20,358.50 46.19,359.66 46.18,360.82 46.15,361.99 46.12,363.15 46.08,364.31 46.04,365.48 46.00,366.64 45.97,367.80 45.94,368.96 45.91,370.12 45.90,371.29 45.85,372.45 45.34,373.61 44.91,374.77 45.00,375.94 45.33,377.10 45.63,378.26 45.69,379.43 45.53,380.59 45.22,381.75 44.83,382.91 44.43,384.07 44.11,385.24 43.92,386.40 43.95,387.56 44.27,388.73 44.50,389.89 44.06,391.05 43.16,392.21 42.92,393.38 43.21,394.54 43.49,395.70 43.12,396.86 41.98,398.02 41.48,399.19 40.45,400.35 39.16,401.51 38.82,402.68 37.99,403.84 37.50,405.00 55.50,405.00 55.01,403.84 54.18,402.68 53.84,401.51 52.55,400.35 51.52,399.19 51.02,398.02 49.88,396.86 49.51,395.70 49.79,394.54 50.08,393.38 49.84,392.21 48.94,391.05 48.50,389.89 48.73,388.73 49.05,387.56 49.08,386.40 48.89,385.24 48.57,384.07 48.17,382.91 47.78,381.75 47.47,380.59 47.31,379.43 47.37,378.26 47.67,377.10 48.00,375.94 48.09,374.77 47.66,373.61 47.15,372.45 47.10,371.29 47.09,370.12 47.06,368.96 47.03,367.80 47.00,366.64 46.96,365.48 46.92,364.31 46.88,363.15 46.85,361.99 46.82,360.82 46.81,359.66 46.80,358.50" fill="#707070" stroke="#000" stroke-width="0.8" stroke-linejoin="round"/>
<line x1="43.94" y1="387.00" x2="49.06" y2="387.00" stroke="#000" stroke-width="0.5" />
<line x1="43.00" y1="393.00" x2="50.00" y2="393.00" stroke="#000" stroke-width="0.9" />
<line x1="41.56" y1="399.00" x2="51.44" y2="399.00" stroke="#000" stroke-width="0.5" />
<polygon points="63.50,358.50 63.50,359.66 63.49,360.82 63.48,361.99 63.46,363.15 63.44,364.31 63.41,365.48 63.39,366.64 63.36,367.80 63.33,368.96 63.31,370.12 63.28,371.29 63.26,372.45 63.24,373.61 63.22,374.77 63.21,375.94 63.20,377.10 63.19,378.26 62.92,379.43 62.63,380.59 62.52,381.75 62.15,382.91 61.65,384.07 61.28,385.24 61.22,386.40 61.53,387.56 61.97,388.73 62.20,389.89 61.98,391.05 61.30,392.21 60.41,393.38 59.62,394.54 59.22,395.70 59.35,396.86 59.91,398.02 60.46,399.19 60.47,400.35 58.68,401.51 56.91,402.68 56.20,403.84 55.20,405.00 72.40,405.00 71.40,403.84 70.69,402.68 68.92,401.51 67.13,400.35 67.14,399.19 67.69,398.02 68.25,396.86 68.38,395.70 67.98,394.54 67.19,393.38 66.30,392.21 65.62,391.05 65.40,389.89 65.63,388.73 66.07,387.56 66.38,386.40 66.32,385.24 65.95,384.07 65.45,382.91 65.08,381.75 64.97,380.59 64.68,379.43 64.41,378.26 64.40,377.10 64.39,375.94 64.38,374.77 64.36,373.61 64.34,372.45 64.32,371.29 64.29,370.12 64.27,368.96 64.24,367.80 64.21,366.64 64.19,365.48 64.16,364.31 64.14,363.15 64.12,361.99 64.11,360.82 64.10,359.66 64.10,358.50" fill="#f3c38c" stroke="#e5801a" stroke-width="0.8" stroke-linejoin="round"/>
<line x1="60.70" y1="393.00" x2="66.90" y2="393.00" stroke="#e5801a" stroke-width="0.5" />
<line x1="59.90" y1="398.00" x2="67.70" y2="398.00" stroke="#e5801a" stroke-width="0.8" />
<polygon points="80.50,358.50 80.38,359.66 80.03,360.82 79.51,361.99 78.90,363.15 78.29,364.31 77.77,365.48 77.42,366.64 77.30,367.80 77.25,368.96 77.12,370.12 76.90,371.29 76.60,372.45 76.26,373.61 75.87,374.77 75.47,375.94 75.07,377.10 74.70,378.26 74.37,379.43 74.11,380.59 73.92,381.75 73.82,382.91 73.81,384.07 73.95,385.24 74.24,386.40 74.64,387.56 75.13,388.73 75.66,389.89 76.17,391.05 76.63,392.21 76.99,393.38 77.22,394.54 77.30,395.70 77.44,396.86 77.86,398.02 78.47,399.19 79.20,400.35 79.93,401.51 80.54,402.68 80.96,403.84 81.10,405.00 81.90,405.00 82.04,403.84 82.46,402.68 83.07,401.51 83.80,400.35 84.53,399.19 85.14,398.02 85.56,396.86 85.70,395.70 85.78,394.54 86.01,393.38 86.37,392.21 86.83,391.05 87.34,389.89 87.87,388.73 88.36,387.56 88.76,386.40 89.05,385.24 89.19,384.07 89.18,382.91 89.08,381.75 88.89,380.59 88.63,379.43 88.30,378.26 87.93,377.10 87.53,375.94 87.13,374.77 86.74,373.61 86.40,372.45 86.10,371.29 85.88,370.12 85.75,368.96 85.70,367.80 85.58,366.64 85.23,365.48 84.71,364.31 84.10,363.15 83.49,361.99 82.97,360.82 82.62,359.66 82.50,358.50" fill="#b17cc6" stroke="#7a1198" stroke-width="0.9" stroke-linejoin="round"/>
<line x1="75.38" y1="376.20" x2="87.62" y2="376.20" stroke="#7a1198" stroke-width="0.7" />
<line x1="73.91" y1="384.90" x2="89.09" y2="384.90" stroke="#7a1198" stroke-width="1.2" />
<line x1="76.87" y1="393.00" x2="86.13" y2="393.00" stroke="#7a1198" stroke-width="0.7" />
<line x1="46.50" y1="343.50" x2="81.50" y2="343.50" stroke="#777" stroke-width="0.8" />
<text x="65.40" y="345.00" font-size="8.8" text-anchor="middle" >***</text>
<line x1="63.80" y1="349.70" x2="81.50" y2="349.70" stroke="#777" stroke-width="0.8" />
<text x="73.90" y="351.20" font-size="8.8" text-anchor="middle" >***</text>
</svg></body></html>
